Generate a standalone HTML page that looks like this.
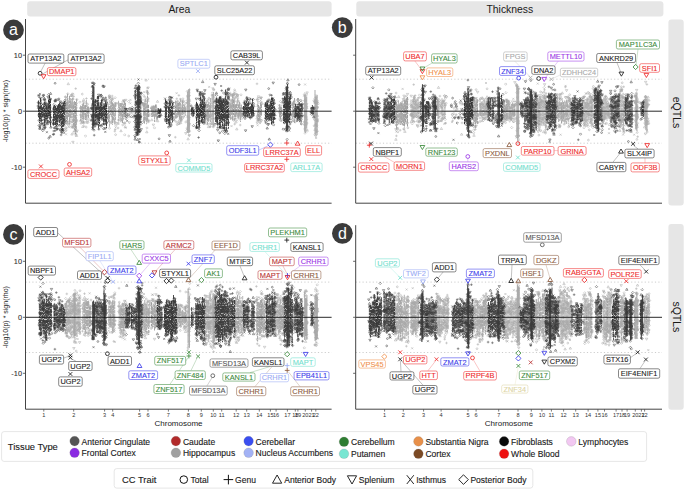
<!DOCTYPE html>
<html><head><meta charset="utf-8"><style>html,body{margin:0;padding:0;background:#fff;width:685px;height:490px;overflow:hidden}svg{display:block}</style></head>
<body><svg width="685" height="490" viewBox="0 0 685 490" font-family='"Liberation Sans", sans-serif'><defs><marker id="Dc" markerWidth="4" markerHeight="4" refX="2" refY="2" markerUnits="userSpaceOnUse" overflow="visible"><circle cx="2" cy="2" r="0.9" fill="none" stroke="#3c3c3c" stroke-width="0.5"/></marker><marker id="Dt" markerWidth="4" markerHeight="4" refX="2" refY="2" markerUnits="userSpaceOnUse" overflow="visible"><path d="M2 0.8L3.2 2.9H0.8z" fill="none" stroke="#3c3c3c" stroke-width="0.5"/></marker><marker id="Dv" markerWidth="4" markerHeight="4" refX="2" refY="2" markerUnits="userSpaceOnUse" overflow="visible"><path d="M2 3.2L3.2 1.1H0.8z" fill="none" stroke="#3c3c3c" stroke-width="0.5"/></marker><marker id="Dd" markerWidth="4" markerHeight="4" refX="2" refY="2" markerUnits="userSpaceOnUse" overflow="visible"><path d="M2 0.8L3.2 2L2 3.2L0.8 2z" fill="none" stroke="#3c3c3c" stroke-width="0.5"/></marker><marker id="Dp" markerWidth="4" markerHeight="4" refX="2" refY="2" markerUnits="userSpaceOnUse" overflow="visible"><path d="M0.7 2H3.3M2 0.7V3.3" fill="none" stroke="#3c3c3c" stroke-width="0.5"/></marker><marker id="Dx" markerWidth="4" markerHeight="4" refX="2" refY="2" markerUnits="userSpaceOnUse" overflow="visible"><path d="M1 1L3 3M3 1L1 3" fill="none" stroke="#3c3c3c" stroke-width="0.5"/></marker><marker id="Lc" markerWidth="4" markerHeight="4" refX="2" refY="2" markerUnits="userSpaceOnUse" overflow="visible"><circle cx="2" cy="2" r="0.9" fill="none" stroke="#a8a8a8" stroke-width="0.5"/></marker><marker id="Lt" markerWidth="4" markerHeight="4" refX="2" refY="2" markerUnits="userSpaceOnUse" overflow="visible"><path d="M2 0.8L3.2 2.9H0.8z" fill="none" stroke="#a8a8a8" stroke-width="0.5"/></marker><marker id="Lv" markerWidth="4" markerHeight="4" refX="2" refY="2" markerUnits="userSpaceOnUse" overflow="visible"><path d="M2 3.2L3.2 1.1H0.8z" fill="none" stroke="#a8a8a8" stroke-width="0.5"/></marker><marker id="Ld" markerWidth="4" markerHeight="4" refX="2" refY="2" markerUnits="userSpaceOnUse" overflow="visible"><path d="M2 0.8L3.2 2L2 3.2L0.8 2z" fill="none" stroke="#a8a8a8" stroke-width="0.5"/></marker><marker id="Lp" markerWidth="4" markerHeight="4" refX="2" refY="2" markerUnits="userSpaceOnUse" overflow="visible"><path d="M0.7 2H3.3M2 0.7V3.3" fill="none" stroke="#a8a8a8" stroke-width="0.5"/></marker><marker id="Lx" markerWidth="4" markerHeight="4" refX="2" refY="2" markerUnits="userSpaceOnUse" overflow="visible"><path d="M1 1L3 3M3 1L1 3" fill="none" stroke="#a8a8a8" stroke-width="0.5"/></marker></defs><rect width="685" height="490" fill="#fff"/><rect x="27.2" y="1.2" width="304.40000000000003" height="15.3" rx="3" fill="#e6e6e6"/><text x="179.4" y="13.45" font-size="10.4" text-anchor="middle" fill="#1a1a1a">Area</text><rect x="356.3" y="1.2" width="307.09999999999997" height="15.3" rx="3" fill="#e6e6e6"/><text x="509.85" y="13.45" font-size="10.4" text-anchor="middle" fill="#1a1a1a">Thickness</text><rect x="668.4" y="19.6" width="15.300000000000068" height="185.8" rx="3" fill="#e6e6e6"/><text transform="translate(672.8499999999999,112.5) rotate(90)" font-size="10.5" text-anchor="middle" fill="#1a1a1a">eQTLs</text><rect x="668.4" y="224.0" width="15.300000000000068" height="185.8" rx="3" fill="#e6e6e6"/><text transform="translate(672.8499999999999,316.9) rotate(90)" font-size="10.5" text-anchor="middle" fill="#1a1a1a">sQTLs</text><line x1="25.5" y1="79.2" x2="331.6" y2="79.2" stroke="#b8b8b8" stroke-width="0.7" stroke-dasharray="1.2,2.2"/><line x1="25.5" y1="143.2" x2="331.6" y2="143.2" stroke="#b8b8b8" stroke-width="0.7" stroke-dasharray="1.2,2.2"/><line x1="22.9" y1="55.2" x2="25.5" y2="55.2" stroke="#444444" stroke-width="0.8"/><text x="22.0" y="57.800000000000004" font-size="7.4" text-anchor="end" fill="#333" stroke="#333" stroke-width="0.1">10</text><line x1="22.9" y1="111.2" x2="25.5" y2="111.2" stroke="#444444" stroke-width="0.8"/><text x="22.0" y="113.8" font-size="7.4" text-anchor="end" fill="#333" stroke="#333" stroke-width="0.1">0</text><line x1="22.9" y1="167.2" x2="25.5" y2="167.2" stroke="#444444" stroke-width="0.8"/><text x="22.0" y="169.79999999999998" font-size="7.4" text-anchor="end" fill="#333" stroke="#333" stroke-width="0.1">-10</text><text transform="translate(7.899999999999999,111.1) rotate(-90)" font-size="7" text-anchor="middle" fill="#1a1a1a">-log10(p) * sign(rho)</text><line x1="355.7" y1="79.2" x2="662.0" y2="79.2" stroke="#b8b8b8" stroke-width="0.7" stroke-dasharray="1.2,2.2"/><line x1="355.7" y1="143.2" x2="662.0" y2="143.2" stroke="#b8b8b8" stroke-width="0.7" stroke-dasharray="1.2,2.2"/><line x1="353.09999999999997" y1="55.2" x2="355.7" y2="55.2" stroke="#444444" stroke-width="0.8"/><line x1="353.09999999999997" y1="111.2" x2="355.7" y2="111.2" stroke="#444444" stroke-width="0.8"/><line x1="353.09999999999997" y1="167.2" x2="355.7" y2="167.2" stroke="#444444" stroke-width="0.8"/><line x1="25.5" y1="282.1" x2="331.6" y2="282.1" stroke="#b8b8b8" stroke-width="0.7" stroke-dasharray="1.2,2.2"/><line x1="25.5" y1="352.5" x2="331.6" y2="352.5" stroke="#b8b8b8" stroke-width="0.7" stroke-dasharray="1.2,2.2"/><line x1="22.9" y1="261.3" x2="25.5" y2="261.3" stroke="#444444" stroke-width="0.8"/><text x="22.0" y="263.90000000000003" font-size="7.4" text-anchor="end" fill="#333" stroke="#333" stroke-width="0.1">10</text><line x1="22.9" y1="317.3" x2="25.5" y2="317.3" stroke="#444444" stroke-width="0.8"/><text x="22.0" y="319.90000000000003" font-size="7.4" text-anchor="end" fill="#333" stroke="#333" stroke-width="0.1">0</text><line x1="22.9" y1="373.3" x2="25.5" y2="373.3" stroke="#444444" stroke-width="0.8"/><text x="22.0" y="375.90000000000003" font-size="7.4" text-anchor="end" fill="#333" stroke="#333" stroke-width="0.1">-10</text><text transform="translate(7.899999999999999,317.2) rotate(-90)" font-size="7" text-anchor="middle" fill="#1a1a1a">-log10(p) * sign(rho)</text><line x1="43.8" y1="409.2" x2="43.8" y2="411.59999999999997" stroke="#444444" stroke-width="0.7"/><text x="43.8" y="416.9" font-size="5.6" text-anchor="middle" fill="#333">1</text><line x1="73.7" y1="409.2" x2="73.7" y2="411.59999999999997" stroke="#444444" stroke-width="0.7"/><text x="73.7" y="416.9" font-size="5.6" text-anchor="middle" fill="#333">2</text><line x1="104.6" y1="409.2" x2="104.6" y2="411.59999999999997" stroke="#444444" stroke-width="0.7"/><text x="104.6" y="416.9" font-size="5.6" text-anchor="middle" fill="#333">3</text><line x1="112.7" y1="409.2" x2="112.7" y2="411.59999999999997" stroke="#444444" stroke-width="0.7"/><text x="112.7" y="416.9" font-size="5.6" text-anchor="middle" fill="#333">4</text><line x1="139.6" y1="409.2" x2="139.6" y2="411.59999999999997" stroke="#444444" stroke-width="0.7"/><text x="139.6" y="416.9" font-size="5.6" text-anchor="middle" fill="#333">5</text><line x1="148.0" y1="409.2" x2="148.0" y2="411.59999999999997" stroke="#444444" stroke-width="0.7"/><text x="148.0" y="416.9" font-size="5.6" text-anchor="middle" fill="#333">6</text><line x1="168.4" y1="409.2" x2="168.4" y2="411.59999999999997" stroke="#444444" stroke-width="0.7"/><text x="168.4" y="416.9" font-size="5.6" text-anchor="middle" fill="#333">7</text><line x1="188.4" y1="409.2" x2="188.4" y2="411.59999999999997" stroke="#444444" stroke-width="0.7"/><text x="188.4" y="416.9" font-size="5.6" text-anchor="middle" fill="#333">8</text><line x1="201.3" y1="409.2" x2="201.3" y2="411.59999999999997" stroke="#444444" stroke-width="0.7"/><text x="201.3" y="416.9" font-size="5.6" text-anchor="middle" fill="#333">9</text><line x1="213.3" y1="409.2" x2="213.3" y2="411.59999999999997" stroke="#444444" stroke-width="0.7"/><text x="213.3" y="416.9" font-size="5.6" text-anchor="middle" fill="#333">10</text><line x1="221.7" y1="409.2" x2="221.7" y2="411.59999999999997" stroke="#444444" stroke-width="0.7"/><text x="221.7" y="416.9" font-size="5.6" text-anchor="middle" fill="#333">11</text><line x1="236.2" y1="409.2" x2="236.2" y2="411.59999999999997" stroke="#444444" stroke-width="0.7"/><text x="236.2" y="416.9" font-size="5.6" text-anchor="middle" fill="#333">12</text><line x1="246.7" y1="409.2" x2="246.7" y2="411.59999999999997" stroke="#444444" stroke-width="0.7"/><text x="246.7" y="416.9" font-size="5.6" text-anchor="middle" fill="#333">13</text><line x1="259.3" y1="409.2" x2="259.3" y2="411.59999999999997" stroke="#444444" stroke-width="0.7"/><text x="259.3" y="416.9" font-size="5.6" text-anchor="middle" fill="#333">14</text><line x1="270.4" y1="409.2" x2="270.4" y2="411.59999999999997" stroke="#444444" stroke-width="0.7"/><text x="270.4" y="416.9" font-size="5.6" text-anchor="middle" fill="#333">15</text><line x1="276.1" y1="409.2" x2="276.1" y2="411.59999999999997" stroke="#444444" stroke-width="0.7"/><text x="276.1" y="416.9" font-size="5.6" text-anchor="middle" fill="#333">16</text><line x1="287.4" y1="409.2" x2="287.4" y2="411.59999999999997" stroke="#444444" stroke-width="0.7"/><text x="287.4" y="416.9" font-size="5.6" text-anchor="middle" fill="#333">17</text><line x1="295.3" y1="409.2" x2="295.3" y2="411.59999999999997" stroke="#444444" stroke-width="0.7"/><text x="295.3" y="416.9" font-size="5.6" text-anchor="middle" fill="#333">18</text><line x1="297.9" y1="409.2" x2="297.9" y2="411.59999999999997" stroke="#444444" stroke-width="0.7"/><text x="297.9" y="416.9" font-size="5.6" text-anchor="middle" fill="#333">19</text><line x1="305.3" y1="409.2" x2="305.3" y2="411.59999999999997" stroke="#444444" stroke-width="0.7"/><text x="305.3" y="416.9" font-size="5.6" text-anchor="middle" fill="#333">20</text><line x1="311.6" y1="409.2" x2="311.6" y2="411.59999999999997" stroke="#444444" stroke-width="0.7"/><text x="311.6" y="416.9" font-size="5.6" text-anchor="middle" fill="#333">21</text><line x1="315.8" y1="409.2" x2="315.8" y2="411.59999999999997" stroke="#444444" stroke-width="0.7"/><text x="315.8" y="416.9" font-size="5.6" text-anchor="middle" fill="#333">22</text><text x="178.55" y="425.8" font-size="8" text-anchor="middle" fill="#1a1a1a">Chromosome</text><line x1="355.7" y1="282.1" x2="662.0" y2="282.1" stroke="#b8b8b8" stroke-width="0.7" stroke-dasharray="1.2,2.2"/><line x1="355.7" y1="352.5" x2="662.0" y2="352.5" stroke="#b8b8b8" stroke-width="0.7" stroke-dasharray="1.2,2.2"/><line x1="353.09999999999997" y1="261.3" x2="355.7" y2="261.3" stroke="#444444" stroke-width="0.8"/><line x1="353.09999999999997" y1="317.3" x2="355.7" y2="317.3" stroke="#444444" stroke-width="0.8"/><line x1="353.09999999999997" y1="373.3" x2="355.7" y2="373.3" stroke="#444444" stroke-width="0.8"/><line x1="384.6" y1="409.2" x2="384.6" y2="411.59999999999997" stroke="#444444" stroke-width="0.7"/><text x="384.6" y="416.9" font-size="5.6" text-anchor="middle" fill="#333">1</text><line x1="403.3" y1="409.2" x2="403.3" y2="411.59999999999997" stroke="#444444" stroke-width="0.7"/><text x="403.3" y="416.9" font-size="5.6" text-anchor="middle" fill="#333">2</text><line x1="423.6" y1="409.2" x2="423.6" y2="411.59999999999997" stroke="#444444" stroke-width="0.7"/><text x="423.6" y="416.9" font-size="5.6" text-anchor="middle" fill="#333">3</text><line x1="441.1" y1="409.2" x2="441.1" y2="411.59999999999997" stroke="#444444" stroke-width="0.7"/><text x="441.1" y="416.9" font-size="5.6" text-anchor="middle" fill="#333">4</text><line x1="468.0" y1="409.2" x2="468.0" y2="411.59999999999997" stroke="#444444" stroke-width="0.7"/><text x="468.0" y="416.9" font-size="5.6" text-anchor="middle" fill="#333">5</text><line x1="476.1" y1="409.2" x2="476.1" y2="411.59999999999997" stroke="#444444" stroke-width="0.7"/><text x="476.1" y="416.9" font-size="5.6" text-anchor="middle" fill="#333">6</text><line x1="498.7" y1="409.2" x2="498.7" y2="411.59999999999997" stroke="#444444" stroke-width="0.7"/><text x="498.7" y="416.9" font-size="5.6" text-anchor="middle" fill="#333">7</text><line x1="518.0" y1="409.2" x2="518.0" y2="411.59999999999997" stroke="#444444" stroke-width="0.7"/><text x="518.0" y="416.9" font-size="5.6" text-anchor="middle" fill="#333">8</text><line x1="531.3" y1="409.2" x2="531.3" y2="411.59999999999997" stroke="#444444" stroke-width="0.7"/><text x="531.3" y="416.9" font-size="5.6" text-anchor="middle" fill="#333">9</text><line x1="541.9" y1="409.2" x2="541.9" y2="411.59999999999997" stroke="#444444" stroke-width="0.7"/><text x="541.9" y="416.9" font-size="5.6" text-anchor="middle" fill="#333">10</text><line x1="551.4" y1="409.2" x2="551.4" y2="411.59999999999997" stroke="#444444" stroke-width="0.7"/><text x="551.4" y="416.9" font-size="5.6" text-anchor="middle" fill="#333">11</text><line x1="563.6" y1="409.2" x2="563.6" y2="411.59999999999997" stroke="#444444" stroke-width="0.7"/><text x="563.6" y="416.9" font-size="5.6" text-anchor="middle" fill="#333">12</text><line x1="575.7" y1="409.2" x2="575.7" y2="411.59999999999997" stroke="#444444" stroke-width="0.7"/><text x="575.7" y="416.9" font-size="5.6" text-anchor="middle" fill="#333">13</text><line x1="588.1" y1="409.2" x2="588.1" y2="411.59999999999997" stroke="#444444" stroke-width="0.7"/><text x="588.1" y="416.9" font-size="5.6" text-anchor="middle" fill="#333">14</text><line x1="597.9" y1="409.2" x2="597.9" y2="411.59999999999997" stroke="#444444" stroke-width="0.7"/><text x="597.9" y="416.9" font-size="5.6" text-anchor="middle" fill="#333">15</text><line x1="604.5" y1="409.2" x2="604.5" y2="411.59999999999997" stroke="#444444" stroke-width="0.7"/><text x="604.5" y="416.9" font-size="5.6" text-anchor="middle" fill="#333">16</text><line x1="616.1" y1="409.2" x2="616.1" y2="411.59999999999997" stroke="#444444" stroke-width="0.7"/><text x="616.1" y="416.9" font-size="5.6" text-anchor="middle" fill="#333">17</text><line x1="622.0" y1="409.2" x2="622.0" y2="411.59999999999997" stroke="#444444" stroke-width="0.7"/><text x="622.0" y="416.9" font-size="5.6" text-anchor="middle" fill="#333">18</text><line x1="627.1" y1="409.2" x2="627.1" y2="411.59999999999997" stroke="#444444" stroke-width="0.7"/><text x="627.1" y="416.9" font-size="5.6" text-anchor="middle" fill="#333">19</text><line x1="635.3" y1="409.2" x2="635.3" y2="411.59999999999997" stroke="#444444" stroke-width="0.7"/><text x="635.3" y="416.9" font-size="5.6" text-anchor="middle" fill="#333">20</text><line x1="641.4" y1="409.2" x2="641.4" y2="411.59999999999997" stroke="#444444" stroke-width="0.7"/><text x="641.4" y="416.9" font-size="5.6" text-anchor="middle" fill="#333">21</text><line x1="644.6" y1="409.2" x2="644.6" y2="411.59999999999997" stroke="#444444" stroke-width="0.7"/><text x="644.6" y="416.9" font-size="5.6" text-anchor="middle" fill="#333">22</text><text x="508.85" y="425.8" font-size="8" text-anchor="middle" fill="#1a1a1a">Chromosome</text><path d="M187.5 91.3V133.1M188.5 89.2V133.5M189.5 88.6V132.4M212.1 94.3V125.3M213.4 92.1V126.8M304.5 94.4V131.7M305.6 95.1V132.9M306.7 96.6V128.5M315 90.1V134M316.1 96.2V133.2M317.2 95.1V133" stroke="#b3b3b3" stroke-width="1.1"/><path d="M75.5 101.9V134.3M108.5 106.2V122M148.5 104.8V117.1M155.5 104.5V116.4M178.5 102.9V115.4M233.5 100V114.9M258.5 105.1V121.3M280.5 106.9V119.8" stroke="#9c9c9c" stroke-width="1.05" stroke-dasharray="3.2 0.7 4.4 0.6"/><path d="M65.5 100.2V123.1M66.5 101.7V123.8M67.5 93.6V122.5M69.5 95.9V124.2M73.5 104.9V125.8M85.5 105.1V120.1M87.5 106.5V115.8M88.5 106.4V117.7M112.5 102.5V124.8M122.5 105.8V122.9M124.5 101.4V116.8M125.5 102.7V116.4M144.5 102.8V123.4M147.5 90.8V120M179.5 101.8V118.7M182.5 100.7V114.7M205.5 103.4V122.2M207.5 104.1V124.5M235.5 104.4V118.7M236.5 104.1V114.5M238.5 104.3V118.5M260.5 102.5V116.2M261.5 104.1V115.6M293.5 101V117.2M294.5 97.9V123.1" stroke="#a4a4a4" stroke-width="1.05" stroke-dasharray="4 0.6 2.6 0.7 5 0.5"/><path d="M68.5 105.2V117.1M70.5 100.7V118.9M74.5 101V130.5M82.5 104.2V119.1M83.5 102.4V124.3M110.5 105.3V115M113.5 103.4V120M119.5 106.6V116.2M152.5 106.7V117M153.5 105.8V116.2M154.5 106.2V121.9M175.5 100.8V118.3M208.5 103.6V122.1M231.5 104.6V115.1M232.5 94.2V120.5M239.5 101.9V114.8M240.5 107.4V122.1M259.5 107.2V120.9M279.5 104.2V118M281.5 107V116.4" stroke="#acacac" stroke-width="1.05" stroke-dasharray="4 0.6 2.6 0.7 5 0.5"/><path d="M76.5 98.8V131.4M80.5 105.6V120.9M84.5 105.3V114.6M109.5 106.1V127.4M111.5 100.1V118.2M115.5 103.2V120.1M120.5 103.1V115.8M121.5 103.7V116.9M123.5 104V119.5M143.5 103.5V121.9M151.5 108V117.1M157.5 107.9V119.5M176.5 105.1V118.7M177.5 102.7V117.5M180.5 98.5V120.5M184.5 105.5V114.2M210.5 97.9V122M230.5 103.7V119.7M234.5 99.8V120.8M292.5 102.5V119.5M316.5 106.5V121.4" stroke="#b4b4b4" stroke-width="1.05" stroke-dasharray="4 0.6 2.6 0.7 5 0.5"/><path d="M71.5 102.2V118.2M72.5 97.7V120.7M81.5 106.3V118M86.5 100V122.3M114.5 104.6V124.4M118.5 100.7V120M145.5 98.6V118.2M146.5 104.6V124.3M156.5 104.5V119.6M181.5 107.5V120.3M183.5 107V114.1M185.5 106.4V115.8M206.5 104.2V119.6M209.5 105.4V117.9M229.5 102V115.4M237.5 98.8V117.2M241.5 104.8V117.1M257.5 103.4V121.4" stroke="#bcbcbc" stroke-width="1.05" stroke-dasharray="4 0.6 2.6 0.7 5 0.5"/><path d="M65.9 130.5 65.2 96.9 66.5 98.4 67.7 102.3 68 123.2 68.5 125.4 68.3 106.1 68.8 102.4 70.2 114.1 69.9 116 70.9 95.7 72.1 107 72.6 121.2 73.7 105.3 73.9 119.1 75.1 129.2 75.7 119.5 76.4 103.3 76.3 107.3 76.4 120 80.6 114.9 80.4 121 81.9 119.7 81.6 117.8 82.2 122 82.9 104.4 83.9 123.1 84.7 114.2 85.8 114.7 85.9 116.1 86.2 127.1 86.1 114.9 87.1 122.8 87.8 120.8 88 122.4 88.9 108.5 88.5 109.4 82.3 94.1 108.4 118.1 108.1 116.6 109.5 128.3 109.4 97.4 110.3 102.4 110.3 107.4 110.1 101.4 112 120.9 111.7 113.4 112.4 101.4 115.1 109.3 114.7 106.2 116 125.3 115.7 105.7 115.6 134.7 118.3 123 118 128 119.8 113.1 121 120 121.1 113.7 121.5 109.4 122.7 124.9 121.9 104.2 124.8 123.4 125.6 115.9 128.7 136 143.7 95.5 144.9 97.2 145 107.5 145.3 117.9 147.3 118.2 148.3 98.8 149 121.3 148.2 93.7 151.5 108.6 154.4 107.4 156.9 116.6 156.9 117 157.2 114 177.2 124.7 178 116 177.5 102.3 178.1 106.8 178.8 109 182.9 98.8 185.8 122 185.5 109.6 185.3 108.7 185.8 103.2 187.1 107 188.9 119.6 188.4 122.9 189.2 99.6 205.4 116.6 207.7 124 208.9 117 208.9 115.6 210 105.6 213.3 113.8 213.9 114.1 213.2 126.9 230.1 93 230 94.7 230.5 106.6 231 113.3 231.7 112.5 234.6 89.9 236.2 105.2 236.7 94.6 238.9 102.3 238.8 115.1 239.7 119.1 239.1 106.8 239.9 113.6 241.8 113.9 257.6 99.8 257.9 115.2 257.9 120.7 259.9 119 260.1 122.3 260 117.3 279.3 112.5 280.6 120.5 281.9 109.6 292 102.7 292.1 116.3 294.1 113.4 295.1 122.1 304.2 124.5 305.1 114.9 306.5 94.8 314.1 125.8 313.9 100.6 315.6 106.2 316.8 108 317.5 100.9 314.9 134.6 315.5 99.8 316.2 97.6 317.4 107.4 317.6 120.7 317.5 121.6" fill="none" stroke="none" marker-start="url(#Lc)" marker-mid="url(#Lc)" marker-end="url(#Lc)"/><path d="M65.4 118.8 65.6 103.4 65.7 130.5 66.9 98.3 67.8 93.8 67.8 103.2 68.2 115 68.6 122.7 69.8 120.9 70 106 69.4 115.9 71 105 71.9 127 71 118.8 72.2 94 73 94.1 74.3 121.3 74 120.7 74 132.6 76 115.4 80.8 107.7 79.9 102.1 81.2 120.1 81.9 109.1 84 106.1 84.8 108.9 85 122.1 87.1 103.9 87.2 104.6 89 109.3 88.7 112.8 85.5 136 109.3 99.3 110.7 98.7 110.6 107.9 112.1 119.7 114 120.6 113.3 107.5 113.9 121.5 114.2 105.3 115.7 122.8 115.1 97.8 118.9 108.4 120 106.1 120.7 113.9 121.2 106.1 121 117.7 122.3 119.9 122.9 101.2 124.6 122.9 124.7 134.9 126 118.8 128.6 101.5 144.1 107.8 144.2 104.4 145 113.3 145.9 119.3 146.6 105.5 147 128 147.5 93 152.4 110.1 153.1 108.1 155.5 114.5 156.9 113.4 156.8 108.8 157.7 115.3 157.7 116.9 154.5 127.9 175.1 115.8 175.9 102.8 178.1 113.7 178.9 123.7 180.4 99.1 182.3 118.2 184.5 114.1 184.2 105 187.3 100.4 187 130.6 187.8 95.5 187.3 91.3 188.3 126.8 188.1 103.1 188.3 128.2 189.8 104.4 206.6 123.9 207.2 114.9 207.5 121.4 209.2 104.5 208.9 120 211.1 106.8 211 115.4 212.2 102.8 212.3 115.7 212.6 93 213.9 126.1 230 108.1 230.2 100 231.2 105.9 232.7 96.3 232.9 117 232 100.2 233.1 115.2 234.9 91.5 234.1 93.8 237.6 95.2 238.9 116.6 239.5 107.7 241 109.5 241.5 108.5 241 94.9 258.4 114.2 260 115.7 259.9 122.9 262 103.6 261.4 120.6 261.2 103.6 279.9 108.1 280.5 101.5 280 108.2 281.9 119.2 294 120.6 294.3 119 294.1 103.1 304.6 121.8 304.6 100.7 305.1 103.7 305.7 100.9 305 133.1 305.2 106.3 307.3 131 316 102.9 316.8 120.9 318.1 103.7 314.8 101.8 315.1 103.2 315.1 98.4 315.7 103" fill="none" stroke="none" marker-start="url(#Ld)" marker-mid="url(#Ld)" marker-end="url(#Ld)"/><path d="M65.7 96.8 65.1 103.3 66.5 116.9 66.6 122.9 69.8 121.7 70 99.3 73 127.7 74 131.4 73 102.4 73.1 98.8 73.7 96.4 75 125 74.4 116.8 74.5 123.7 75.8 117.9 76.3 105.2 77 121 75.7 88.6 81 123.4 83 101.6 82.3 107.7 83.9 116.7 84.9 118.6 86.4 98.5 109.6 97.3 111.6 103.2 112.1 105.6 112.2 98.1 112 99.6 112.2 96 113.6 107.7 115 103.2 115.2 129.5 115.6 122.5 115.7 103.7 114.8 131.2 118.7 120.6 118.6 119.7 122 103.5 123.6 101.4 124.2 108.9 125.3 116.7 127.2 113.8 129.9 116.8 133.8 117.7 143.3 103.3 146.1 103.3 147 90.8 146.2 120.1 148 122.1 152 106.6 152.4 107 152.9 108.2 153.6 109.8 154.9 115 175.2 121 176.8 98.8 176.5 105.8 177.9 114.1 178.9 95.4 179 104.3 179.3 114.8 180.6 119.7 180.9 116.8 175.3 137.2 181.9 108.6 181.3 121 181 105 182.8 101.3 182.7 102.7 182 113.7 183 105.7 184.1 105.3 187 102.8 187.5 96.8 188.1 96.3 189.6 117.6 189 135.3 189.6 95.6 189.3 123.8 189.8 131.1 205.7 102.7 206 104.1 205.4 108.3 206 117.4 207.2 114.6 207.9 117 208.8 102.5 209.5 109.4 210.1 106.4 209.9 126.8 210.4 126.7 210.3 124.2 211.9 95.1 211.7 118.7 213.5 94.6 213.9 89.9 231 118.4 231.8 117.8 231.3 106.4 231.2 94.6 232.9 118.9 234.3 104.5 234.7 124.1 235.3 114.7 235.9 113.5 235.3 97.9 236 101.3 236.1 94 237.9 98.2 238.5 100.8 239.1 116.2 240.2 125 256.9 99.5 258.8 108.2 261.4 104.1 257 83.8 279.2 108.3 281.5 120.8 281.5 113.3 281.7 102.4 293.6 104.9 294.4 116.5 305.3 116.4 307 129.9 306.9 122.4 314.6 109.1 315.7 114.4 315.9 103.5 314.7 102.6 315.1 107.1 315 101.4 314.9 101.1 314.8 107.5 315.9 124.3 315.9 116.5 317.5 107.7 316.8 124.1" fill="none" stroke="none" marker-start="url(#Lp)" marker-mid="url(#Lp)" marker-end="url(#Lp)"/><path d="M66.2 103.7 67.3 102.7 68.7 115 69 101.8 70 115.9 71.1 100.7 70.5 99.2 71.8 95.6 72 134.1 72.8 98.9 72 121.8 72.7 106.9 74 103.2 74.9 120.3 75.8 120 76.6 135.5 68.3 83.8 80.8 107.4 81.8 107.7 82.8 126.6 83.7 99.6 84.2 107.3 85.1 102.4 88.4 118.4 108.3 115 109.5 108.7 109.4 95.9 110.6 103.6 111 122.8 114 107.8 113.7 107.7 118.4 103.2 118 123.5 119.7 104.5 120.2 117.9 121.4 120.9 121.1 114 123.6 106.4 124.3 113.9 125.2 126.6 121 130.8 127.1 116.7 143.7 120.7 143.3 104.6 144 105.9 144.4 113.7 144.2 103.6 145.7 100.6 146.7 117 146.8 106.7 147.3 91.6 147.9 100.5 147.2 119.5 148.8 115.4 146.8 131.9 146.1 80.1 151.8 119.8 152.7 113.5 152.8 109.7 155.2 115 157.5 101.4 157.8 120.9 175.7 117 176.9 103.4 177 122.1 176.9 105.3 178.9 123.5 178.6 107.6 179.6 113.8 179.5 120.1 180.7 122.7 188.3 95.6 189 92.2 189.4 100.5 188.1 138.9 205.6 115.9 206.9 115.9 208.1 115.5 209 98.1 209 108.5 208.5 126.7 209.1 118 210.8 122.5 213.6 89 213.9 97.2 229.8 113.7 229.1 99.1 231.1 101.2 230.3 106.9 230.9 94.9 232.2 102.6 233.3 94.7 233.6 98.6 234.1 93.4 234.1 107.4 234.1 106.6 233.9 98.5 235.2 115.4 236 122 237.9 116.2 237.3 95.8 240.3 104.7 241.2 115.2 241.4 118.2 236.8 129 257.4 115.7 257 118 258 119.4 259.5 119.4 292.2 105 293.1 103.8 293.2 113.1 293 114.5 304.4 115.3 304.6 104.3 304.7 93.7 305.4 99.7 305 128.3 306.8 107.7 314.9 114.1 314.3 116.1 315.2 109.1 317 115 317 102.2 317.2 115.8 315 129.5 314.7 115.3 315.7 124.6 316.3 133.6 317.2 130.6" fill="none" stroke="none" marker-start="url(#Lt)" marker-mid="url(#Lt)" marker-end="url(#Lt)"/><path d="M65.9 127.8 66.8 106.3 70.5 115 71.1 102.6 71.8 106.1 71.5 95.5 72.8 125.6 73 127.2 73.6 115.5 74.4 127.4 75.9 109 75.9 104.2 75.9 135.4 75.7 120.2 75.1 123.8 76.3 132.5 76.9 99.9 77.1 130.9 72.9 142.2 80.9 109.2 82.3 122 83.6 114.9 82.9 122.7 84.7 109.3 107.9 105.4 108.9 117.3 109.5 96.1 111.4 122.3 116 103.5 121 115 121.4 119.8 121.8 117.5 123.8 100.7 123.7 107.6 123.3 108 124.6 114.2 124.3 101 125.2 115.6 126 118.7 125.8 100.2 129.3 122.7 130.2 113.3 132.3 113.3 133.5 109.2 143.3 105 143 103.8 144.8 100.6 145.2 104.4 146 107.6 148.1 87.9 147.6 99 149 114 148.2 120.8 151.7 108.6 153.4 125 176.1 109.3 179.7 114.9 179.8 122.3 181.1 107.2 180.2 119.3 181.8 119.7 182.1 101.3 183.7 101.8 183.9 108.9 183.5 117 185.8 133.4 188 121.1 187.1 128.8 188.1 106 188 116.4 188.4 117.2 188.6 125.7 189.4 135.5 205.2 108.3 206.1 119.2 206.3 115.9 209.3 116.2 210.1 106.4 213.4 95.9 213.8 106.3 229.6 116.9 231 104.4 230 103.6 231.8 107.6 233.1 96.1 233.7 94.5 233.9 120.4 234.9 107.7 235.5 107.5 235.2 119.3 236 114.8 236.2 97 237.7 95.3 238.8 114.3 240 114.9 240.1 114.8 257.2 122.8 258.2 102.4 258.3 98.5 258.5 96.7 261 98 260.4 107.3 261 120.5 261.2 97.9 280 119.7 280.9 106 305 125.2 306.2 117.7 307.1 92.8 306.8 124.3 306.8 119.8 306.7 107 306.7 104.5 314.4 119.7 316.2 115.1 316.2 114 317.5 119.7 315.8 136.1 316.5 134.4 317.1 103.2 316.7 120.1" fill="none" stroke="none" marker-start="url(#Lv)" marker-mid="url(#Lv)" marker-end="url(#Lv)"/><path d="M65.8 117.6 66.7 128.4 66 117.5 66.1 121.3 66 134.3 67.1 115.2 67.1 124 67.2 105.2 69 104.9 68.2 100.6 69.5 116 69.7 124.3 69.2 127.1 71.6 107 71.6 127.2 72 122.4 73.2 125.6 74 104.1 82.9 115.9 84.1 126.2 86 117 85.8 117.1 86.2 116.6 86.8 106.7 87.2 113.3 87.9 116.7 108.6 120.6 110 97.8 109 107.6 111.2 109.2 113 118.2 111.9 114.6 113 99.1 114.2 115.3 115.6 127.4 119 105 120.7 103.9 122.9 108.1 122.4 104.6 124.1 123.1 125.7 127.8 128.5 115 129.6 108 130.3 103.3 130.4 99.9 143.6 122.6 144.3 92.1 145.6 119.1 145.2 114.5 145.2 119.1 146.7 114.6 147.5 87.9 148.1 120.2 151.4 115 151 108.1 153.5 113.3 154.4 107.7 154 116 154.1 106.1 155.4 112.6 155.6 107.7 156.9 119 156.4 120.8 175.2 118 177.1 107.2 177 109.1 176.6 101.3 178 101.2 176.6 93.2 181.4 117.1 183.4 108.3 184 116.4 185.6 109.2 187.6 116.9 187.6 101.5 187.8 98 188 130.3 189.4 90.1 189.7 124.3 206.1 115 206.1 102.7 207.1 101.6 207 100.5 208.4 99.8 210.9 115.9 209.2 86.9 212.4 99.1 212.3 114.8 212 113.8 212.6 88.1 211.8 124.3 228.9 113 232.6 99.5 233 102.1 232.1 101 233.6 95.3 237 120.4 236.3 106.8 238.1 117.8 237.2 103 239.6 105.9 240.5 108.1 241.2 108.4 241.6 113.7 229.5 88.2 231.5 126.1 257.4 105.6 257.6 125.3 259.9 116.4 260.7 98.2 260.6 100.4 260 113.9 261.4 102 279 105.4 280 108.7 280.9 115.9 292.8 121 291.9 104.5 293.5 121.1 294.1 103.1 294.2 100.8 294.5 101.1 304.3 121.8 304 95.8 305.4 116.9 305.2 116.5 305.1 84.5 316.6 126.1 317.1 126.2 316 95.3 316.5 132 316.9 121 317.4 107 317.3 107.3 316.1 138" fill="none" stroke="none" marker-start="url(#Lx)" marker-mid="url(#Lx)" marker-end="url(#Lx)"/><path d="M92.8 84.9V129.1M93.9 86.8V126.3M137.5 86.7V135.2M138.5 86.6V132.5M286.5 87.3V130.9M287.5 84.1V130.6" stroke="#494949" stroke-width="1.1"/><path d="M39.5 106.8V123.3M48.5 100V115.9M49.5 95.3V115.9M99.5 106.6V124.2M106.5 104.2V129.1M193.5 109.7V116M197.5 103.4V117.4M201.5 104.2V122.8M219.5 96.9V128.4M252.5 99V114M253.5 106.6V114.3M267.5 103.1V119.3M271.5 97.4V124.4" stroke="#343434" stroke-width="1.05" stroke-dasharray="2.8 0.5 1.5 0.7 3.3 0.8"/><path d="M40.5 97.9V118.9M46.5 105.6V119M50.5 99.1V127M53.5 106.3V125.7M93.5 103.7V124.2M96.5 106.2V117.6M104.5 105.8V116.5M159.5 109.8V114.6M160.5 108.7V114.3M168.5 106.6V122.6M196.5 101.7V129M199.5 107.5V127M200.5 96.5V116.6M217.5 104.3V125.6M218.5 99.6V116.5M221.5 100.6V122.5M222.5 101.6V125.9M243.5 105.9V114.4M251.5 103.8V115.3M272.5 97.6V115.7M284.5 96.3V121.8M300.2 108.4V117M302 104.9V114.5" stroke="#3c3c3c" stroke-width="1.05" stroke-dasharray="4.2 0.7 2 0.6"/><path d="M38.5 100.6V117.2M55.5 105.8V125.3M61.5 106.2V129.9M62.5 105.2V131.1M63.5 102.6V126.8M95.5 99.3V121.5M101.5 99.6V118M138.6 88.2V132M139.7 86.3V133.3M165.5 99.3V119.6M191.5 107.9V113.8M203.5 103.9V117.9M223.5 99.1V120.5M227.5 101.2V120.9M248.5 102.2V113.7M265.5 102.6V118.9M273.5 101.5V122.9M285.5 98V121.9M286.5 100.6V119.7M287.5 101.5V116.9M289.5 98.2V122.9M298.3 106.2V117.9M311.2 107.3V113.2" stroke="#444444" stroke-width="1.05" stroke-dasharray="4.2 0.7 2 0.6"/><path d="M42.5 107.6V117.6M44.5 101.9V126.1M54.5 104.9V118.3M56.5 107.9V126.6M58.5 103.9V116.9M60.5 104.4V121.3M102.5 107V117.2M105.5 101.5V121.7M135.3 89.8V125.3M140.8 95.5V123.1M158.5 108.2V114.3M166.5 100.8V123.9M169.5 100.7V125.9M171.5 105.9V117.3M202.5 99.7V123.6M216.5 97.5V122.8M220.5 96.4V128.8M246.5 100.4V115M266.5 104.6V120.5M270.5 101.5V118.6M274.5 106.3V119.6M283.5 104.9V123.3M295.5 103.8V118M296.4 108.5V116.3M297.3 106.6V120.9M299.2 102V120.8M301.1 103.9V115.8" stroke="#4c4c4c" stroke-width="1.05" stroke-dasharray="3.2 0.6 1.8 0.7 4 0.5"/><path d="M41.5 104.8V122.1M43.5 105.9V116.4M57.5 105.7V125.1M59.5 102.7V122.9M64.5 101.1V121.1M97.5 96.1V118.7M98.5 96V129.4M100.5 102.3V118.1M103.5 105.9V124.8M170.5 102.6V118.3M172.5 103.1V122.4M192.5 107.5V113.5M204.5 98.2V119.9M215.5 105.5V122.1M224.5 101.6V130.6M225.5 89.6V118.8M226.5 99.2V129.9M228.5 101.5V129.4M247.5 102.7V117.3M249.5 106.7V115.8M250.5 106.3V113.8M268.5 107.5V118.7M269.5 106.4V120.9M288.5 101.7V121.9M290.5 94.2V116M313.4 106.4V113.8" stroke="#545454" stroke-width="1.05" stroke-dasharray="3.2 0.6 1.8 0.7 4 0.5"/><path d="M45.5 102.4V119M47.5 107.3V123.3M136.4 101.4V133M137.5 102.8V126.9M198.5 106V125.3M244.5 101.5V113.9M245.5 103V116.5M312.4 105V113.6" stroke="#5c5c5c" stroke-width="1.05" stroke-dasharray="4.2 0.7 2 0.6"/><path d="M38.9 120.4 40 116.2 39.7 128.3 41.1 120.3 42.1 109 42.7 125.2 43.2 108.5 44.1 116.9 45.1 102 46.6 115.4 45.9 109.1 48 115.7 47.6 120.8 49.1 107.1 50 117.8 50.7 99 50.7 117.2 51 121.9 48.7 138.2 53.1 124.1 53.8 134.1 54 117.5 54.2 127.9 55 100.7 55.1 108.5 56.3 118.2 58 108.7 57 122.2 58.9 98.9 58.4 118.1 60 120.3 60.4 124.7 61.9 102.9 61.6 117 62 109.3 62.7 104 62.3 129.3 63.2 122.4 64 125.2 55.1 83.3 91.5 108 91.6 108.7 91.6 107.8 93.6 101.5 93.5 101.9 94.1 122.2 92.2 82.9 93.4 83 93.9 114.4 93.9 120.4 95.2 113.9 95.8 107.8 96.4 101 98.6 119 98.9 129.2 99.1 118.6 99.3 121.7 100.3 107.6 100.8 117.9 101.4 106.1 104.1 120 103.6 106.1 106.9 118.2 106.5 102.2 107 103.3 129.6 108.8 131.8 109.4 135 129.8 135.6 98 135.2 137 135.4 91.6 135.4 93.9 136.4 119.5 136.2 126.3 136.2 102.1 137.2 101.5 137.7 121 138.3 123.3 138.7 100.4 138.2 103 139.7 99.7 140.1 116.8 140.6 102.2 141.1 93.1 141.3 93.2 140.5 117.2 139.6 142.2 137.8 117.4 137 132.8 138.7 115.7 138.7 88.9 160 116.2 159.6 116.6 159.1 138.8 166.7 107.1 167.1 117.5 168.5 127.1 168.8 123.8 168.4 106.2 170.6 100.1 172.2 108.4 173.5 119.7 191.2 106 192.4 108.3 196.4 116.9 196.6 104.4 197.8 115.8 198.4 127.2 199.2 121.5 198.9 125.6 202.2 92.6 203 107.2 203.6 96.9 204.1 121.9 203.9 123.5 205 115.5 215.8 113.5 216.4 104 217.1 101.5 218.1 101.8 219.7 132.8 220.9 107.1 220.6 104.8 220.2 104.9 221.7 106.3 221.5 104.8 223.7 115 225.1 117.7 225.5 124.5 225.4 119.8 226.2 104.5 226.4 116.6 228.6 89.3 228.8 96.7 245 118.5 244.8 101 245.5 113.3 246.8 98.6 246.7 109 247.6 114.6 249 108.7 250.3 108.4 251 107.4 251.5 112.4 253.9 106.3 265.5 118.1 265.4 120.9 266 103.3 267.2 105.5 267.6 120.5 268.2 115.4 269.5 108.4 270.6 102.6 271.1 101.1 272.4 120.5 273.1 122.4 268.7 88.6 284 114.6 284.5 122.8 284.3 100.5 284.3 104.5 284.1 119.4 285.4 129.5 286.4 121.1 286 99.3 287.6 106.7 288.1 119.9 288.1 104.8 288.5 93 289.1 102.4 289.4 98.2 290.1 115.3 290.9 122.1 289.9 124.1 287.9 117.4 287.3 130.3 287.7 104.1 295.3 116.3 295.5 116.8 296.9 107.4 297 114.2 298.8 113.3 299 108.6 299 117.8 299.8 104.6 301.3 123.9 301.3 119.2 302.1 107.3 299.1 84.6 313.1 112.7" fill="none" stroke="none" marker-start="url(#Dc)" marker-mid="url(#Dc)" marker-end="url(#Dc)"/><path d="M38.5 108.3 39.1 125.4 41 114.4 42.8 130.6 43.7 95.1 43.2 115.1 43.8 115.3 44.4 119.5 45.7 123.2 45.5 122.1 45.7 119.1 46.2 106.6 47.2 109.6 47.1 117.2 48.7 94.6 49.1 116.3 49.7 105.1 50 117.8 54 120 53.3 108.8 54.8 109.8 54 104.7 55.4 100.7 57.9 99.8 59.6 105.9 59.2 108.7 59 106.3 62.2 114.9 64.8 108.4 65 100.3 65 120.8 92.3 116.1 93.9 122.1 93.9 100.6 94 130.1 94.1 119.8 93.6 115.6 95 124.1 96.1 124.3 95 103.4 97.5 119.8 97.9 98.1 98.4 103.1 100.4 96.2 101.1 95.2 100.9 108.5 101.9 101 101 126.2 102.1 114.9 103.9 100.2 103.8 108 103.6 128.7 103.6 123.6 104.8 120.4 103.1 86.5 126 113.4 126.5 116.3 128.5 114.9 131.6 116.8 132.2 107.6 134.8 127.1 135 135.6 134.8 121.6 136.9 87.8 136.1 125.7 138 91.7 137.1 88.1 138.4 93.6 138.1 116.5 139.8 130.4 140.1 121.4 141.1 123.4 137.5 100.6 137.6 122.4 137.9 125.4 138.3 120.7 138.3 83.3 165.4 106.6 165.5 118.8 165.9 121.1 169 107.6 169.7 97.1 171.1 101 172.3 102.6 172.6 106.7 172.9 105.4 174 107.4 192.5 114.9 193.6 125.7 196.5 127 197.1 118.5 197.5 105.9 197.5 114.7 197.2 123.4 198.8 114.6 199 118.3 199.1 121 199.1 130.6 201.5 102.8 201.8 120.6 201.9 99.8 204 114.6 203.4 97.4 203.5 118.4 203.3 107.9 204.5 104.6 215.1 102.3 215.1 124.1 215.3 118.6 216.1 100 216.6 102.3 216.4 95.2 217.1 118.1 218.8 124.1 218.3 108.3 218.9 107.7 222 106.7 222.5 131.2 222.6 106.5 222 127.2 222.2 116.1 223.7 93 224.8 133.4 224.3 117.7 224.2 127.3 224.8 131 224.3 104.4 225.1 115.3 226.6 90.9 226.8 93.4 226.2 121.7 227.7 96.2 228.4 93.6 228.2 97.2 228.9 115.2 228.2 89 243 112.7 247.9 107.7 247.4 105.3 248.3 100.5 249 98.6 250 116.8 251.4 109.8 252.4 108.3 253.1 99.3 265.5 104.5 266 118.6 267.5 101.1 267.8 124.2 268.6 119.1 269.3 114.4 270 95 270.5 116.8 270 108.2 270.4 114.7 271.9 116.5 272.6 106.7 272.7 113.3 272.5 113.5 271.9 106.1 273.6 124.9 274.2 118.5 274.2 112.7 283.3 101 283.2 129.1 283.6 93.4 284.4 117.4 285.9 119.5 287 116.8 287.9 103.8 288.8 116 289.3 128.6 291.1 97.8 290.8 96.4 289.9 107.6 287.1 139.5 286.1 128.3 286.7 88.1 286.2 93.9 287.1 126.5 287.1 114.5 288 115.9 295.7 108.3 296.9 105.2 295.9 115.3 296.1 110 297.9 113.6 299.7 120.6 299.3 108.3 300.9 116.6 300.9 100.7 302.3 103.9 311.9 114.4 312.2 108.5" fill="none" stroke="none" marker-start="url(#Dd)" marker-mid="url(#Dd)" marker-end="url(#Dd)"/><path d="M37.9 106 40.1 126.9 40.9 100.2 39.9 103.1 40.4 116.4 40.9 124 42.1 113.2 41.8 108.9 41.9 123.4 40.9 121.3 43.2 95.3 44.9 116.9 45.1 120.8 44.9 100.1 46.7 103.4 46.3 116.5 47.8 104.8 48.9 121.8 50.1 114.5 50.2 107.1 53.2 134.5 53.4 120.5 55.1 130.7 56.3 108.7 57.3 115.4 57.3 121.1 59.1 106.9 61.6 132.6 63.1 108.1 63.3 130.2 64.6 103.5 61.1 134.9 91.5 98.6 92.3 117.7 93.2 120.9 95.1 124.4 95 105.4 95 126.4 94.2 135.2 93.1 104 93 86.4 92.7 95.8 92.7 124.4 95.6 115.3 96.9 101.4 97.1 101.1 97.7 116.7 97.4 124.3 97.1 121.3 98.6 117.5 98.6 115.7 100 115.8 100 113.7 102.4 99.9 104.8 106 104.6 124.2 104.8 106.4 106 116.5 105.7 97.8 106.9 122.7 106.2 108.4 106.1 123.7 106.2 99.9 103 85.8 135.9 132.4 135.9 85.5 136.1 127.6 136.1 95.2 139.1 96.2 138.1 129.5 138.6 86.2 140.1 131.5 139.1 106.1 141 116.4 138.7 131.4 138.5 102.4 138.5 123.3 159.6 115.4 164.9 107.2 167 102.3 167.4 103.8 167.6 120.6 167.5 119.5 170.1 104.4 169.5 120.2 170.4 115.6 171.5 113.6 171.6 97.6 172.3 117.1 171.9 119.3 191.2 110 196.2 127.9 197.1 127.4 197.5 91 198.4 121.7 198.2 108.8 199.6 108.7 201.9 100.1 203 94 202.5 95.8 202.5 114.1 203.1 102.4 203.6 96.8 204.7 93.8 204.2 120 198.6 137.5 217.8 127.4 218.1 123.6 218.7 100.3 219 114.8 219.7 124.5 219.5 102.7 219.9 98.4 220.4 107.6 222 101.6 221.7 90.6 222.9 108.1 223.9 128.4 224.4 99 224.9 117.1 224.3 128.2 225 114.7 225.9 93.1 225.7 94.7 225.3 130.3 227.3 123 227.7 116.1 227.1 117.3 227 101.9 227.4 92.8 228.2 122.7 243.6 114.2 244 102.7 245 115.5 245.6 107.7 246.1 104.8 246.8 97.3 247.5 99.9 247.2 98.9 249 115 249.9 117.5 250.5 99.1 253 113.2 265.8 122.8 265.7 106 267.7 101.5 269.1 105.8 269 107.2 270 105.1 271.9 118.2 271.6 119.4 271.1 115.3 271.6 95.3 272.3 113.8 274.9 118.7 283.3 102.8 282.9 98.7 285.9 97.5 285.2 117.5 286.9 106.5 286.4 92.6 288.1 107.2 288 126.3 288.1 108.6 289 104.9 286.8 94.5 286.3 114.6 286.1 103.8 287.8 103.2 298.3 104.4 300.4 105.7 299.6 109.9 301.8 115.8" fill="none" stroke="none" marker-start="url(#Dp)" marker-mid="url(#Dp)" marker-end="url(#Dp)"/><path d="M39 114.4 40 128.4 40.9 102.5 40.1 107.9 43.1 128.7 43.8 103.9 44.5 98.6 45.8 119.2 46 115.4 46.8 105 46.9 113.8 46.9 123.8 49 106.3 49.3 114.7 50.6 93.5 50.9 127.1 50.1 136.3 53.4 122.9 55.3 127.5 55.2 101 56.9 123.9 56 117.5 57 119.4 56.4 125.9 58.5 108.7 58.6 106.9 58.9 107.1 59 116.9 59.4 125.1 58.9 120.4 60.2 129.1 60.4 103 61.5 116.3 62 109 62 116.6 62 118.2 63.6 132.3 64.2 123 64.6 104.7 91.2 120 92.2 108.2 93 128.8 93.6 108.7 92.9 126.7 92.2 86.3 92.3 116.1 92.3 119.9 92.6 104.7 93.7 102.6 95.9 122.5 97.9 119 97.6 104.9 98.1 107.8 98.3 115 97.9 107.1 99.1 108.6 98.9 105.3 101.2 95.3 102.3 119.3 102.6 103.5 103.5 98.3 103.4 108 104.9 128.2 105.4 120 131.9 109.3 134 115.8 135.2 87.6 135.1 139.1 135.9 103.8 137.6 122.7 138.7 130.7 139.1 86.7 139.5 100.6 139.7 121.7 139.3 93.3 141.3 102.2 140.5 97.8 137.1 134.4 137.2 116.4 137.6 139.6 138.1 134 138.3 118.3 138.9 118.5 138.5 115.9 158.7 116.4 160.5 109.5 160.9 114.7 165.9 115.7 167.6 107.4 168.8 122.5 170 118.9 169.8 125.8 169.8 121.7 169.9 97.3 170.9 123.5 171.8 113.4 170 141.2 192 113.3 193.6 113.2 193.9 112.4 197.1 108.4 198.4 109 200.1 122.2 200 95.1 200 93.1 200.5 93.3 201.2 115.5 202.8 100.2 203.9 104.1 204 121.8 202.7 81.7 215.9 107.7 215 100.8 216.4 93 216.6 105.4 216.9 123 221 105.8 220.6 101.2 221.5 127.7 223 124.4 223.6 100.4 223.7 126.7 224.1 106.8 226.1 103.6 225 124.7 225.3 101 227.1 124.3 226.6 102.5 226.7 131.1 228.1 97.6 228.2 98.9 243.6 107.5 244.1 114 244.9 103.4 246.9 108.4 248.1 116.3 251.9 108.5 252.8 115.1 253.1 115 253.4 103.3 266.1 105.3 267.6 107 267.3 102 267.2 128.1 269 108.9 269.4 118.8 271.6 115.4 273.9 102.4 273.5 99.6 273.9 114.3 274.9 114.8 275 109.1 269.3 139.1 283.4 94.3 284.7 105.3 285.9 101.6 285.6 96.5 287.6 121.5 288.7 97.2 289.2 127.3 289.8 98.1 290.2 118.6 290.2 92.2 290.7 113.9 286.8 130.8 286.2 106.4 287.3 125.9 287.7 104.2 287.4 83.1 287 93.4 287.4 100.1 287.9 79.9 295 109.6 295.3 113.8 297.7 118.3 297.5 107 298 99.2 298.7 113.1 299.9 118.2 300.7 121.1 301.6 109.2 313.8 116.8" fill="none" stroke="none" marker-start="url(#Dt)" marker-mid="url(#Dt)" marker-end="url(#Dt)"/><path d="M39 107.9 38.2 103 38.9 96.5 39.3 105.9 40 115.9 40.4 98.3 39.9 117.5 41 119.9 42.5 108.3 44.1 99.7 44.6 126.3 44.9 128.2 45.6 114.5 44.9 127.7 48.5 123.2 48 97.2 48.4 107.7 49.4 99.8 48.9 113.1 50.1 113.1 54 120 54.2 123.7 54.6 123.7 55 118.9 56 100 56.9 129.5 57 128.9 57.3 109.2 57.6 106.3 60.3 101.8 60 116.3 60.4 108.2 60.5 118.3 61 122.6 60.8 131.1 61.4 114.9 60.9 106.2 62 131 62.9 108.4 63.1 129.4 63.9 122.1 63 119.7 91.7 115.2 94.5 105.7 93.2 124 94 83.9 93.8 115.5 94.1 117.1 96.2 117.4 96.6 123.3 96.5 109.1 97.2 118.6 97.8 103.7 98.7 95.1 98.3 115.1 101.3 108 102.1 117.9 102.3 125.2 102.3 113.5 103.9 120.2 105 104.9 105.5 104.6 106 123 106.5 114.7 106.2 114.5 104.1 86.8 125.6 109.1 125.9 109.4 127.3 109.6 134.8 96.2 135.5 116.4 135.9 117.4 137.6 127.2 137.2 119.1 137.3 103.6 138.7 107 140.1 102.8 139.3 117.1 140.9 100.7 141.2 129.5 137.8 123.6 137.5 96.5 137.2 123.1 136.9 134.6 137.7 133.1 138.6 116.9 138.2 123.5 165.1 104 165.5 120.6 169.3 100.3 169.8 104 170.9 126 170.7 117.7 173 103.3 169.4 135.6 193 115.9 192.6 108.2 193.5 110.4 196.4 99 196.1 106.3 197.2 90.1 197.8 107 199 128.3 199.5 99.4 200.3 106 200.5 115.1 200.4 104.9 200.2 95 199.9 92.4 202.1 103.9 202.8 94.8 202.4 102.6 203.9 107.1 204.1 117 204.2 99 204.1 107.7 204.9 105.9 204.9 90.6 215.7 108.7 217.1 99.2 217.1 116.9 217.7 118.8 217.7 101.5 217.7 130.1 218.5 118.1 218.3 106.7 219 100.3 219.8 102.1 220.6 100.7 221.3 117.1 221.1 100.5 222.2 99.4 223.7 100.9 223.8 117 224.3 121.3 227 94.6 226.3 131.5 225.9 116.7 227.3 116.3 227.4 116.3 228.4 123 215.1 84.3 218.3 140.8 243.6 116.6 244 109 245.5 107.2 245.6 116.5 249.2 102.7 250.4 118.1 251.8 109.8 251.9 117 253.5 114.5 245.8 90 245.6 130.7 252.2 126.6 266.6 115.6 269 100.1 268.4 124.4 269.3 118 269.5 105.9 272 116.5 272.7 122.1 274.2 103.9 273.2 83 283.8 99.5 284.1 114.8 284.5 119.8 284 93.7 285 106.7 285.6 108.2 285.9 102.9 286.6 119.7 286.9 92.9 288.1 107 288.6 95.2 288.5 102.9 289.5 106.2 290.7 95 287.1 121.2 286 102.2 287.4 88 287.2 91 297.6 116.1 297.7 107.4 296.9 114.3 298 116.1 299.5 116.3 300 109.9 301.6 105.3 302.4 108.9 302 116.3 301.5 104.6 312.8 113.6 313 108.6 314 108.7" fill="none" stroke="none" marker-start="url(#Dv)" marker-mid="url(#Dv)" marker-end="url(#Dv)"/><path d="M38.7 95.1 39.7 108.3 39.6 126 39.9 93.9 42.5 104.5 42.6 123.3 42.7 120.3 43.3 96.8 44 123.4 44 105.1 49 104.7 49.7 121.4 49.5 107.7 50 119.4 50 99.3 46.9 132.2 53.5 120.2 53.7 131 56 119.5 57.6 129.1 57.4 116.3 58.5 109.2 58.2 117.8 61.5 106.5 62 123.5 64.1 124.1 64.1 102.3 64.4 106.8 64.2 117.8 92.6 104.1 92.9 117.8 94.1 107.9 94.4 105.1 92.4 115.4 92.7 92.6 94 84.7 93.3 116.3 93.4 123.7 95.3 123.8 98.1 97 97.5 107.7 99.7 118.5 99.9 125.4 99.9 125.5 100.1 108.6 101.9 113.7 102.1 97.6 101.2 114.7 101.4 104.6 104.9 117.1 104.7 106.7 104 108.9 105.3 131.9 105.6 120.9 105.2 101 105.1 118.6 127.1 120.8 135.8 115.9 135.2 129.2 136.6 127.3 135.8 116.3 136.3 89.5 137.3 116.8 137.5 90.1 137.7 114.7 139.2 104 138.3 105 139.7 139 139.6 99.3 140.2 93.2 140 124.5 139 142 137.5 123.7 138 116.6 137.7 102.8 138.9 86.1 138.5 79.5 158.2 110.6 158.1 113 160.3 109.8 165.1 98.6 165.6 114 166.3 101.5 166.4 114.3 168.8 122.8 168.1 103.3 170.8 102 171.4 107.1 172 97.6 172.9 117.3 173.6 113.2 173.9 114 196 108.6 196.1 107.7 197.2 128.1 197.3 107.7 198.9 114.4 198.7 116.8 199.5 118.3 199.9 98.5 202.1 108.4 202.1 109.3 202.8 107 216.8 102 216.5 118.8 217.3 118 220 115.1 219.7 120.8 219 116.6 219.9 96.8 219.7 117 219.8 102.2 219.9 123 221 97.3 220.7 106.8 221.2 117.7 221.2 117.9 222.5 119.2 222.7 114.5 222.3 114.7 224 128 223.3 107.8 225.9 122.8 225 105.8 226.5 129.3 227.3 115.1 227 100.9 228 117 228.2 133.9 228.6 89.9 228.5 117 221.1 86 245.6 108.8 246.3 116 246.4 102.6 247.3 112.3 248.4 108.5 249.4 104.1 250.8 103.5 251.4 115.8 252.3 105.1 253 109 265.3 105.8 265.7 113.2 265.7 115.1 266 103.7 266.4 109.3 268.1 118.2 269.8 107.5 270.9 118.3 270.9 120.2 273.3 102.3 272.9 98.4 273.8 100.2 283.5 114.8 286 121.8 285.4 122.6 286.4 86.8 287 95.9 286.7 102.8 286.2 99.1 287.4 101.2 288.8 118.3 288.5 98.9 288.9 102 289.2 130.6 286 89.4 286.5 116.8 297 121.1 298 101.5 299.6 116.4 311.6 107.9 311.4 113.2 310.7 112" fill="none" stroke="none" marker-start="url(#Dx)" marker-mid="url(#Dx)" marker-end="url(#Dx)"/><path d="M516.8 84.9V136.2M517.7 86.2V141.6M518.6 87.9V136.1M635.8 94.9V129.1M636.9 92.5V131.1M645.8 95.6V129.8M647 99.1V131.6" stroke="#b0b0b0" stroke-width="1.1"/><path d="M405.5 100.9V122.2M407.5 96.9V126.4M510.8 106.4V119.8M512.8 103.1V116.5M561.6 102.4V123.6M591 96.3V123.4" stroke="#9c9c9c" stroke-width="1.05" stroke-dasharray="3.2 0.7 4.4 0.6"/><path d="M396.5 102.6V129.8M401.5 102.7V123.7M403.5 105.9V125.8M404.5 100.1V127.6M406.5 98.2V118.9M412 104.1V120.7M414 97.8V119M419 101.6V120.5M437.1 98.9V115.8M438.1 98.5V122.3M444.9 102.5V118.8M475.5 103.6V128.2M477.5 99.4V124M482 101.6V117.7M503.5 101.7V116.9M504.6 99.8V119.7M506.6 99V119.6M509.7 105.5V118.9M513.9 104.2V119.8M514.9 103.6V116.3M538.1 100.6V126.9M539 102V125.3M540 96V128.2M543 103.4V123.3M563.6 102.1V119.1M589 102.9V118.8M591.9 96.3V120.7M603.9 97.8V120.6M606 98.2V116.5M608.1 103.1V116M621.8 94.6V122.6M624.5 96.4V120.9M636.7 103.9V121.7" stroke="#a4a4a4" stroke-width="1.05" stroke-dasharray="4 0.6 2.6 0.7 5 0.5"/><path d="M397.5 105.5V124.9M402.5 104.5V125M413 98.9V122.4M416 98.4V117.6M474.5 98V121.9M476.5 102V121M483 104.1V117.4M484.1 99.8V116.5M486.1 101.2V115.2M487.1 100.4V117.8M505.6 105.6V120M507.6 100V117.4M511.8 104V120.8M537.1 98.2V124.1M544.9 94.5V119.6M545.9 98V128.4M566.7 99.4V123.9M567.7 103.6V117.4M570.8 98.7V117.2M586.1 101.5V119.6M588 102.5V121.6M609.2 103.5V119.2M620 91.1V128.2M623.6 100.6V130.8M644.5 98.8V121.6M645.4 98.8V119.8" stroke="#acacac" stroke-width="1.05" stroke-dasharray="5 0.6 2.2 0.8 3.6 0.6"/><path d="M395.5 101V122.8M399.5 104.5V122.5M400.5 102.2V125.1M415 101.2V117.6M418 96.9V119.2M442 98.2V121.3M473.5 100.3V125.3M480 98.5V120.3M481 104.1V116.1M485.1 103.5V119.8M508.7 99.7V116.7M541 99.1V125.1M557.5 95.7V118.3M558.5 104.9V122.1M560.6 102.3V119.4M562.6 100.3V121.2M569.8 98.3V119.2M585.1 103.2V122.4M587.1 97.6V117.3M602.8 99.4V123.8M604.9 96.4V119.3M607.1 106V120.8M637.7 104.3V119.6" stroke="#b4b4b4" stroke-width="1.05" stroke-dasharray="4 0.6 2.6 0.7 5 0.5"/><path d="M398.5 100.6V124.2M411 99.6V116.5M417 103.3V117.2M443 104.6V120M542 99.2V121.3M544 100.3V121.3M556.7 102.3V118.3M559.5 97.4V121.2M564.6 100.5V118.4M565.7 102.7V121.5M568.7 105.2V123.9M583.2 96.1V120.9M584.2 100.1V125.1M590 94.6V117.9M592.9 95V125.4M620.9 94.4V123.6M622.7 95.3V120.2" stroke="#bcbcbc" stroke-width="1.05" stroke-dasharray="3.2 0.7 4.4 0.6"/><path d="M395.2 103.6 396.1 93 396.5 125.3 396 106.6 397.7 100.8 398.5 108.4 400.1 105.3 399.4 122.2 400.6 114.8 401.5 103.1 402.1 104.4 403.6 120.9 403.6 108.3 403.5 105.1 404.3 100.2 403.9 128.7 404.9 104.4 405 105.5 406 117.5 405.3 108.4 406.7 102.2 407.9 127.8 407.4 123.2 407.2 122.6 411.4 105.4 411.7 114.4 411.7 115.1 413.7 116.1 415.5 104.7 414.5 102.4 415.5 115.3 416.6 108.6 417.3 106.1 437.2 103.6 438.5 106.4 437.6 120.8 439.3 102.4 439.3 121 440.2 104.5 442.5 103 442.9 118.4 444.2 100.7 443.5 115.2 443.6 100.8 445.4 98.4 446.2 103.3 445.4 105.1 454.2 118.1 454.5 103.4 473.9 104.1 474.5 122.8 474.2 108.6 475 114.2 474.2 118.3 475.6 125.7 476 118.9 477.8 115.4 477.5 122.8 476.1 89.6 480.1 121.5 481.6 107.8 483.6 99.6 483 104 483.9 106 484.8 114.2 485.5 107.2 486.1 106 487.1 88.8 503.5 108.4 504.6 119.3 506.2 115.8 505.5 122.7 505.1 109.1 507.1 105.9 507.1 106.9 508.1 117.9 511.7 114.7 512.4 106.7 512.4 114.1 516.9 130.7 516.6 121 516.6 86.3 517.5 89.2 517.5 123.5 517.7 104.5 518.1 138.3 518.1 92.9 537.3 115.3 536.9 95.7 536.7 99.2 538.5 100.9 538.3 116.1 539.2 127.9 538.9 135.1 539.6 103.8 540.5 97.9 540.5 91.9 540.4 99.3 539.7 114.2 541.1 102.1 542.4 114.7 543.6 101.4 545 113.8 545.5 132 546.4 119 545.5 133.1 556.3 105.8 557.8 97.7 558.4 108.7 558 108.2 559.7 126.5 560.2 125.9 561.3 98.7 562.7 118.4 563.4 116.5 565.2 123 564.2 107 567 119.3 568.2 119.2 568.6 126.8 569.9 106.5 569.6 98.7 569.7 94.7 571.2 105.2 570.5 106.7 585.6 116.9 584.9 103.1 585.7 113.4 586.9 120.4 587.3 108 588.5 101.7 588 104.3 589.2 99.3 589.4 107.8 592 108.3 593.4 86.5 593 88.6 588.4 140.1 589.3 129.8 602.9 121.8 603.4 117.5 605.2 113.9 605.9 117 606.8 105.5 606.5 123.2 608.4 115.5 608.5 106.4 609 116.4 620.1 119.8 620.3 89.7 619.5 98.3 621.2 90.9 620.5 105.5 620.9 117.5 621.3 86.8 622.3 113.9 623.4 97.4 622.2 82.8 635.1 103.1 636 94.5 637.3 108.5 635.2 115.6 636.1 93.3 637.4 114.8 637.2 132.5 636.9 139.4 644.9 103.4 644.2 108.1 646 105.9 646.7 98.1 647.4 102.1 645.8 124.4 645.4 114.4 646.9 117.6 647.1 105.6 646.7 129.8 647.2 132 646.5 108" fill="none" stroke="none" marker-start="url(#Lc)" marker-mid="url(#Lc)" marker-end="url(#Lc)"/><path d="M395.3 113.5 396.4 122.3 396.8 122.8 397.8 131.9 399.4 117.1 399.1 105.4 399.2 104.5 400.4 108.4 400.7 116.8 401.3 108.9 401.6 114.3 401.2 114.5 401.7 117.6 402.6 116.1 402.4 124 404.8 106.2 405.4 101 406.9 113.4 410.7 104.2 410.8 115 411.1 106.5 412.2 123.7 413 100.8 412.9 102.2 413.8 113.6 414.6 100.3 416.6 116.6 415.5 101.4 416.8 116.5 417.1 103.7 419.5 95.1 437.2 98.3 440.5 101.9 440 115.8 441.4 120.9 441.9 108.1 444.5 114.3 444.6 95.5 445.1 119.4 446.2 96.4 452.4 114.8 452.5 114.1 452.5 117.5 453.9 113.7 461 102.3 473.7 130.2 473.6 132.8 473.2 117.6 473.7 126.5 473.1 97.1 474.3 114.9 475.6 101.1 475.6 121.1 475.6 99.5 476.6 107.1 475.9 120.8 476.9 118.8 478 114.9 480.1 104.9 482.1 97.9 483.6 102 483.5 120.3 483.6 118 485.1 99.4 486.3 112.9 503 108.4 503.7 117.8 504.9 121.1 506.9 119.7 506.8 119.7 507.4 107.4 509.1 105.2 510.8 109.3 511.1 119 510.5 108.1 512.1 105 514.4 114.2 514 121.6 514.9 118.9 505.7 84.1 511.7 127.6 506 92.7 517.1 117.7 516.4 84.7 516.6 103.7 516.9 92.8 517.8 91.2 517.8 136.7 519 116.7 536.8 97.7 537.3 127.4 537.9 117.5 540.2 119.3 540.6 120.8 540.9 104.2 541 117.1 542.1 124.9 542.4 94.7 544.2 124.1 544.2 87.6 543.9 103.7 546.2 115.8 557.1 94.4 557 102.7 558.2 115.6 559.2 125.8 560.8 105.8 560.6 99.6 561.5 99 561.6 120.3 561.4 119.1 563.1 114.4 563.8 114.8 563.2 108.2 566 97.3 565.7 115.2 566.5 114.3 566.1 114.8 567.9 105.9 570.4 104 570.1 102.2 569.9 102.8 571.3 124.2 583.7 107.6 583.7 124.4 584 127.7 584.5 119.6 585.5 125.4 586.5 105.1 586.9 121.6 588.1 92.4 588.1 126.3 588.3 114.8 588.6 102.6 589.3 106.3 588.8 93.1 589.9 114.7 589.6 93.9 591.5 100.2 591.4 125.6 591.6 99.2 592.5 107.2 592.6 93.8 592.9 97.6 592.9 127.4 602.8 123.3 602.5 123.1 603.3 96.2 604.9 99.9 604.7 118.5 607.5 102.5 609.8 108.9 609.7 117.9 609.3 115.3 609.2 124.8 620.1 116 619.6 95.1 621.3 125.7 622.4 123.7 621.8 89.9 623.3 102.2 623.4 128.8 624 104.3 636.3 124.8 636.3 102.4 635.3 97 636.9 117.1 646 106.7 646.8 106.2 645.4 96.5 647.1 100.2" fill="none" stroke="none" marker-start="url(#Ld)" marker-mid="url(#Ld)" marker-end="url(#Ld)"/><path d="M396.1 124.7 396.7 115.5 397.8 128.1 398.6 105.8 400.2 130.2 401 119.2 402.6 101.6 403.7 118.8 403.9 129.4 404.2 117.7 405.3 101.1 406 96.3 406.3 117.7 407.4 99.1 407.1 103.7 396.4 135.9 412.9 107.1 413.3 117.1 414.2 97.3 414.2 98.7 414.4 121.7 415.3 108.3 415.1 95.5 415.7 103.9 415.8 101.7 417.5 100.1 418.3 107.3 419.4 118.1 419.1 97.7 413.7 84.6 437 113.9 437.5 107.6 438.4 114.1 438.9 117.7 439.2 108.9 438.8 116.7 439.9 96.1 441.1 106.9 441.1 119 441.4 113.2 442.6 114.7 442.1 103.3 443.9 103.3 445.6 123.2 437.6 128.6 452.7 120.8 455.8 110.1 456.3 114.6 457.3 109 462 122.9 462.5 103.6 475.3 129.5 477.6 100.5 480.2 106.5 485.3 106.6 487.5 108.4 503.7 121.5 504.6 108.8 507.4 107.9 507.7 116.6 508.8 103.5 508.8 101.3 510.9 115.8 513.2 113.1 514.3 105.9 515 101.5 516.7 85 516.4 117.9 517.8 128.8 517.9 104.8 518.2 136.4 518 86.7 518.6 123.5 519.1 88.7 537.3 100.4 538.7 106.3 538.9 118.1 539.2 129.7 538.9 107.1 540.6 107.7 542.5 119.5 541.5 122.2 543.3 123.2 544.5 89.8 544.2 92.2 544.5 97.9 545.7 116.4 545.4 129.9 546.1 93.4 557.2 106.2 556.1 107.1 557.5 117.3 558.5 115 559.8 95.1 559.6 98.8 561.1 94.1 562 117.2 563.1 120.8 564 114.1 564.1 124.2 564.6 121.2 565.9 102.4 567.2 113.6 567.6 119.4 568 97.1 568.3 118.5 569 107.2 568.7 100.9 570.9 113.6 570.7 114.9 565.4 87 583.2 114.4 583.6 97.8 584.7 96.6 585.5 107.1 584.6 125.3 586.3 120.1 589.1 97 589.2 114.9 589.8 122.2 590.5 119.4 593.5 114 603.3 106.7 602.3 113.5 604 119.6 603.8 121.1 605.4 123.8 605.9 113.7 605.7 96.1 605.6 96.7 607.4 106.6 609.2 117 620.2 124.9 620.8 115.6 622.3 120.3 621.8 90 622.9 98.1 622.5 128.4 623.2 94 623.2 98 622.8 119.4 624.1 114.2 623.7 86.8 634.2 101.3 637.1 114.7 637.7 136.7 635.6 121.8 635.9 108 635.3 100.9 636.4 127.7 644.9 114.5 644.6 123.1 645.8 119.9 648.5 104.4 646.9 84.4 646.3 117.6 645.4 114.3" fill="none" stroke="none" marker-start="url(#Lp)" marker-mid="url(#Lp)" marker-end="url(#Lp)"/><path d="M395.3 107.9 397.8 105.3 397.7 108.9 397.4 128.6 397.2 107.5 398.7 96.7 398.1 116.1 399.2 120.6 401.1 119.6 399.9 123.2 402 116.7 403.8 108.2 403.4 105.6 404.9 131.5 404.2 106.3 404.9 121.4 405.3 104.4 406.1 103.4 406.1 99.9 395.9 139.4 411 114.5 411.2 121.6 411.7 113.9 413 108.1 414.3 96.9 415 107.6 417.3 120.8 417.6 113.3 419.1 121.2 419.6 121 419 122 439.6 99.9 440.7 106.3 442.9 118.1 444.1 113.6 446.4 96.3 441.4 128.6 438.5 87.5 455.5 116.5 456.4 105.4 459.1 118 460.1 115.8 461.6 134.3 473.3 104.3 473.6 117.9 473.4 100.6 476 121.2 475 126.9 476.9 100.8 476.3 102.1 477 113.8 477.7 116 474 135.4 480.3 98.5 479.8 114 479.5 113.3 481.3 103.1 482.2 98.1 482 120.7 484.5 113.3 484.5 107.7 485.6 118.5 484.8 113.6 486.1 108.5 487.2 112.7 487 96.9 503.4 117.7 504.1 104.6 505.7 114.8 506.1 108.2 506.7 118.4 507.1 100.8 509.6 118 511.1 117.2 515.3 104.1 516.8 84.9 518.2 120.3 517.7 122.7 518.2 127.6 518.8 101.9 518.7 143.1 538.6 103.2 538.5 122.5 538 99 539.2 116.6 540.2 103.1 541.4 101.7 540.7 99.7 542.6 101.8 542.4 100.6 542.7 107.1 542.7 120.4 543.6 102.6 543.7 131.8 544.9 124.8 545 121.9 546.3 127.1 556.8 102.4 557.2 102.6 557.4 100.3 558.9 113.7 559.3 126.8 561 106 562.3 93 563.1 107.7 562.9 116.3 562.2 106.7 563.3 104.2 564.6 119.1 564.4 106.5 564.4 114 566 113.6 566.1 113.6 566.2 105.8 568.2 96.9 582.8 116.9 583.3 97 583.3 116.4 582.7 121 584.6 123.2 586.4 122.4 586.7 125.2 588 99.1 589.2 114.6 590.5 102.5 590.4 96.1 590.8 118.5 591.4 102.4 590.7 122.4 590.7 96.5 592.5 99.6 605.2 114.5 606.1 102.8 605.5 118.2 606.5 97.1 607.1 105.2 607.9 102.4 609.2 106.4 619.8 126.6 620.2 101.1 619.8 130.5 620.4 121.7 621.4 90.7 621.7 88.7 623.2 118.2 623.1 120.6 622.7 114.7 622.4 125.1 623 96.8 623.2 105 624.9 108.2 635 95.6 636.8 124.9 637 97.7 637.3 101.5 637.2 107.4 637.2 115.6 637.2 126.5 644.6 127 645.4 96.7 646.5 121.5 646.7 123.9 646 115.7 646.4 105.2 647 121.1 647 114 647.9 123.6 648.1 97.1 648.9 100.1 648.6 122.8 646.2 115.9 646.6 121.3" fill="none" stroke="none" marker-start="url(#Lt)" marker-mid="url(#Lt)" marker-end="url(#Lt)"/><path d="M395.6 105.5 395.9 129.5 398.3 107.9 399.9 107.4 402.7 104.5 402.1 107.1 403.3 99.5 404 96 406.7 120.9 407.5 94.3 411.2 96.1 417.4 106.9 418.1 104.9 417.8 126.5 417.2 125.5 437.7 107.1 437.4 102.7 437.9 105.6 438.1 102.5 438.1 121.9 440.1 113.2 440.5 105.4 444.7 96.5 444.9 106.5 453.7 108.2 459.6 117.3 460.1 103.2 461.4 109.3 474.1 102.5 475.7 106 476.2 126.1 476 98.6 477.8 122.7 477.6 92.2 481.5 114.7 480.6 104.4 481.6 115.2 482.8 118.9 486.5 104.6 486.8 99.5 486.8 117.1 487.4 102.4 503.6 118.4 504.8 101.2 505.3 117.4 505.5 108.2 506.5 99.9 506.6 109 508.6 105.2 510.2 113.2 509.5 103.5 509.7 121.1 509.2 118.4 510.5 118.9 512.3 105.2 511.3 118.9 511.3 119.2 512.6 101.8 513.3 121.8 513.5 113.5 513.6 114.7 513.9 106.3 514.9 82.5 516.3 136.6 517.1 104.8 517.3 119.3 517.6 97.8 518.4 136.3 518.5 136.1 537.2 105.1 537 96.2 538 122.6 538.2 131.6 539 114.8 539.5 95.5 539.8 114.9 540.7 130.9 540.7 105.8 541.9 118.6 542.5 97.1 543.5 96.2 544 98 544 99.2 543.9 118.3 544.1 117.2 545.3 96.1 544.8 106.5 545.5 121.9 545.8 104.8 544.6 84.6 556.1 126.2 556.1 103.6 557.6 104.8 559.1 104.7 560.2 97.1 561.5 115.2 561.2 114.1 565.7 97.4 566.6 90.5 566.5 105.6 567.4 101.5 567.3 116.6 569.3 125.7 568.9 99 584.1 97.1 584.1 108.2 585 103.1 586.4 103.7 585.8 106 587 100.6 587.2 106.8 588.3 104.2 590.4 108.1 591.3 121.7 591.9 124.6 592.5 116.3 593 105.2 603.3 108.4 604.5 118.7 603.9 117.1 604.8 108.4 607.6 114 607.3 107.4 608.2 113.8 607.8 99.6 608.6 114.5 619.5 103.3 620 96.8 620.8 121.6 620.8 123.8 620.8 120.8 621.6 120.2 622.1 121.6 624 106.6 623.7 130.4 623.9 132.5 624.9 104.9 634.9 108.7 634.4 101.5 634.6 119.9 635.4 96.4 636 117 635.9 115.8 635.7 103.5 637.3 100.5 637 107.5 638.3 102.2 637.3 123.8 637.3 118.4 635.7 115.6 635.7 102.9 637.3 117.6 636.7 90.3 636.5 126.1 644.2 100.7 644.9 114.1 645.8 97.2 646.9 103.8 647.8 119.4 648.6 105.2 645.4 133.9 646.1 104.7 645.7 106 646.5 108 645.7 82.2" fill="none" stroke="none" marker-start="url(#Lv)" marker-mid="url(#Lv)" marker-end="url(#Lv)"/><path d="M394.9 101.2 395.8 101.2 396.4 131.5 396.1 102.8 397.8 108.3 398.2 116.1 399.1 117.4 399.2 114.3 399 108.1 400 116 400.5 107 401 113.7 404.2 97.9 406 123.6 407.5 100.3 407.5 108.4 407.6 105.1 402.6 88.9 412.4 117 412.3 115.8 413.3 120.8 414.1 96.4 415.1 105.5 417.6 116.8 418.3 107.5 418.5 113.4 419.2 121.9 441 121 442.3 105.4 442 107.9 443.5 101.3 443.3 101 443.2 102.2 444.3 123.9 444.5 117.5 445.4 123 452 122.1 458.9 117.9 462 104.6 473.5 118.9 475.1 117 474.6 107.5 476 103.9 476 98.4 477 119 481.6 113.2 480.9 108.8 482.4 105.3 483.5 118 484.5 118.7 486.6 102 486 83 504.6 105.3 507.4 117.9 508.4 103.6 509 101.5 510.1 114 511.6 107.3 513.4 113.8 512.8 115.9 513.3 98.8 515.1 105.1 516.8 137.4 516.8 102.6 518 120.1 517.5 87.3 518 102.7 518.5 121.9 518.7 140.2 537.4 105.3 536.6 122.8 538.1 108.2 539.6 97.6 539.1 103.2 540 115.2 540.5 102.1 542.4 92.3 542.3 100.9 542.7 106.8 544.4 114.6 544.9 107.2 546.3 125.9 537.7 83.6 556.2 118.1 557.1 118.3 557.7 94.5 558.8 102.4 559.2 124.5 559.5 125.4 560.1 94.1 560 105 561 115.7 561.2 102.5 562.5 106.3 563 116.4 564.8 120.9 564.7 119.5 565.2 114.2 566.6 101.9 567.3 103.7 568.7 100.4 569.1 100.7 570.2 117.8 569.4 97.8 571 113.7 570.3 106.2 560.6 134.7 565.6 85.9 584.1 115.1 584.4 119.6 585.2 99.8 585.2 121.1 586.2 93.6 586 93.6 587.3 114.5 587.5 113.8 587.8 123.9 588.6 119.9 590.5 101.9 590 114.7 590.5 100.8 592.2 102.4 591.8 99.3 591.5 108.3 592.5 124.8 593.4 114.9 603.8 113.1 603.4 103 604.5 115.3 605 116.7 609 133.2 609 129 621.3 120.9 623.8 131.5 623.1 134.6 624.6 105.7 624.7 125.5 624.8 98.6 624.6 119.2 635.3 96.1 636.7 114.4 634.2 134.7 636.1 129.3 644.6 117.3 648.5 121.1 645.5 125.2 647.4 106.9" fill="none" stroke="none" marker-start="url(#Lx)" marker-mid="url(#Lx)" marker-end="url(#Lx)"/><path d="M422.5 84.3V132.3M423.5 87.7V127.3M434.1 96.9V129.8M435.4 97.3V128.6M467.9 88.6V132.1M468.6 91.6V135.5M498.1 88.1V127.9M499.4 92.3V126.7M530.5 90.9V133.8M531.5 90.6V132.4M597.5 91.8V129.1M598.5 92.5V130.8" stroke="#484848" stroke-width="1.1"/><path d="M394.5 98.6V120.4M464.5 99.5V124.3M471.5 99V117.9M501.5 95.1V121.4M531 99.9V130.2M532 94.2V127.5M546.9 101.8V120.7M553.8 94.4V123.1M579.1 101.3V120.2M596.7 94.7V127.4M597.7 96.6V123.5M615 97.3V125.8M642.4 105.6V116.1" stroke="#343434" stroke-width="1.05" stroke-dasharray="2.4 0.7 3.6 0.5 1.6 0.8"/><path d="M371.3 100.5V121.5M372.3 102.2V119M386.2 105.1V117.5M391.4 98V123M427.8 101.3V116.7M428.8 101.7V118.6M433 100.3V122.1M469.5 103.1V125.4M470.5 97.7V124.1M472.5 96.8V118.5M488.2 98.5V120.1M520.8 106.3V113.6M524.9 100.1V124.6M526.9 100.1V118.9M528 96.5V127.7M536.1 101.5V130.6M548.9 92.7V119.8M551.8 96.2V124.8M552.8 102.1V120.7M571.8 101.9V121.6M572.9 104.2V121M573.9 102.4V122.9M574.9 96.5V116.5M582.2 102.2V121M600.8 96.3V120.1M612 104.2V120.5M619 95.4V118.5M625.7 96.7V124M629.9 100.8V125.8" stroke="#3c3c3c" stroke-width="1.05" stroke-dasharray="4.2 0.7 2 0.6"/><path d="M369.4 101.4V119M370.3 100.6V122.1M376.1 101.2V117.8M384.1 101.8V122.8M387.2 97.6V119.8M390.3 101.8V119.2M425.7 104.1V123.9M426.8 100.9V123.9M492.2 98.6V120.5M523 104.3V117.1M529 100V128.2M530 94.8V123.5M547.9 104.3V119.5M554.7 93.5V127.9M577 101.9V122.9M578 103.9V120.6M599.8 90.4V120.3M616 100.5V124.5M632 100.5V128.1" stroke="#444444" stroke-width="1.05" stroke-dasharray="3.2 0.6 1.8 0.7 4 0.5"/><path d="M373.2 105.9V122.1M375.2 102.7V120M389.3 103.8V124M465.5 100.6V121M467.5 100.9V125.9M489.3 104.6V121.1M498.4 102.7V117M521.9 104.8V115.5M535.1 93.5V126.6M549.8 99.8V129.1M550.8 93.4V126.9M555.7 96.7V125.8M576 106.1V123.3M580.1 103.4V123.2M581.1 103.1V122.3M594.7 89.9V124.7M618 95.8V118.4M627.8 94.8V121M630.9 103.5V127.2" stroke="#4c4c4c" stroke-width="1.05" stroke-dasharray="4.2 0.7 2 0.6"/><path d="M377.1 105.1V117.6M378.1 105.5V116.7M379 106.1V122.1M385.2 99.2V118.1M392.4 104.9V118.7M393.4 99V122.2M466.5 95.4V121.3M468.5 97.1V118.2M490.4 98.8V117.1M493.3 102.1V119.6M502.6 101.4V121M525.9 97.4V118.3M533 101.4V130.6M534.1 99.6V130.1M595.7 89.2V126.5M598.8 95.7V120.6M611 100.7V120.7M614 98.1V122M617 100.3V120.7M626.8 97.9V125.5M628.9 101.8V120M643.5 101.3V117" stroke="#545454" stroke-width="1.05" stroke-dasharray="4.2 0.7 2 0.6"/><path d="M374.2 106.6V116.6M388.3 103.1V116.8M420.8 100.9V121.6M601.8 99.7V121.6M613 100.3V120.6M641.2 106.3V116.1" stroke="#5c5c5c" stroke-width="1.05" stroke-dasharray="4.2 0.7 2 0.6"/><path d="M369.3 108.6 372.1 121.3 374.8 109.2 374.7 101.7 374.9 120.6 376.5 118.7 375.9 121.7 377.1 115.1 378.1 119.6 383.6 116.8 384.8 116.8 386.6 118.1 386 118.3 385.9 117.9 386.6 108.5 387.8 114.2 390.5 116.2 390.7 97.9 391.4 115.3 391.6 97.3 392.4 100 393.7 99.6 394.5 118.8 420.5 106.2 420.3 117.8 422.3 120.3 422 118.8 423.7 105.5 423.2 101.1 424.5 107.4 424.1 106.5 424.8 113.8 422.2 103.2 422.9 123.7 423.1 90.4 423.5 129.7 423 120.3 424.1 120.4 425.7 109.1 425.8 106.7 427.8 118.3 429.9 104.9 430.8 123.5 434.8 101.4 435.6 115.1 434.3 124.1 433.8 106.7 433.5 123.1 435.4 108.5 435.8 136.5 451.4 104.9 455.3 101.6 458.3 118.1 463 113.8 452.6 98.1 464.7 104.5 466.3 114.3 467.1 99.2 467.8 98.2 468.1 94.7 471.9 118.9 471.1 94.2 471.1 89.9 468.1 117.1 488.7 106.8 493 114.7 495.8 115.4 498.7 100 498.3 97.9 499.3 117 501.2 118.5 501.6 106.7 502 115.7 500 88.7 497.7 118.8 499.4 116.7 499.9 115.7 499.8 105.9 523.4 106.6 524.4 104.1 526.2 103.2 525.4 119.4 527.3 116.7 527 123.9 526.5 116.6 526.8 119.5 526.4 100.2 527.5 106 530.4 92 530.3 120.4 531.3 128.5 532.6 114.5 531.6 104 531.8 125.1 533.5 92.2 533 119.5 534.5 104.6 535.3 116.9 535.7 96.3 536.5 104 535.8 93 536.3 96.5 530.8 80.5 530.5 136.6 530.2 133.3 530.6 133.7 530.8 121.2 531.4 100.4 531.5 126.8 546.5 107.1 546.3 101.7 547.1 96.9 547.3 107.7 548.8 115.6 548.5 118.3 550 97.4 549.5 123.3 550.3 96.3 551.1 97.3 550.9 116.6 551.4 125.3 551.7 122.1 552.3 131 555.4 117.1 553.6 84.3 573.5 119.3 573.9 100.9 575.2 119.3 577.9 101.3 578.9 114.3 579.6 106.4 579 107.7 580.3 99.2 579.8 114.9 580.1 103.7 580.6 125.9 594.5 126.5 594.9 117.7 595.5 121.2 597.3 96.2 596.6 127.9 598.2 120.3 597.3 105.8 597.3 117.3 599.3 119.7 600 119.5 600.3 95.7 600.6 116.3 602.1 119.9 601.6 120.1 601.6 132.6 598.8 128.5 598 97.7 598.3 91.4 598.5 95.7 612.6 124.9 612.5 100.3 612.3 100.2 612.6 106.6 614.6 95.8 616.1 123 615.5 122.2 617.6 106.5 617.4 107.3 617.4 100.1 618.1 104.3 618.4 106.1 618.5 95.5 618.9 101 619 100.1 626.3 102.2 628.4 125.9 628.9 130.5 629.3 95.2 629.8 106.5 631 130.1 631.8 114.2 628.4 141.5 640.9 119.4 640.7 103.1 642.2 105.8 642.3 104.4" fill="none" stroke="none" marker-start="url(#Dc)" marker-mid="url(#Dc)" marker-end="url(#Dc)"/><path d="M370 99.7 370 113.3 371.9 106.4 372.4 121.5 371.8 101.7 373.4 117.5 374.7 108.5 375.3 115.3 375.8 119.6 378.9 123.2 379.6 107.8 372.9 87.8 383.7 115.8 385.3 108 385.3 125.6 385.4 100.9 385.7 115.5 391.3 102.6 391.2 107.7 392.4 119.9 393.1 100.2 388.8 89.9 422.1 116.9 423.3 115.9 423.3 116.5 425 109.5 421.2 132 422 89.8 422.3 130.7 423.2 115.6 423.1 120.1 425.7 130.7 427 122.8 428.3 113.4 429.4 107.1 429.2 119.3 428.5 115.6 431.2 107.1 432.3 124.1 432.1 115.5 433.3 103.6 433.5 115 433.5 117.6 433.6 113.4 434.6 113.4 433.4 115.8 433.6 102.1 436.2 98.1 434.7 101.6 434.9 106.3 457.2 123 460.2 113.6 464.6 114.1 464.9 95.5 464.3 98.6 464.6 99.4 465.7 103.3 468 107.9 469.6 124.8 469.6 120.4 470.1 123.2 471.4 98.3 471.9 116.5 472.8 100.1 472.1 98.9 467.6 135.1 467.5 129.1 468.5 130.9 488.6 107 488.5 106.1 487.6 104.9 488.6 103.4 489.2 104 489.3 98.2 489.3 101.1 490.4 120.8 492.5 108 492.7 115.1 492.9 105 495.3 121.8 494.8 100 496.5 105.6 497.4 100.9 497.8 113.8 497.7 94 497.4 121.5 498.2 114.3 500.2 120 500.3 106.8 500.8 97.7 501.9 122.4 502.8 94.3 502.7 100.3 498 123.3 498.1 113.9 521.4 113.9 520.9 104.3 520.5 103.6 521.4 114.6 525.5 125.5 526.3 128.5 527 125 527.8 128.4 528 99.9 527.9 115.2 528.8 89.5 528.6 88.8 530.9 108.1 530.8 126.8 531.6 98.7 533.2 130.1 533.5 103.2 535.5 100.2 530.4 90.8 531.1 117.2 530 103.1 530.4 117.8 530.8 118.2 530.9 132.2 531.2 115.3 532 94.7 531 116.8 531.7 129.4 546.7 118.9 548.4 96.2 548.5 96.8 548.9 97.3 548.7 105.2 549 104.4 549.1 123.3 549.6 102 551 125 550.6 105.3 550.5 118.7 552.3 104.8 552.7 129.3 552.2 94.4 552.3 105 554 102.3 554.8 106.4 554.6 119.5 554.7 121.1 555.5 128.2 555.6 108.1 555.2 102 571.9 104.1 571.9 108.9 572.2 102.5 573.2 99.9 573.1 123.2 573.4 117.1 573.9 115.8 576.4 114.5 576.9 101.7 577.5 108.2 576.8 99 576.9 108 578.3 118.5 579.3 100.6 579.7 98.5 579.6 125.1 580.1 101 580.9 104.7 581.3 98.7 581.5 108.7 582.5 113.4 573 127.6 580.5 134.1 595 101.6 596.2 89.8 596.2 94.3 596.2 114.3 597.3 98.7 597.3 121.9 598.3 94.7 598.2 106.3 598.6 94.4 599.4 89.2 599.4 94.4 602.2 129.7 601.7 115.5 601.6 101.9 596.9 121.9 598 101.7 597 131.6 596.9 121.2 598.8 99.9 611.2 121.9 611.2 123.7 612 117.9 614.5 113.8 613.7 117.6 614.7 115.6 615.3 103.6 615 90.9 614.7 130.9 615.3 102.8 619.4 120.1 626 94.8 626.5 118.5 627.1 98.8 628.1 119.4 629.2 116.6 628.3 114.7 630.3 129.6 629.3 101.9 630.2 125.8 630.4 115.7 630.4 118.9 631.8 122.5 631.8 93.5 632.1 100.9 631.6 105.6 641.6 109.8 642.8 116 642.1 118.3" fill="none" stroke="none" marker-start="url(#Dd)" marker-mid="url(#Dd)" marker-end="url(#Dd)"/><path d="M369.6 108.9 369.4 113.7 369.2 122.2 370.1 105.6 371.5 113.3 370.8 108 371.4 116 372.9 106 373.7 120.7 372.9 120.2 373.3 106.7 374.3 114.9 373.8 114.4 374.6 117.2 375.6 102.8 378.1 98.4 378.4 120 379 103.5 384.2 109.5 384 117.1 386.5 106.6 387.7 103.7 386.7 99.5 388.7 108.3 390.4 117.8 391.3 105.8 392.3 100.4 392.2 121 391.9 115.9 393.5 106.1 393.9 114.1 386.2 93.4 422.3 116.2 422.3 108.1 422.5 113.9 423.9 100.5 424.7 121.7 422 118.3 422.1 100.1 424 106.4 425.7 109.4 426.4 128.6 426.7 102.8 428.3 109.4 429.6 107.3 430.5 108.2 431.7 124.4 433 106.2 436 128.5 430.8 91.6 433.2 94.8 434.7 103 435.7 108.3 435.7 107.4 458.2 117.2 465 114.6 464.1 115.3 466.1 120.2 466.4 119.9 466.3 122.1 467 108 467.7 115.1 466.9 105.2 468.1 98.7 468.7 113.8 469.2 122.1 470.3 99.1 470.1 100.4 470.8 108.7 471.6 94 471.3 98 472.1 105.6 472.5 115.6 473 97.5 472.8 107.6 468.1 89 468.5 117.3 468.1 122.6 469.1 131.3 468.4 127.3 469.1 137.5 467.9 80.1 488.4 103 490 108.3 491 114.6 490.5 98.6 492.4 116.7 492.2 120.9 493.1 101 494.6 106.2 494.7 98.3 495.1 101.9 495.3 105.6 497.5 122.7 497.8 125.8 498.4 105.9 498.9 116.2 499.1 105.8 500.8 121.1 502.1 123.7 492.5 91.7 498.2 87.6 497.7 106.1 499.3 103.9 524.3 123.5 524.7 126.8 525.6 93 527 102.6 529.3 106.7 529 122.7 528.7 115.1 528.6 100.2 530.5 120.5 530.9 129.2 531.4 132.9 531.5 107.4 531.7 100.2 531.9 96.3 532.5 99.8 533.4 116.8 534.3 117.5 534 115.9 534.3 132 535.4 94 535 106.6 535.6 106.5 530.9 121.9 530.4 107.2 531.3 90.1 531.4 107 531 135.7 547.4 102.8 547.6 129.4 547.8 120 548.9 86.8 548.6 100.7 548.3 103.4 549.9 104.6 551.4 93.6 550.8 114.9 551.6 99.3 552.8 129.6 553.3 122.3 552.9 100.5 552.6 129.9 553.9 122.9 554.8 130.1 554.4 99.7 555.1 126.8 555 90 571.3 108.5 572.7 98.3 573.3 124.1 572.6 114.5 572.6 103.8 573.4 100.5 574.5 113 575.3 102.5 575.8 99.1 576 121.7 576.8 122 577.7 116.4 579.1 123.1 579.8 100.8 580.7 100.9 581.1 105.4 581.5 116.1 582.7 100.7 581.8 120.6 581.6 113 578.3 139.8 594.8 114.5 595.7 106.2 596.2 97.9 596.7 117.3 597.1 107.3 597.8 114.2 599 107 598.8 96.9 598.3 98.7 600 123.8 600.6 103.7 600.6 90.6 600.4 114.9 600.6 92.1 601.3 90.7 601.3 99.8 601.9 126 601.4 102.5 597.6 91.5 597.3 107.2 597.9 98.6 598.2 131 599 100.9 612.4 118 612.7 97.3 613 107.4 613.6 118.8 614.1 115.9 613.9 122.2 615.1 102.2 614.7 106.3 615.7 96.6 615.5 106.8 615.4 106.2 617.1 130.7 616.6 115.4 617 101.5 618.7 120.2 615.5 132.2 626.2 100.3 625.5 104.3 625.8 101.7 626.8 130.5 626.3 123.6 627.9 94.3 627.7 106.9 629.1 103.7 629.1 116.7 630 120.9 631.4 98 632.3 119 641.6 113.3 642.4 102.3" fill="none" stroke="none" marker-start="url(#Dp)" marker-mid="url(#Dp)" marker-end="url(#Dp)"/><path d="M369.8 98.4 370.3 113.8 371.4 120.2 370.8 100.2 373.1 114.8 375.4 106.9 375.4 109.5 376.2 103.1 376.8 102.7 377.1 108.5 378.2 98.9 379.4 102.7 384.3 122.6 385 103.9 384.9 107.4 387.1 114.7 387.5 101 387.1 114.7 388.5 108.5 388.8 107.7 389.4 98.1 391.3 101.8 392.2 121.9 392.7 113.5 394.9 101.5 395 96.9 395 117.1 394.6 103.3 422.9 115.5 422.1 94.7 423.1 116.2 423.3 127.5 427.3 107.4 428.1 102.6 428.7 105.4 429.7 114.1 430.4 130.2 433.8 121.9 435.3 105.9 434.7 105.2 435.7 105.7 435.6 98.3 435 95.9 435.7 108.6 435.9 130.8 435.8 130.1 462.5 109.5 465 92.4 465 94.9 465.5 108.4 465.7 120.7 466.6 124.3 467.4 101.4 468.1 114.1 468.3 123.6 469.7 114.6 468.9 118.5 470.3 115.6 472.4 124.8 470.8 131.7 469.9 90.9 467.5 127.2 468.1 125 468.4 106.8 468.8 135.9 488.5 119.5 488.9 98.1 489.9 104.4 490.6 119.9 495.9 116.6 496.7 119.9 495.8 104.4 499.7 106.4 499.2 104.9 500.8 114.7 503.1 100.8 498.1 103.8 498.2 122.4 497.8 122 499.8 120 499.6 114.4 499.7 102.8 499.5 101.4 498.6 136 520.6 104.2 521.8 102.7 521.8 104.9 523.1 114.6 525.2 103.1 524.7 131 527.1 98 526.8 106.2 528.5 120.4 528.7 88.5 529 114.1 529.4 119.8 529.8 102.8 529.7 114.3 531.2 114.8 531.8 116.8 532.6 99.6 533.1 107.3 533.2 129.7 533.7 130.3 535.1 122.2 536.6 95.6 535.9 123.1 535.9 97.9 530.4 126.1 530.2 105.6 531.3 106 547 108.3 547.7 122.2 549.1 100.7 549.8 125.4 550 97.3 551.2 101.2 550.4 100.8 551.3 115.5 553.8 132.9 553.3 105.8 554 134.3 553.6 107.8 554.3 116.4 555 103.9 555.5 94.5 555.6 97.3 555.5 108.4 571.9 123.6 571.8 120.4 571.7 104 572.4 120.8 572.6 124.8 574 118.1 574.8 108.5 575.3 123.2 577.3 118.9 578.5 102.9 577.8 104.3 579.1 103.9 595.2 106.5 594.9 94.7 594.5 89.7 595.2 97.6 595.6 88.8 597.5 107.3 597.8 96.5 599 117.9 601.2 103 601.3 94.3 602.3 125.9 602.3 103 598 117.8 598.1 115 598.7 117.4 597.7 81.3 610.9 97.7 610.7 105.2 612.8 107.4 613.8 116.7 615.1 122.3 614.5 119.9 615.8 125.3 615.6 127.8 616.6 114.3 617 104.7 617.9 114 618.3 125.6 618.2 101 625.5 107.7 625.8 104.7 627.3 99.1 628 106 628.3 118.3 628 120.2 628.4 118 630.4 114.2 631.1 101 631 131.3 632.3 115.2 631.6 97 631.7 104.6 631.2 81.9 643.4 101.5 642.9 112.8 643 103.3" fill="none" stroke="none" marker-start="url(#Dt)" marker-mid="url(#Dt)" marker-end="url(#Dt)"/><path d="M369.8 98 372.1 117.1 372.7 107.6 371.9 116.4 375.4 121.2 376.4 108.6 376.2 108.3 377.6 113.7 378.6 119.4 373.9 128.6 386.6 114.3 385.7 116.7 387.8 113.8 388.1 118.9 389.1 103.3 389.7 106.7 389.1 96 389.9 108.5 390.1 97.1 390.7 116.4 390.8 115.8 393.3 122.4 393.7 113.3 390.9 94.3 422 105.5 423 116.4 422.3 103.3 422.7 103.5 423.7 114.5 424 117.9 425.1 86 422 98.3 424.1 99.8 423.3 121 423.1 95.5 423.4 92.5 425.2 107.8 425.9 107.1 426.3 115 426.2 107.7 426.4 107.6 427.4 102.4 430.4 114.4 429.4 98.8 430.2 124.9 431.7 98.9 432.6 97.4 432.6 117.3 433.1 118.7 432.7 103.1 434.8 108.5 425.3 92.2 434 106.4 433.8 100.8 451.4 106.7 454.8 118 455.9 104.6 456.3 107.1 462.3 118.4 464.4 97.2 464.6 97 465.2 107.9 465.1 115.3 466.1 106.1 467.7 117.7 469.8 125 469.6 99.3 470 115.8 469.6 102.1 470.9 123.2 470.7 105.6 471 113.5 472.5 115.2 473 98.5 468.1 135.8 468.5 117.5 468.6 87.5 468.3 124.2 468.1 106.1 487.7 104.5 490.9 109.1 492.8 106.1 492.7 98.4 493.3 123.8 494.2 102.2 494.8 119.3 497.5 120.1 498.8 108.3 501.1 104.6 501.4 116 502.2 117.9 496.6 126.6 498.5 98 498.5 101.1 499.4 119.6 499.3 106.5 522.5 116.9 522.8 106.7 522.6 107 525.2 115.9 524.4 100.4 525.3 102.8 524.8 131.5 524.4 89 525.7 120.3 525.8 105.5 525.8 127.7 526.5 107.1 528.2 120.8 528 129.1 528.1 93.9 529.3 122 530.2 114.4 530.7 95.5 530.5 114.6 532.3 105.9 532.1 97.9 533.2 131.8 534.6 115 534 118.2 534.4 118.7 534.9 122.6 525.5 81.6 532.5 135.5 531.4 102.3 548.5 103 547.6 117.1 549.2 127.6 551 116.6 550.2 107.1 551.3 116.7 551.4 97.5 551.3 88.1 552.2 114.6 554 107.5 553.4 116.6 554.3 101.8 553.2 101 554.4 126.2 554.4 115.2 556.2 106.9 549.9 139.9 573.9 102 574.8 96.4 576.3 105.9 575.6 122.5 575.5 108 579.4 116.2 580.2 124 581 115 594.5 92.5 594.1 100.4 596.3 127.7 597.3 106.6 596.7 124.7 596.2 114.1 599 108 598.4 117.5 599.2 86.1 599.7 103.1 600.1 101.4 599.6 105.3 602.1 94.8 601.9 82.5 597.3 92.8 597.6 99.9 597.7 102.6 598 129.9 598.1 93.3 610.7 93.8 611.1 105.8 610.7 107.2 611.1 120.9 610.8 100.3 610.7 91.2 611.9 99.6 611.9 126.7 613.4 107.2 613.5 97.3 614.2 126.9 614.6 97.7 615.9 94.8 616 97 616.8 114.4 617.5 113.5 618 117.3 616.6 87.2 617.9 86.6 625.2 120.4 627.3 118.7 628.4 97.2 628.8 115.5 640.7 108.4" fill="none" stroke="none" marker-start="url(#Dv)" marker-mid="url(#Dv)" marker-end="url(#Dv)"/><path d="M368.9 119.1 369.2 98.8 370.5 124 370.2 101.2 371 115 372.6 114.7 373.7 114.8 377.1 105.4 377.6 118.3 377.5 117.5 378.4 115.1 378.5 120 379.3 106.7 378.4 133.1 384 113.7 384 100.4 384.7 99 385 121.1 387.6 125 388.1 103.2 388.5 116.8 388.8 102.2 389.8 117 388.9 96 389.6 124.2 390.7 108.2 389.8 108.9 391.2 108.1 393.1 107.6 393.3 122.7 393.7 96.7 393.9 113.9 421 117.1 421.1 125.5 421.3 108.6 420.9 103.5 423 89.5 422.3 90.8 422.5 87.9 422.8 118.2 422.3 117 423.5 88.2 423.9 85.9 426.3 126 428.8 113.4 429 116 429.6 108.9 431.2 123.8 430.8 123.1 431.1 130.3 432.5 104.6 431.8 121.3 434.7 120.8 434.9 128.7 436.5 129.1 436.5 123.5 434.7 118.1 433.5 123.1 434.9 96.9 434.9 122.6 460.7 100.6 453.5 139.8 464.9 94.4 465 114.7 466.9 99 466.4 93.9 467.4 117.3 467.5 101.4 468.7 108.7 468.4 124.3 468.1 119.9 468.4 119.3 470 101.6 471.1 125.7 471.9 125.3 467.5 121.2 468.1 107.3 467.7 120.4 467.8 97.5 467.5 124.5 468.6 95.2 468.4 100.8 489.2 101.5 489.1 102.4 489.1 113.3 491.7 97.9 493 113.9 494.3 113.2 493.9 117.4 495.9 97.7 500.6 119.8 500.4 98.8 501.7 125.7 501.7 103.1 497.1 91.4 498.4 97.3 499.1 127.5 521.5 113.1 524.9 104.2 524.9 92.4 526 100.3 526.1 104 526.8 115.8 528 122.2 527.5 126.5 529.1 107.5 530.4 90.1 530.5 106.2 529.5 125 530.4 93.8 531.4 127.3 531.5 97.3 532.2 104 533.3 105.3 532.8 105.1 533.1 117.1 534.3 115 534.5 116 535.2 118.4 535 96.2 535.6 124.5 535.3 114.1 536 104.9 536 128 536.1 117 536.1 118.7 531.4 118 531.8 124.1 547.1 115.5 546.8 120 546.7 103.6 547.7 116.4 547.9 122.5 548.2 115.4 549.4 107.4 549.7 95.4 549.2 108 549.9 95 551.3 96.9 552.1 94.5 551.2 116.6 551.6 126.8 552.8 123 553.2 100.5 553.1 89.7 554.9 105 555 99.3 555.4 118.7 555.7 126 549.6 141.9 572.3 116.9 572.6 117.7 574.5 98 574.1 102.3 574.4 107.1 574.9 107.7 575.6 105.2 576.6 99.9 576.7 123 577.1 106.7 577.5 108.5 577.6 107.6 582.4 108 582.5 113.1 577.6 91.4 594.9 114.6 595.1 96.5 594.2 117 596.1 120.3 596.3 114.8 595.9 88.2 595.8 120.1 595.9 89.9 596.3 104.6 596.5 89.2 600.4 91.4 600 93.2 600 114.5 601.2 104.1 594.2 135 598.3 87 598.6 92.8 611.5 126.2 612.6 102.2 612.5 97.2 614.4 121.1 614.5 127.3 617.2 96.9 617.3 122.9 618.5 114.8 618 96.4 618.5 116.4 619.1 94.1 626.1 106.2 625.7 108.4 626.9 99.2 627 123.1 626.8 97.3 627.9 124.9 627.3 102.3 629.4 126.1 629.4 107 630.3 118.3 630.4 125.3 630.7 102.1 631 104.2 632.1 96 642.9 105.7 643.8 106.8" fill="none" stroke="none" marker-start="url(#Dx)" marker-mid="url(#Dx)" marker-end="url(#Dx)"/><path d="M74 294.6V338.1M75 293.6V336.3M188.1 288.6V343.5M189.4 295.7V347.8M213 295.8V343M213.9 299.2V347.1M214.8 294.2V341.6M304.7 292.1V339.9M305.8 298.2V336.3M306.9 294.9V339.7M315.1 295.8V341.1M316.2 294.2V340.3M317.3 296.8V339" stroke="#ababab" stroke-width="1.1"/><path d="M89.5 306.6V327M90.5 306.5V326.2M120.2 307.7V330.6M151.5 302.2V326.2M261.5 299.7V331.5M283.5 296.5V332.2" stroke="#9c9c9c" stroke-width="1.05" stroke-dasharray="3.2 0.7 4.4 0.6"/><path d="M75.1 302.7V332M78.1 302.5V330M80 299.5V334.7M84.7 305V330M87.6 301.2V327.5M109.8 300.3V326.4M110.8 305.2V327.1M112.7 300.3V332.7M113.7 304.9V327.4M121.2 307.5V332.8M122.2 308.3V327.9M123.1 303.2V337M124.1 307.9V330.9M142.8 307.7V328.3M146.7 305.3V332.8M148.7 308.5V335.1M154.5 305V331.1M179.4 308.1V323.4M182.3 310.1V324.8M185.2 306.2V322.9M186.1 304.6V328M210.2 294V334.6M212.1 300.7V327M235.5 299.7V331.4M237.6 295.1V330.4M238.6 299.3V331.6M257.6 301.7V341.6M259.6 303.2V335.6M260.5 300V333.6M262.5 302.6V329.5M314.7 308.1V333.4" stroke="#a4a4a4" stroke-width="1.05" stroke-dasharray="5 0.6 2.2 0.8 3.6 0.6"/><path d="M65.4 303.1V333.4M72.2 303.1V327.6M74.2 304.8V334.4M83.8 305.3V329.6M85.7 303.3V334.3M86.7 301.3V326.1M88.6 300.8V329.1M108.8 305.4V324.7M114.7 301.2V326.4M125.1 302.8V328.2M144.8 300V328.8M152.5 306.9V327.5M155.5 300.6V328M180.4 308.3V326M184.2 311.9V327.6M206.3 299.7V339.5M241.7 302.5V336.1M258.6 302.1V331.7M264.4 300.3V329.5M275.8 303.4V336.1M277.7 300.4V328.9M279.6 303.5V332.7M280.6 299.6V331.9M281.6 304.9V329.8M282.6 297.1V329.3M293.1 306.4V330.7M316.5 302.6V332.5" stroke="#acacac" stroke-width="1.05" stroke-dasharray="5 0.6 2.2 0.8 3.6 0.6"/><path d="M66.4 300.7V335.9M67.3 305.2V334.1M70.3 306.4V332.6M77.1 303.5V336.9M79 302.9V332.2M145.8 303.9V331.9M156.5 304.9V323M178.4 304.2V323.3M181.3 311.6V325.1M205.3 304.2V342.7M207.2 305.5V329M208.2 299.9V341.5M209.2 296.6V339.2M256.7 298.8V333.2M263.4 304.5V333.2M276.8 300.9V327.5M278.7 304.1V335.4" stroke="#b4b4b4" stroke-width="1.05" stroke-dasharray="5 0.6 2.2 0.8 3.6 0.6"/><path d="M68.3 304.4V330.7M69.3 300.2V332M71.2 299.9V336.6M73.2 298.6V332.7M76.1 304.6V335.7M82.8 306.5V329.6M111.8 301.7V326.5M119.2 302.6V326.5M143.8 302.7V327M147.7 306.5V327.1M149.7 302.5V327.2M153.5 303.9V327.1M177.5 307.7V323.9M183.2 310.9V325.3M211.1 299.2V332.4M236.5 298.8V331.7M239.6 295.8V325.5M240.6 300.6V327.9M242.7 295.9V335.5M294 304.2V325.5M315.6 295.5V328.8" stroke="#bcbcbc" stroke-width="1.05" stroke-dasharray="3.2 0.7 4.4 0.6"/><path d="M65.1 304.4 66.2 333.2 66.9 329.5 67.5 320.7 68.6 301.6 68.3 301.4 68.9 320.1 68.2 312.9 69.8 322.1 68.8 299.6 69.5 303 69.6 337.6 69.9 309.4 70.1 303.9 71 310.8 71.6 306.4 70.7 305.9 71 328.1 71.7 327 72.2 303.1 72 327 73.2 300.9 74.4 310.3 73.6 334.3 76.5 329.7 76.6 322.7 77.1 308.4 77.4 322.4 77.2 310.7 77.5 323.5 77.6 322.7 78.5 303 79.6 312.4 79.5 306.2 79.4 311.7 80.4 324.4 80 311.5 79.7 295.6 76.2 351.1 80 290.7 73.5 309.5 74.3 309.8 74.1 295.1 74.9 290.4 82.3 319.8 83.9 327.1 83.2 299.9 84.2 303.4 85.2 335.5 85.4 302.3 88.2 335.6 87.2 328.2 88.3 312.9 88 304.9 89.1 313.3 90.8 308.6 90.9 312.1 91 300 109 319.8 108.4 301.3 110 306.9 110.1 302.9 109.6 311.6 110.5 310.2 110.9 326.7 111.3 323.4 111.9 307.4 111.2 296.8 112.8 308.7 112.7 324.6 114 302.2 114.3 320.6 113.8 323.9 114.3 325.3 114.3 298.2 118.6 306 119.3 302.2 119.8 313.8 119.9 336.7 121.4 305.6 122.5 320.3 121.7 312 123.6 333.8 122.8 326.8 123.2 323.3 123.9 313.9 125.6 311.7 143.4 311.2 144.4 335.6 144.8 335.4 145.4 312.9 147 334.2 146.3 308.9 146.3 299 149.5 320.9 151.2 328.5 151.9 327.6 151.7 313 153.1 307.4 153.9 320.2 155 324.4 154.3 321.7 155.3 301.5 155.4 325.1 157 302.6 156.5 313.7 177.2 305.7 178.9 305.5 179.2 313.5 179.8 325 180.3 330.4 180.3 313.2 181.3 306 181.9 305.4 183.7 308.9 183.4 315.6 184.3 322.3 185.7 319.5 185.8 292 180.1 291.1 188.6 325.7 187.7 330.9 188.6 312.1 188.1 349 189.9 294.5 189.3 341.4 189.6 309.1 189.6 328.1 205.8 310.1 206.4 300 207.9 304.6 208.3 306.7 208.4 311.6 208.7 325.7 208.6 326.5 209.5 328.4 210.3 344.4 210.2 326.6 209.6 322.5 210.8 313.1 212.8 312.4 214.3 336.7 213.8 344.3 214.7 305.4 214.4 295.2 215.1 313.4 215 312.3 237.1 303.9 236.7 323.1 237.1 327.2 239.1 326.8 239.1 329.8 239.6 313.8 239.7 301.7 241.2 329.8 256.8 297.4 258 329 258.5 314.2 259.1 313.2 259.4 325.1 260 334.4 260.6 304.9 262.1 294.1 261.6 298.4 261.9 335.5 262.5 312.5 262.4 336.3 262.7 307.7 264.8 296.4 276.2 334.2 275.7 314 275.5 325.8 277.9 294.8 278.3 298.2 277.5 311.2 278.8 331 278.8 323.3 278.6 326.3 282.1 326.9 281.5 308.6 281.3 312.5 283 311.1 282.7 306.6 283.6 291.9 282.9 327 293.1 312.8 293.6 307 304.9 292.7 305.3 336.9 304.8 331.4 305.7 322.8 306.3 334.9 306.6 332.2 315 312.1 315.7 307.4 316.2 337.4 316 305.5 316.2 331.4 316.9 312.9 317.7 320.9 314.6 323.1 315.4 306.5 315 332.9 315.7 337.7 316.2 344.6 316.8 335.2 317.3 290.9" fill="none" stroke="none" marker-start="url(#Lc)" marker-mid="url(#Lc)" marker-end="url(#Lc)"/><path d="M66 332 65.7 298.6 65.9 334 66.7 305.7 66.8 314.1 65.9 304.8 68.8 330.9 69.2 300.8 69.4 306.1 70.3 311.6 70 327.1 71 303.7 70.7 297.5 71.5 333.7 70.7 321.2 70.7 312.6 73.4 322.9 73.5 331.3 74.5 332.1 74.7 299.7 75 333.1 75 336.6 75.7 324.2 76.5 329.8 77.6 300.6 78.4 303.1 79 326.1 73.8 308.7 74.9 293.9 74.5 298.5 74.6 304.8 75.1 306.8 82.4 305.8 82.3 319.6 84.2 311.5 86.8 321.9 86.4 323.1 87.7 333 87.3 313.6 87.6 313.5 88.7 329.9 90.1 313.1 90.5 313.2 91 306.2 109 301.7 110.1 325.5 109.5 320.7 111.3 312.3 110.6 322.9 110.9 312.8 111.7 306.5 112.1 297 112.8 331.4 114.1 328.1 115.2 320.9 114.8 292.9 118.8 311.2 120 325.6 121.7 324.3 121.7 332 123 322.4 124.5 336 125.5 302.4 142.6 320.7 144 331.9 144.3 321 143.3 333.6 145.1 320.6 145.8 332.4 147.1 314.2 147.8 313.7 148.7 331.7 148.3 326.2 149.1 322.1 149.9 312.1 152.3 300.7 153.3 312.8 154 300.9 152.9 309.7 155.1 305.5 156.7 302.2 177.7 323.9 178.2 312.2 179 314.5 182.8 314.6 182 318.7 183.3 314.5 184.8 308 185.4 314.7 186.7 321.9 186.1 320.1 185.7 320.3 186.2 314.9 187.7 306.6 188 311 187.8 301.7 188.8 302.6 189.5 322.6 189.4 331.5 189.1 335.3 189.8 283.3 204.8 321.9 206 344.8 207.2 337.4 208.2 336.1 208.1 324.9 208.3 325.7 209.2 309.8 208.7 326.9 209.9 332.3 210.5 327.4 210.6 306.6 210.7 334.8 212 290.9 212.1 332.7 212.6 299.6 212.9 294.1 213.3 329.9 213.6 294.8 214.3 303.2 235.7 338.7 235.2 332 237 322.4 236.6 313.3 237.3 293.8 237.5 308.9 237.4 320.6 238.3 339.7 238.1 303.5 238.4 312.6 240.2 291.6 240.1 322.9 240.9 310.5 240.8 328 241.1 299.6 241.3 312.2 241.8 333.3 241.6 302.9 241.7 321.6 242.3 304.7 243.3 304.4 242.7 320.7 236.1 341.7 256.4 333.3 256.1 300 257.8 331.4 258 313.9 258.5 298.7 259.1 303.3 259.1 306.7 261 303.3 262 335.7 261.3 291.5 261.7 293.4 262.3 308.8 262 309.6 263.8 324.3 262.9 300.7 262.9 305.8 264.2 326 275.4 307 277.4 313.4 278 327.7 279.1 332.2 278.8 311.5 280 320.7 279.2 305.6 279.6 321.7 280.1 310.2 280.7 326.1 280.4 334.6 280.1 307.3 281.6 299.5 281.6 320.1 282 322.3 282.6 323.5 283.6 308.4 294.1 323.6 293.5 301.1 293.6 287.5 305.1 330 305.3 334.6 305.8 291.1 305.2 294.6 305.9 312.1 306.7 304.7 307.1 322.2 304.3 347.9 315.3 324 315.9 328.6 316.2 294.9 316 296.3 317.7 328.9 317.4 320.2 315.2 304.6 314.5 327.7 315.7 291.1 316.8 343.3 316.3 345.6 317.5 299.6 317.5 311.7 317.2 284.9" fill="none" stroke="none" marker-start="url(#Ld)" marker-mid="url(#Ld)" marker-end="url(#Ld)"/><path d="M65.7 311.6 66.6 309.6 66.8 302.9 67 336.5 67.8 323.8 67.9 301.5 67.4 335.6 66.8 293.9 68.8 330.1 70.3 322.8 70.9 313.8 72.4 306.3 74.2 341.1 74.2 294.1 75.7 301.5 75.6 334.6 77.5 305.4 78.6 310.4 79.3 297.7 74.3 324.3 74.3 296.7 74 304.9 73.6 311 74.8 294.3 75.5 308 82.4 308.6 82.4 322.5 82.5 331.2 84.3 325 83.3 328.5 84.8 300.3 84.4 308.9 85.8 322.8 86.4 302.9 86.3 321.2 88.1 303.1 87.9 302.5 89 331.1 88.6 333.9 90 332.8 90.4 333 84.5 293.7 108.7 303.6 110.3 320.1 112.2 312.1 112.1 311.2 113.3 306.3 113.9 297.9 113.4 295.8 114.1 295.1 113.9 330.6 114.9 294.4 113.8 341.3 118.7 306.5 118.8 324.6 120.2 324.8 120.1 326.9 120.4 328.5 122.6 303.8 124.8 320.9 125.6 323.6 119 288.2 142.7 313.8 143.1 312.8 142.7 305.1 145.1 323.9 147.2 309.2 148 301.6 147.9 310.1 147.3 302.4 149.1 312.8 148.9 314.6 149.2 308.5 149.2 321.4 149.4 313 150.1 302.6 151.8 308.7 151.6 320.3 152.4 313.8 152.6 313.1 153 301.1 154.5 310.6 154.5 321 156.9 309.4 156.1 311.7 178 307.9 178.7 320.7 179 306.7 180.9 305.3 182.9 319.2 184.3 320.2 184.6 307 188.4 292.2 188.2 307.1 189.6 329.2 188.8 324.7 204.8 295.4 204.7 301.6 204.8 335 205.5 323.5 206.8 305.7 207.6 301.4 208.6 322.1 209.6 323.3 210.6 308.7 210 323.8 210.3 307.1 209.9 293.9 211.1 322.7 211.4 313.2 211.6 321.4 210.8 346.7 213 313.2 214.3 313.6 213.5 324.3 213.5 296 213.5 327 214.4 330.2 214.3 328 214.9 311.6 213.6 351.7 235.8 332.4 235.8 298.1 237 313.4 237.6 322.8 237.4 302.9 238.4 330.6 239.1 337.8 239.1 313.8 238 337.4 239.3 312.8 239.6 323.7 240.1 310 240.5 324.1 240.1 332.3 241.6 305.8 243.2 325.4 243 313.5 242.5 303.9 242.2 312.4 242.6 306.7 257.2 334.9 257 321 257.1 300 256.5 324.7 257.3 343.8 258.3 329.1 259.2 345.7 259.4 321.7 259.5 330.7 261.5 313.1 262.5 324.5 264 325.1 262.9 330.4 263.2 328.2 264.2 336.5 264.5 328.6 256.4 286.4 277.2 312.1 276.3 294.4 276.3 322.1 277.9 300 277.8 311.8 279.2 323.2 279.1 300 279.6 338.3 279.9 336.8 280.2 312.9 282.4 309.5 282.1 333 283.9 306.9 280.8 344.4 304.8 296 304.9 307.7 305.4 326.9 307.1 334.5 307.1 321.6 307.4 323.2 314.7 314.1 315.2 308.9 314.3 332.2 315.6 302.3 315.6 311 316.9 321.9 314.6 344.9 315.7 304.2 315.2 345.1 314.6 327.6 315.9 337.8 316.3 304.8 316.7 327.3 317.5 309.8 317.7 308.7 316.9 310.8 317.4 324.8" fill="none" stroke="none" marker-start="url(#Lp)" marker-mid="url(#Lp)" marker-end="url(#Lp)"/><path d="M65.1 313.8 65.5 306.7 66.9 321.6 67.1 335.8 69.8 299 70.1 303.3 69.9 312.7 69.7 313.1 71.6 336.9 73.3 331.8 73.1 321.4 73.1 295.3 74.7 342 75.2 299.6 75.7 313.3 76.1 299.3 75.6 326.8 75.9 342.3 76.1 334 76.8 322.7 77.6 294.9 76.6 299.6 77.9 313.7 79.4 324.1 79.8 332.6 79.5 308.9 79.6 328 75.5 307.5 74.9 308.7 74.5 293.9 74.6 310.1 84.2 334.4 83.9 303.2 84.6 297.5 84.5 309.7 85 328 85.2 332.3 88.2 324.3 90.5 314.1 110.2 322.8 109.8 301.8 112 306 112.1 320 113.1 302.6 113.3 304.7 114.4 320.1 114.3 323.5 119.5 311.8 119.7 310.7 120.5 330.2 120.7 324 121.6 322.8 123.4 329.6 123.8 334.3 124 322.1 124.8 324.4 125 331.4 143.3 323.9 143.7 309.9 144.2 329.3 146.1 310.1 146.2 320.1 147 311.9 146.2 320.8 146.7 332.2 147.1 320.2 148.5 311.5 145.5 337.8 152 312 151.9 299.6 153.2 321.2 154.3 323.5 156.1 311.3 177.2 307.9 180.1 320.9 180.4 325.7 179.9 308.4 181.3 320.9 182.2 312 181.8 323.7 182.8 321.3 184.1 327.4 184.8 319.3 186.2 325.7 185.5 331.6 188.6 322.3 188.2 346.7 189.4 324 189.2 288.6 204.8 311.3 205.5 322.7 205.7 343.1 205.8 314.1 205.8 339.2 206.5 301.7 206.7 296.8 207.2 330.3 206.6 309.1 207.1 322.8 209 327.9 210.6 323.8 210.3 307.2 211.2 321.3 211.3 330.6 210.7 328.3 210.9 291.9 213.7 313.2 213.7 330 213.6 307 214.4 326.1 214.7 325.2 215.2 311 235.5 303 235.8 320.9 235.7 313.6 235.1 321.5 235.2 326.2 236 323.3 236.1 331.2 236.8 298.8 237 326.8 237.4 291.8 237.9 322.5 239 305.8 239.4 293.9 240.2 307 236.6 342.5 257 313.2 256.1 320.6 260.1 304 259.6 312.6 260.2 313.1 261 331.6 260.6 321 261.7 313.1 261.8 321 263 323.3 262.9 313 265 298.1 264 335.8 264.3 329.5 263.9 328.2 275.8 305.7 276.2 329.1 276.5 304.3 279 320.8 281 339.7 280.4 301.7 280.7 308.4 282.7 320.7 283.2 293.7 284 334.7 283.3 308.3 283.8 307.9 292.6 309.8 292.8 310.9 293.4 309.3 293.2 320.1 293.5 321.2 293.7 320.7 293.8 321 304.6 329.9 305.3 306.1 304.1 309.1 305.2 290.7 305.6 341.5 305.3 329.7 306.5 290.8 307.2 304.4 306.4 329.4 314.9 325.9 315.1 312.6 315.3 308.3 316.2 334.8 316.5 330.7 316.1 330.3 317.6 310.7 315.7 288.6 315.6 304.7 315.8 298 316.5 309.9 317.5 338.1" fill="none" stroke="none" marker-start="url(#Lt)" marker-mid="url(#Lt)" marker-end="url(#Lt)"/><path d="M65 308.5 66.9 312.7 68.3 331.1 68.5 322.5 68.7 300.9 68.7 320.7 68.8 321.7 68.9 337.9 69 321 70.2 332.8 72 321.1 72.3 312.4 71.8 335.1 72.7 309.4 73.1 311.9 72.9 310.3 73.9 301.3 73.9 306.5 74.7 294.6 73.9 299.4 74.6 320.5 75.5 305.7 75 310.4 76.2 298.2 76.6 292.9 77.3 311.6 78.1 310.8 78.5 323.6 78.6 300 79.5 321.4 78.9 330.7 79.6 342.5 79.3 329.9 80.5 327.9 73.9 348.4 74.1 310.1 74 329.1 73.9 328.1 74.9 303.9 75.2 339.1 83.1 305.4 84.2 303.5 85.4 321.9 86.1 302 85.9 311.6 85.8 312.6 86.2 299.9 88.2 305.7 87.8 333.1 88.1 320.7 89.6 314.1 89.9 329.8 108.7 301.9 109.2 297.8 109.2 310.4 109.3 325.3 110.1 311.1 111 325.9 110.3 319.6 111.5 308 112.2 332.6 112 322.7 112.7 313.5 112.7 328.2 113.1 330.3 114.4 325.3 120.6 333.4 121.4 337 121 306.8 121.5 334 121.1 307.5 122.3 310.3 122.8 312 123.4 305.2 123.5 322 123.7 304.4 123.9 309.7 124.7 324.6 123.8 312.4 124.6 301.4 143 314.6 143.3 313.5 143.3 321.7 143.9 328.2 144.7 325.6 144.9 330.2 144.8 309 145.9 328.8 146.1 304.2 145.3 305.4 148.1 305.2 147.6 326.2 148 323.4 147.5 322.6 149.3 322.5 148.3 301.1 149.3 305.5 151.8 306 153 312.7 153.9 320.7 155 309.8 154.6 312.1 155 303.8 155.6 327.3 155.9 294.6 154.5 339.2 177.2 322.2 177.2 314.7 179 313.7 179 314.9 179.6 305 180.8 326.6 184.7 327.6 185 319.3 186 329.1 187.8 312.6 187.7 306.7 188.6 345.5 189.1 298.9 189.2 325.8 205.8 296.2 205.1 313.3 206.7 307.9 206.4 343.5 205.8 309.3 207.1 335.6 206.7 324.1 207.4 303.5 206.8 303.4 208.2 326.9 207.7 301.5 208.6 310.4 208.8 322.5 209.6 309.3 208.7 296.4 211.6 333.6 211.6 298.9 212.1 308.5 211.6 306.5 212.5 348.3 212.7 337.4 213.4 329 212.6 341.8 214.2 299.8 236.5 334.7 238 306.6 238.6 340.5 238.5 328.2 238.1 326 239.7 332.7 239.4 329.6 240.3 320.9 240.8 311.8 243 328 243.1 302.4 257.2 314.1 257.2 339.7 258.2 322 258 331.3 258.4 325.4 260 312.4 260.1 338.7 260 329.1 260.6 328.3 260 333 260.6 311.4 261.4 324.8 262.8 303.3 262.8 312.2 263.5 323.1 264.9 310.2 264.5 327.9 264.6 347.2 275.7 313.2 277.3 325.8 277.1 320.6 277.1 294.6 276.5 335.5 276.6 301.8 279.1 329.6 279.2 312.6 280.1 298.3 281.4 323.8 282.9 311.2 282.8 334 283.8 310.7 283.6 301.1 282.2 341.3 293.1 327.8 293 322.4 293.6 307.6 294.3 305.1 293.6 325.3 293.8 321.3 304.3 328.2 304.4 312.7 305.7 339 306.5 324.1 315.8 334.7 316.8 321.7 317.1 331.2 317.7 326.2 316.8 308.9 314.7 296.3 316.2 297 317.2 321.6 317.6 294.2" fill="none" stroke="none" marker-start="url(#Lv)" marker-mid="url(#Lv)" marker-end="url(#Lv)"/><path d="M65.8 313.3 65.1 326.2 65.7 305.9 66.5 323.7 66.3 312.7 66.6 313.6 66.8 313.1 67.1 325.5 67.6 300.7 68.8 310.9 68 313.3 70.5 313.1 70.8 329.7 70.1 323.3 72.5 301.2 73.5 332 73.7 305.7 73.4 310.9 74.2 307.4 75.2 310.1 74.6 321.8 75.3 314 76 313.5 77.1 330.6 77.6 339 79.1 297.9 80 327.4 80.1 298.5 79.8 297.4 79.7 324.2 73.7 326.4 74.5 324.7 83.8 326.4 83.9 311 85.1 322.8 85.2 304.3 85.3 307.8 85.3 330.6 87.1 327.7 87.1 313.7 86.4 332.8 87.7 299.3 88 311.9 88.9 311.3 90.1 323.6 90 307.8 89.1 307.1 89.9 320.9 90 305.6 90.6 334.8 89.6 293.3 108.7 328.1 108.8 330.6 109.9 332.5 111.1 308.7 114 300.5 114.3 331.6 114.3 329.2 114.9 341.9 118.8 328 119.4 321.5 120.8 325.3 122.7 326.8 122.2 305.6 123.2 338.3 124.7 325.4 125.2 300.6 124.9 339.4 143.2 308.2 142.6 310.8 143.8 308.6 144.3 297.4 144.4 326.2 144.7 312.1 145.5 326 145.4 314.3 147.2 312.7 146.7 313.6 149.9 310.7 149.4 313 149.6 301 144 294 151.5 302.6 151 305.7 151.9 320.5 151.4 322 152.9 299.6 152.7 294.8 153.1 299.1 152.3 294.6 154.9 302.9 155.3 320.1 155.1 300.4 156 310.5 155.5 311 156.4 319.8 156.2 314.3 156 287.8 178 327.1 178 319.3 179.5 325.5 181.7 306.6 182.3 307.4 182.9 315.2 184.1 329.6 184.8 313.2 185.8 321.2 188.5 324.7 189 344 205.3 332.9 205.4 325.7 204.8 325.5 207.6 307.2 208.8 341.6 208.6 321.9 208.3 309.9 208.7 312.7 211.3 307.7 210.6 338.1 211.4 341.2 210.6 300.1 211.9 312.7 212.7 304.8 211.6 326.1 211.8 306.3 213.2 342.6 213.3 310.3 212.5 345.9 214.1 294.9 213.9 322.8 214 331.3 215.1 302.5 214.9 347.8 234.9 336.9 235.4 310.7 236.5 323.6 237.2 337.3 238.1 332.2 240.2 335.6 241.2 297.7 241.1 307.4 241.6 320.5 241.9 320.8 241.7 321.1 243.2 335.8 257.1 300.1 258.2 330.5 257.7 312.1 257.7 323.4 257.3 325.5 258.4 307 259.1 297.3 258.5 328.5 258.8 323.3 259.7 324.5 259.2 311.3 259.6 324 260.8 300.5 261.3 293.8 262.5 300.2 262.3 299.9 263.1 311.5 264.5 330.5 264.3 309.5 275.4 325.8 275.4 326.8 276.9 297.6 277 295.7 277.3 297.9 277.8 321.5 277.9 312.3 277.7 301.9 278.3 321.1 279.6 314.3 280 324.8 280 324.2 279.4 310.2 280.6 295.9 281.1 299.7 281.5 326.5 281.4 327.7 282.7 303.5 282.9 324.1 284 334.9 292.6 328.5 305.2 323.8 305.3 298.7 306.1 333.4 305.3 305.4 306.9 337.7 306.6 323.1 306.3 301.2 315.1 327.7 316.3 323.6 315.4 311.3 316.1 339.1 315.7 324.5 316.1 342.1 316.5 295.4 317.2 298.3" fill="none" stroke="none" marker-start="url(#Lx)" marker-mid="url(#Lx)" marker-end="url(#Lx)"/><path d="M92.7 301.6V338M93.6 300.4V334.3M94.5 303.9V335M104 290.2V343.1M105 295.1V340.6M138.5 287.5V344.8M139.5 291.7V347.5M287.5 295.5V343.1M288.5 287.5V340.2" stroke="#464646" stroke-width="1.1"/><path d="M43.4 301.6V331.1M63.4 307.2V326.7M105 303.2V331M138.8 303.4V339.6M159.7 302.2V329.4M171.5 300.8V340.5M172.5 306.7V336.7M196.7 304.4V334.8M198.6 304.9V326.6M202.4 296.9V332.6M216.7 305.8V330.5M218.6 299.6V342.1M231.3 304.1V327.5M243.7 303.7V327.5M253 303.9V328.2M271 305.7V325.7M273.9 301.9V325.8M300.7 306.5V329.5M312.2 308.6V324.9" stroke="#343434" stroke-width="1.05" stroke-dasharray="3.2 0.6 1.8 0.7 4 0.5"/><path d="M46.4 295.2V339.9M50.4 303.6V331.7M54.1 307.8V330.9M55.1 307.7V330.3M57.2 306.1V327.7M96.8 305.2V332.9M100.9 305.1V328.5M104 302.2V336.8M128.8 307V323.1M140.8 295.1V332.4M157.5 301.3V323.5M164.5 308.2V328.9M165.5 304.5V334.1M168.5 305.4V335.2M201.5 306.7V329.9M203.4 306.1V332.4M228.4 307.8V331.9M244.7 304V328M254 305.5V330.2M268.2 306.2V333.1M285.4 299.3V332.5M290.3 297.8V329.9M291.2 289.2V330.2M298.8 306V329.6" stroke="#3c3c3c" stroke-width="1.05" stroke-dasharray="2.8 0.5 1.5 0.7 3.3 0.8"/><path d="M40.4 304.2V336M42.4 299.5V327.2M64.4 308.8V326.2M97.8 301.4V333.3M99.9 305V333.4M101.9 303.2V329.6M106 304.5V334M127 306.4V325.4M127.9 311.8V323.4M129.7 303.1V323.4M131.5 306.6V328.3M135.8 308.6V328.7M136.8 298.3V339.9M141.8 303.7V334M197.7 303.1V329.8M215.7 298.7V331M221.5 294.1V335.4M223.5 298.3V326.9M227.4 302.9V333.3M230.3 303.4V333.2M232.4 300.7V328.6M234.5 300.1V332.4M245.8 308.9V325.5M251.9 302.9V328.1M270.1 303.7V332.3M272 296V331.5M272.9 297.9V331.4M292.2 298.9V346.2M294.9 303.8V330.5M296.8 299V333M297.8 304V337.6M301.7 302.9V329.9M313.1 311.5V323.6" stroke="#444444" stroke-width="1.05" stroke-dasharray="4.2 0.7 2 0.6"/><path d="M39.4 303.7V330.1M44.4 299.9V331.9M56.2 304.3V325.9M58.2 310V327M61.3 303.7V323.8M102.9 307.8V329.9M133.7 310.7V323.7M137.8 291.7V340.3M139.8 301V337.3M161.8 306.5V325M166.5 300.3V333.8M167.5 303.4V335.6M169.5 301.7V331.2M173.5 294.9V332.8M175.5 299.2V333.3M176.5 303.9V329.3M191.6 307.2V325.5M192.9 311.4V324.2M195.8 302.9V329.9M200.5 303.6V328.1M204.3 302.4V339.1M217.6 299.4V336.2M219.6 290.7V338.5M220.6 296.4V340.9M222.5 298.6V342.2M225.4 298.4V334.3M246.8 308.6V328.5M247.8 305.7V329.1M266.3 302.7V330.5M267.2 299V335.3M286.4 297.3V334.9M287.4 295.5V344.7M311.3 309.9V325.5" stroke="#4c4c4c" stroke-width="1.05" stroke-dasharray="4.2 0.7 2 0.6"/><path d="M45.4 302.7V338.7M47.4 303.7V330.7M51.4 302.8V330.9M59.2 306.8V327.5M60.3 308.9V326.1M62.3 303.9V326.1M98.9 302.2V327.9M134.7 311.1V324.4M158.6 301.5V328.3M160.7 307.9V325.7M170.5 302.8V334.4M224.5 297.6V335.3M229.3 298V333.6M233.4 306.2V327.9M269.1 300.8V328M274.8 291.8V329.3M288.4 291V341.8M289.3 296.9V346.6M295.8 301.4V326.8M299.7 304.6V334.9M302.6 307.3V330.8" stroke="#545454" stroke-width="1.05" stroke-dasharray="3.2 0.6 1.8 0.7 4 0.5"/><path d="M41.4 302.8V334.7M48.4 298.1V331.5M49.4 301V335.5M95.8 302.6V327.3M126.1 309.4V327.8M132.6 309.3V322.9M174.5 301V332M199.6 300.8V327.5M226.4 300.3V337M248.8 306.6V328.6M284.5 296.6V340.6" stroke="#5c5c5c" stroke-width="1.05" stroke-dasharray="2.8 0.5 1.5 0.7 3.3 0.8"/><path d="M39.9 303.6 38.8 297.9 39 324.9 40.2 325.9 41 334.3 42.1 302 42.7 308.9 42.9 296.7 43.5 322.2 43.3 327.5 45.8 312.2 45.2 333.4 45.1 313.2 46.9 321.8 47.7 312.3 48 324.1 49.4 328.1 49.1 297.3 49.4 307 50.9 311.4 50.5 304.1 50.2 299 51.3 322.5 51.8 333.5 51.5 295.4 54.3 307.3 55.6 322.2 55.2 324.9 54.7 305.7 54.7 299.7 56.7 327.1 57.5 304.6 57.7 330.1 58.8 302.8 59.1 324.6 60.8 313.8 60.9 310.4 60.8 322.4 61.5 310 61 326.6 62.8 321.5 62.1 314.5 63 306 63.1 329.1 92.6 329.3 93.1 306.4 93.1 330.9 94.1 314.1 94 305.3 97.3 311.1 96.5 321.4 96.7 328.7 96.2 298.1 97.6 327.7 99 327.5 99.1 299.2 99.9 327.3 102.3 310.3 102.7 314.4 102.7 306.8 103 327.9 104.1 331.8 104 323.9 105.5 321.5 105.2 302.7 105.4 314 105.6 331.5 97.9 341.5 104.4 327.8 103.5 309.9 104.2 324.8 104.1 286.8 103.9 322.1 105.5 308.1 105.2 337.7 104.5 289.1 104.4 339.2 129.4 319.8 129.7 313.1 129.3 313.2 132.1 310.5 134.2 311.7 135.7 328.8 137.1 333.4 137.8 330.8 137.9 322.7 138.2 304.6 139 342.9 138.9 303 138.6 331 140.1 306 140.2 343.7 139.5 304.9 140.8 329.1 141.6 334.5 141.2 300.6 138.5 307.1 138.3 302.1 138.1 286.5 138 305.8 139.9 326 140 325.4 139 292.8 139.3 288 157.1 319.8 158.3 326.8 158.5 301 159.1 322.3 159.3 296.3 161 327.6 161.1 319.3 162 321.6 165.5 307.9 165.5 325.2 165.6 309.3 165.8 335 165.9 313.4 167.2 300.2 168 324.2 168 323.8 168.6 301.6 168.6 313.2 169.7 311 169.2 313.1 171.7 313.1 171.4 334.8 171.9 314.7 172.6 312 173 312.9 173.6 328.5 173.1 337.5 173.4 322.7 174.1 333.5 174 307.4 174.9 319.9 174.1 301.7 176.5 332.3 176.5 331.4 176.7 309.8 191.6 321.9 192.7 324.8 193.4 308.8 195.8 334.2 196.1 310.5 195.3 321.3 196.4 300.5 196.6 324.8 198.2 308.1 199 313.6 199.4 307.8 199.3 326.4 201 324.8 200.8 325.2 200.8 323 200.2 328.8 200.9 329.1 201.6 337.2 201.5 338.8 201.1 339 201.1 337 202.1 331.1 202.4 302.7 202.9 337.7 203.5 301.1 204.2 300.4 204.5 324.2 204.2 333.3 215.1 312.9 215.4 343.7 216.3 332.8 217.1 308 217.1 325.6 218.4 332.1 218.8 328.9 218.3 325.1 219 322.2 220.1 339.9 219.7 300.6 219.8 323.5 220.7 298.7 220.6 346.5 220.1 313.1 221.1 298 222 321.4 221 300.3 222 309 221.2 322.5 223.6 334.9 223 331.9 223.6 311.2 223.1 295.3 223.3 295 224.8 296.3 224 328.6 224.7 308.2 224.5 328.3 225.1 291.4 226.1 335.5 225.9 294.9 226.7 329 225.9 310.3 226.1 300 228.7 323.9 228.9 332.2 228.9 326.4 228.8 306 228.9 343.7 230.6 325.9 230.8 323.1 230.1 288.8 230.8 301.8 217.1 285.8 220.3 285.2 216 287.1 231 310.8 232.3 311 233.9 321.3 232.8 325.1 232.9 314.2 234 301.3 234.5 331.6 244.3 323.5 243.2 305.5 244.6 330.5 245.6 322.1 245.3 320.5 245.9 305.7 245.9 314.8 246.2 327.4 246.2 308.7 246.8 310.5 247.6 320.4 249.9 320.2 250.2 300.9 251 314.9 251.1 322.2 252.5 311.8 252.6 325.7 265.8 304.9 266.8 321.5 267.8 295.8 267.6 308.5 267.3 337 269.6 299.7 269.7 311.5 270.8 321.7 271.6 333.8 271.4 320 272.5 293.4 272.9 330.7 272.8 309.4 273 325.6 273.4 320.6 274.3 333 275.4 304.1 274.5 312.9 272.3 287.2 284.4 341 284.9 326.1 285 322.2 285.1 297.1 286.5 296.7 286.2 342.2 286.5 303.2 287.2 298.4 288.5 302.5 288.9 311.9 288 325.2 288.6 345 288.3 323.2 289.6 311.3 289 289.8 289.8 294.4 290.8 292.4 290.6 294.1 290.5 326.2 290.8 331.2 291.1 311.1 291.7 322.2 291.6 307.4 287.7 284.6 287.1 328.3 286.9 288.3 288.8 293 288.9 305.9 288.6 336.5 288.5 332.8 288.2 326.4 294.6 292.8 295.4 324.5 296.4 311 295.8 308.8 295.7 309.6 295.7 309.9 297.6 323.8 297.5 331 297.6 298 298.5 297.4 299 324.3 299.3 331 298.4 294.7 299.4 321.5 299.4 303.6 301.1 334.2 301.1 312.6 301.1 330.7 302.2 334.5 302.2 323.4 301.3 314 302.1 311.8 302.7 324.8 302.3 335.8 302.9 333.1 302.9 308.3 302.2 336.2 310.7 309.3 311.9 323.3 311.3 304.9 311 302.4" fill="none" stroke="none" marker-start="url(#Dc)" marker-mid="url(#Dc)" marker-end="url(#Dc)"/><path d="M39.5 323.2 39.8 312.6 39.7 325.9 39.8 320.4 40 313.2 39.9 335 41.1 325.4 41.8 321.3 41.4 302.9 42.8 307.5 43 304.8 42.7 325 43.8 294.2 44.9 326.9 46.7 304.9 46.7 311.5 46.2 305.4 47.2 321.3 47.9 328.4 49.5 338.1 49 313.6 50.3 297 50.5 298.8 52 298.5 51.1 293.7 43 283.4 43.2 343.2 54.3 306.3 55.2 332.9 55.7 319.6 56.7 319.4 58.3 322.8 59.6 330.3 59.6 319.9 62.1 328.7 62.8 307.9 62.9 319.7 64.3 325.6 63.9 314 92.4 321.1 92.6 338.9 93.1 339.1 93.1 338.7 93.8 310.6 96.2 320.4 97.1 321.1 98.4 323.9 97.4 312.4 99.2 300.7 98.4 305.7 98.6 298.1 99.4 321.6 101.5 332.5 101.4 303.6 100.5 322.7 100.5 327.5 101.2 326.8 101.2 306.7 102.5 321 102.1 322.1 103.1 329.3 103.6 304.7 104.5 314.7 103.5 309.2 104.6 328.9 105.1 309.6 106 337.2 106.1 335.4 106.1 310 104.6 286.4 104 312.1 105.3 344.1 104.5 325.4 104.6 300.7 126.8 310.9 128.2 320.6 128.4 327 128.9 314.4 129.2 314 126.3 334.5 132.4 322.9 133 323.8 135.2 321.3 137.1 287.4 137.3 302 138.1 294.2 137.7 324.8 138.1 292 137.8 348.5 138.5 304.9 138.8 299.2 138.4 333.6 139 344 139.6 311.1 139.8 301.2 139.6 294.8 140.2 348.3 140.8 343.3 140.5 288.7 140.5 332.6 140.6 323.6 138.4 301.5 140.1 336.2 139.1 310.6 139.5 352.2 157.2 325.8 157.2 323.2 158.9 322.4 159.9 302 160.7 310 161.3 302.3 161.5 326.2 161.3 308.3 162 326.3 164.4 327 165.8 325.1 165 327.5 167 335.1 167.2 321.8 169 339.9 168.2 325.9 168.5 304.5 169.1 321.6 169.5 322.4 169.6 330.1 169.6 311.6 171 312.8 170.1 330.5 170.9 312.1 170.6 327.9 172 322.3 172 305.7 171.9 336.2 172.5 323.8 174 326.2 174.1 303.2 175.9 330.4 175.5 325.4 176.1 323.8 168.8 342.8 192 315.5 193.2 323.8 192.8 315.8 195.5 298.9 198 300.7 197.8 299.8 198.3 305.3 199.3 305.4 199.8 309.8 199.1 334.3 200 331.9 201.9 305.5 202.2 311.6 204.7 338.8 204.3 344.3 215.5 332.3 216.2 289.8 216.4 292.7 216.4 336.8 216.1 321.6 218 292.3 218 293.3 217.7 343.7 217 305.6 218.1 336.3 218.6 327.2 219 326.5 220 309.7 219.1 331 219.8 331 219.3 342.4 219.1 301.8 220 340.3 220.5 336 222.1 299 224.4 334.9 224.9 310.8 225.6 295.8 225.1 293 224.9 293.5 225.9 337.1 227.3 299.4 227.5 310.4 226.9 329.9 227.9 297.6 229.1 334.1 228.8 321.6 230.5 334.8 231.3 330.3 231 307.4 231.7 307.4 231.2 320.5 231.8 328.2 232.8 320.4 232.5 298.8 233.5 324.8 232.9 305.3 234.3 336 243.7 314.3 245.2 310.2 248.2 322 248.8 301.7 248.4 307.1 250.3 321.5 250.6 321.1 250.9 325.5 253.5 311.7 254.5 320.1 266 332.2 266.8 304.4 267.2 325.6 267.8 301.4 267.6 326 269.1 306.6 269.6 298.9 269.5 298.7 270.5 323.8 270 331.1 270.3 326.4 271 326.4 272.5 327.2 272.4 324.2 272.7 303.5 274.5 306.4 274.7 311.6 284.2 333.3 284.4 330.7 284.8 345.2 284.9 307.4 284.9 292.1 284.5 298.6 286 323 286.1 325.6 286.6 324.9 286.9 334.6 286.2 299.2 288 298.2 287.1 300.2 287 322.8 288.3 346.1 288.9 335.1 289.7 295.3 290.4 312.2 291.5 311.6 291.7 342.1 292.7 345.5 291.9 292.7 292.4 303.6 291.8 303.7 287.5 322.8 287.5 312.7 287.8 300.4 288.3 334.3 288.3 285.1 288.2 342.2 288.1 335.8 288.1 296.3 295.5 298.8 295.5 298.1 295.6 300.3 297.1 295.6 296.3 329.5 297.1 307.5 297.3 307.4 297.2 311.1 297.5 330.8 299.3 323.2 299.5 312.8 299.4 329 300.2 303.7 302.8 312.8 310.8 308 311.8 315" fill="none" stroke="none" marker-start="url(#Dd)" marker-mid="url(#Dd)" marker-end="url(#Dd)"/><path d="M38.8 300.6 41 335.1 41 313.4 41.8 298.1 41.1 332 41.4 333.2 41.5 297.4 43 308.5 43.9 321 42.9 340.5 43 330.9 42.9 303.3 44 332.1 44.2 322.1 43.9 299.4 45.1 322.2 45.2 294.8 45.9 328 45.9 337.7 47.3 300.2 47.1 332.4 47.1 304.6 46.9 306.1 48.6 304.9 47.9 320.7 47.9 321.1 49.3 323.2 50 294.1 51.9 306 51 311.9 54.3 312.7 54.5 304.2 53.5 326 54.2 308.2 54.8 328.8 55.5 309.6 56.2 313.7 56.6 314.8 59.5 304 59.8 303.2 58.9 320.3 61.9 311 62.1 301.3 56.3 292.6 54.9 349.2 58.9 297.3 94 334.4 93.9 309 95 334.2 94.1 313 95.9 311.2 96.1 306.2 96.8 321.1 98.5 314.1 100.4 302.7 101.1 313.1 101.7 306.9 102.3 328.1 102.8 307.5 104.5 313.7 103.8 300.1 103.6 343 103.8 303.1 104.9 312.6 105.2 302.2 126.8 310.3 126.7 308.5 131 306.1 132.8 307.5 133.8 319.8 133.3 320.3 133.7 327.3 134.9 308.7 134.1 320.3 136.8 326.4 136.2 306.2 136.5 343.6 137.2 332.8 138.3 343.5 138.4 335.7 140.3 288.7 141 310.7 142 337.4 142 309.9 141.5 321.5 141.9 296 142.1 285.3 138.4 303.8 138.5 327.4 138.6 307.9 139.5 308.4 139.2 304.5 158 326.2 158.2 295.9 158.1 323.5 158.5 322.5 160.2 328.9 162 314.1 164.4 325.1 164.9 310 165 311.1 166.3 302.7 166.3 329 166.2 306.4 166.6 321.7 170 340.9 170.6 325.5 170 321.9 171.1 337 171.8 303.1 171 329.1 172 339.4 172.9 340.1 173.4 300.7 175 298.6 174.2 300.7 176 304.1 176.7 327.6 176 333.3 191.9 319.8 195.7 313.1 195.8 323.7 195.2 312.5 196.9 335.3 197.3 331.5 197.9 327.3 198.8 305.6 198.1 305.3 198.6 309.6 199.7 311.5 199.2 329.8 200.5 322 201.3 308.8 202 302 202.1 332.3 202.6 312.8 203.7 326.5 203.8 339.6 204.4 313.6 204 327.8 203.4 343.8 215.3 299 216.3 343.4 215.9 296.2 216.2 335.5 216.3 336.7 217 329.7 216.3 297.4 217.5 309.8 217.2 331.6 218.3 305.6 218.2 327.6 219.8 295.4 219.5 304.1 220.5 330.3 221.9 333.4 221.3 306.5 221.9 290.8 222.6 325.4 222.9 339.1 222.5 334.4 222.9 337.1 222.5 287 222.7 307.2 223.4 331.6 223.8 329.1 224.9 312.6 225.1 291.5 224.5 338.3 224.6 330.2 225.2 321.9 225.4 300 224.9 340.1 226.2 301.4 226.9 312.4 227.6 295.6 227 296 227.5 322.9 228.1 321.8 228 308.9 228.9 329.7 230.8 337.7 230.3 339.1 230.6 334.1 229.9 339.9 232.5 312.7 232.5 293.4 233.5 307.4 243.4 306 246.2 307.5 247.2 308.7 247.4 300.1 248.4 298.7 249.8 302.2 252 328 252.4 323.3 254.2 329.3 253.5 314.7 251.3 289.9 250.2 289.1 267.5 296.1 266.8 306.9 267.8 310 269.6 306.2 268.6 312.9 269.6 294.7 270.6 321.8 270.6 321.4 270.2 311.7 270.7 335.7 272.6 333.3 272.8 308.8 273.4 329.5 275 312.4 274.9 297.5 283.9 299 284.9 298.5 285.7 340.2 287 313.2 287 304 286.8 347.1 287.2 291.4 287.1 288.9 287.1 345.7 287.2 335.1 287.6 340.7 288.3 289.8 288.1 327.6 287.8 297.4 288.5 307.1 288.2 310.1 289.6 336.1 288.8 322.6 290.8 311.9 290.2 309.8 290.8 332.2 291.8 287.9 291 291.6 290.9 327 291 303.2 292.7 309.4 292.1 330.5 292.3 309.7 287.9 302.5 288.8 344.9 288.9 308.4 287 283.8 296.9 303 296.8 328.6 296.5 313.5 298.9 312.3 298.6 329.1 298.3 338.7 299.6 322 299.8 310 301.5 320.9 301.8 333.7 302.2 322.8 302.6 341.2" fill="none" stroke="none" marker-start="url(#Dp)" marker-mid="url(#Dp)" marker-end="url(#Dp)"/><path d="M39.7 333.2 40.7 308.1 39.9 321.9 41.2 313 42.8 292.1 42.8 308.3 42.5 327.8 43 293.8 43.9 336.9 43.7 304.5 44.6 332.7 44 308.9 45.3 324.9 45.7 326.4 46.4 295.8 45.9 334.7 46.5 313.7 46.1 339.7 47.2 304.6 47.5 313.3 48 308.5 49.9 303.1 49.4 334.2 50.9 323.3 54.1 305.5 54.9 326.8 56.3 306.8 56.3 331.1 55.7 308.9 58.3 321.2 58.8 324.3 60.8 308.6 60.6 314.5 60.3 308.9 59.9 322 63.7 325 63.3 325 64.6 321.8 64 329.3 64.1 319.8 92.9 324.2 93.1 321.2 93.6 338.5 93.3 337.1 94 329.2 94.3 326.8 95.8 304.1 96.6 301.7 97 308.1 98.2 306.2 97.4 322 99 331.3 99.3 324.1 99.4 320.8 100.8 326.5 101.9 320.6 101.5 331.2 103.7 335.1 104.2 310.4 103.8 332.3 103.8 339.9 105 337.3 104.5 310.3 106.6 300.3 106.4 312.4 106 323 104 305.5 103.8 335.3 105.3 295.4 105 309.5 126.5 327.3 126.4 304.9 125.9 323.1 126.7 326.3 126.4 319.5 128.5 322.8 128.3 326.4 129 319.9 130 306.4 126.8 285.4 132.1 328.1 131.8 312.8 130.9 319.3 132.3 307.7 133.5 328.2 135.5 319.4 135.7 329.2 137 310.8 137.1 322.3 137.7 346.8 137.8 304.2 139.1 324.5 138.7 306.9 138.5 306.8 138.7 334.4 139.8 298.7 140.3 290.1 139.9 297.4 139.7 330.9 139.9 304.7 139.4 322.3 141.2 346.3 140.3 323 140.4 302 141.2 346.8 141.3 292.2 141.2 323.6 142.3 305.3 141.9 313.4 138.1 288 138.3 329 138.1 310.9 138.7 327.4 138.9 307.8 140 351.9 138.9 305.5 140 305.1 157.3 300.8 158 310.4 158 323.2 158.7 328.4 158.8 298.6 160.5 301.8 160.6 326.1 161.2 302.1 157.4 333.9 164.7 320.6 164.2 306.8 164 307.3 166 328 167 320.9 169.8 332.7 169.2 341.2 169.2 306.5 170.9 311.5 170.6 338.5 170.1 340 170.9 340.7 171 308.5 170.9 339.1 172.8 304.8 174 298.2 173.3 302.1 174.7 311.3 176.8 325 176.7 337.5 175.8 286.5 192 324.3 195.4 313.8 196.3 321.1 197.2 307 196.7 307.9 197.3 340.4 197.5 325.5 198.8 322.5 198.3 320.1 199.9 308.1 200.2 298.3 201.2 337.6 201.3 306.2 202.5 307 203.9 323 203.6 311.5 204.3 305.9 216 304.4 215.5 326.4 215.3 290.8 217.4 302.2 218.2 312.3 218.9 293.4 218.2 327.8 219.3 328.9 219 307.2 219.6 288.8 221.1 310.6 220.2 345.1 220.3 296.3 221.8 310.1 221 311.6 222.8 336.2 222.8 329.8 223.3 310.4 223.1 310.6 224.7 333.9 225 306.9 225.2 295.7 225.3 332.5 225.7 307.6 225.8 325.7 225.8 341 226.4 310.4 227.1 329.6 229.9 330 229.3 331.2 229 344.8 230.1 330.7 230.5 299.6 230.3 351.6 230.9 300.6 231.4 308 231.3 329.5 232 310.3 231.9 328.2 232.1 300 234.9 329.8 243.4 319.7 244.3 301.4 244.9 314.4 246.8 302.8 246.3 302 247.2 306.8 248.2 329.1 248.5 310.8 249.4 309.9 251 325.8 251.2 320.5 251.6 325.3 252.5 314.5 251.4 330.5 253.5 333.8 254 312 253.9 302.3 253.2 297.5 266.3 308 266.3 311.7 266.6 334.3 266.7 327.1 267.3 335.3 267.8 321 268.3 335.3 268.3 322.6 269.7 295.8 269.2 312.4 270.8 323.8 270.5 299.1 270.7 309.9 272 304.4 272.1 296.8 272.9 304 272.6 304 274.3 320.4 274.4 325.6 273.4 333.9 273.9 304.1 274.9 335.5 275.2 302.6 275.2 297.4 285.1 326.7 285.8 306.4 285.9 311.1 287.6 289.3 288.8 339.3 289 343.7 289.1 336.3 289.3 330.9 289.8 293.4 289 323.4 290.4 331 289.7 331.2 290.3 325.4 290 322.8 292 332.6 291.9 288.4 287 345.3 286.9 295.6 288.6 310.1 288.3 328.4 294.8 306.2 295.8 298.7 295.6 307.9 297.2 323.2 297.6 305.1 297.9 305.5 298.2 339.2 297.5 302.4 298.4 325.5 298.3 321.2 300.1 313.8 299.6 329.9 300 333.4 301.1 300.1 301.8 324.7 303 314.6 302.4 311.7 311.3 324.4 311 305.1 312.7 307.4 312.5 303.8 311.7 320.1 312.8 307.8" fill="none" stroke="none" marker-start="url(#Dt)" marker-mid="url(#Dt)" marker-end="url(#Dt)"/><path d="M39.8 321 40.4 294.8 40 300.8 40.3 334.1 40 295.8 41.1 298.3 42.6 307.1 43.8 308.2 44.1 333.8 44.2 305.7 45.6 294.6 45.2 328.9 46.7 311.7 46.4 339.3 47.9 326.5 47 321.7 48 300.9 47.9 311.7 49 329 50.5 320.7 49.9 304.5 50.2 306.2 51.5 300.6 51.5 289.3 51.3 306.5 51.4 324.5 57.3 320.8 58.8 311 58.7 320.7 59.8 300.6 60.7 306 61.1 328 61.5 329.2 61.8 320.4 63.3 326.8 64.2 320.3 64.5 313.6 64.7 320.9 92.3 331.1 93.2 323.7 92.6 324.2 92.9 338.4 92.5 336.3 93.4 337.3 94.5 327.6 95.1 335.1 94.7 308.9 95.5 310.4 96.1 335.7 97.7 323.3 99.3 304.3 99.2 326.3 100.5 321.2 100.3 329.3 101.1 323.9 101.4 300.4 102.2 327.6 102.6 309.9 103.4 312.2 102.6 336.7 104 309.8 103.4 321.5 105.4 306.6 104.4 308.6 105.5 334.4 106.4 344.9 104.6 294.4 103.6 343.9 104.6 323.6 105.3 282.9 126.3 319.5 125.5 322 126.2 314.1 126.8 320.2 127.5 325 127.9 323.8 129.2 307.8 132.1 321.5 131.2 326.5 132.2 326.3 132.6 321.8 133.8 309.7 134.5 308.8 135.9 322.3 135.5 311.7 133.4 339.7 136.3 342.9 136.8 298.9 136.7 335.7 136.4 326.1 138.1 348.1 139.2 301.9 139.2 309.9 138.9 342.9 141.4 289.2 140.4 341.4 141.2 334.8 141.5 336.4 142 308 140.1 310.9 139.9 289.4 139.9 311.3 159.5 300.6 159.8 308.1 161.1 320.3 161 313.1 160.9 325.1 161.7 318.9 158.6 337.5 164.2 324.9 163.9 325.5 165.7 335.9 167.2 324.2 168 306.1 167.1 327.9 167.2 312.5 167.9 328.8 168.2 321.8 168.1 301.7 167.9 305.5 169.7 302 170 328.6 171.9 307.2 171.2 334.6 171.5 321.5 173 330.4 173.4 301.5 173 325.3 173.7 327.1 174.7 310.3 174.5 324.2 175.4 341.4 175.1 302.4 175.3 328.4 175.6 309 175.1 333.5 175.6 340.7 176.3 329.1 192.8 319 196.9 335.2 196.8 308.2 197.3 314.4 198.1 314.1 199.1 333.1 201.8 312.4 203.9 311.2 203.7 321.2 203.4 341.4 203.5 300.5 203.9 299.2 204.7 307.5 204 332.3 203.8 321.8 215.2 298.1 215.4 308.4 216.6 326.3 217.4 295.6 218.7 333.9 218.8 289.8 218.8 294.6 218.5 336.9 220.8 310.6 220.5 322.8 220.7 346.5 221.6 301.9 221 323.1 222.2 306.9 222.6 325.8 222.5 310.6 222.9 301.3 224.1 294.6 224.2 312.1 225.7 344.1 224.8 305.2 226.8 311.9 226.8 293.2 227.7 303.8 228 307.3 227.6 337.6 227.5 320.9 227.9 310.6 227.9 311.6 228 327 229.2 341.8 230.8 332.3 233.3 303.6 234 311.7 244.2 309.5 244.3 321.8 244.6 301.9 245.1 311.9 244.4 329.6 248.1 311.6 248 322.1 249 331 249.9 331.3 251.4 324.5 251.6 301.9 252.6 309.3 253 330.6 253.4 307.9 253.7 323.9 254.3 302 265.8 298.8 266.4 296.3 266.8 298.7 267.7 329 267.2 312.5 268.6 333.6 269.5 307.3 269.9 331.6 271.3 331 271.4 326.2 272.4 320.9 272.4 299.3 273.7 330.9 274.1 312.6 273.6 309.5 284.9 322.9 284.4 301.1 285 340.4 284.2 341.5 285.7 291.4 285 330.8 285.1 305.1 284.9 345.9 285.6 335.6 284.9 331.3 286.4 332.1 286.5 331.4 287.1 335.6 286.9 341.3 287.9 328.3 287 344.3 288.2 326.9 288.9 297.2 289.8 301.4 290 307.4 291.5 294.4 291.8 286 290.8 337.5 291.2 302.9 291.6 340.6 292.1 329.1 292.4 326.3 291.9 327.4 289.1 283 287.4 337.9 287.8 309 288 289.4 287.9 306.9 295.4 328.4 294.4 324.3 294.9 311.7 294.4 310.7 295.8 301.3 296.1 320.9 296.4 304.2 297.4 312.7 297.3 305.9 297.4 332.4 297.9 340.7 298.2 335.7 299 324.3 299.1 313.9 300 311.1 301.1 299.6 301 321.2 301.4 302.5 300.3 290.5 312.3 304.3" fill="none" stroke="none" marker-start="url(#Dv)" marker-mid="url(#Dv)" marker-end="url(#Dv)"/><path d="M39.5 333.3 40.9 295.3 39.8 299.7 40.4 329 41.1 338.6 41.8 292.6 42.7 321 43 301.6 44.4 321 44.3 299.6 45 341.9 45.2 323.2 46 312.1 45.8 312.1 46.7 336.8 47.8 313 47.7 303.4 48.2 312.2 48.4 294.1 48.5 310.9 48.8 309 49.6 321.1 48.8 333.1 49.3 313.5 49.9 312.2 51 330.4 40.4 286.7 54.2 325.9 53.7 321.1 55.3 310.6 56 319.7 56.6 308.2 57.1 320.8 57.3 314.6 58.6 320.6 58.8 328.5 57.9 327.3 58.7 327.6 60.4 321.5 60.5 329.7 61.5 313.6 61.4 308 62.2 320.6 62.8 324.1 63 331.2 92.9 312.3 93.9 312.9 94 321.3 94.5 321.6 93.5 347.2 96.1 306.7 95.5 320.8 95.7 306 96.2 296.7 95.4 303 97.2 324.8 96.4 325.8 96.5 307.7 97.7 332.2 97.4 313.7 97.4 321.2 98.1 332 99.1 323.4 99.9 333.1 100.3 304.5 100.4 303.3 101.3 326.7 100.8 329.7 102.2 308 103.4 304.4 102.9 311 105 324.6 106.5 333.3 104.3 345.1 103.5 304 104.8 325.3 104.5 323.9 105.4 306.3 125.9 307.7 127.5 313.5 127.5 308.8 128.1 325.3 129.7 308.2 129.2 304.5 129.7 321.8 129.4 312.9 133.1 305.1 134.8 310.6 135.2 312.3 135.7 328.6 132 304.2 136.4 302.9 136.7 293.9 136.4 298.5 136.6 322.4 137.6 296.3 137.8 325.6 137.4 300.9 139.4 312.2 140 326.7 139.9 297.1 140.7 298 141 330.1 140.6 331.5 142.2 321.8 142.3 297.6 142.3 283 138.1 339.3 137.9 323.3 138.3 288.9 139.6 348.5 138.9 343.1 139.9 289.1 157.6 309.3 157.4 326 157 311 159.8 328 160.2 300.3 159.8 307.7 159.7 319.9 164.2 338.9 164.8 322.8 165.7 334.3 165.6 305.3 165.2 323.5 165.7 312.8 166.7 330.2 167 312.7 166.8 328.1 167.4 305.2 166.9 322.9 167.6 322.6 166.9 309.3 168.8 325 169.5 310.6 170.9 310.9 171.6 322.4 172.9 301.3 172.9 313.7 173.9 330.9 173.8 338.7 175.3 310 175.3 321.1 175.1 313.2 175.6 311.1 175.9 340.6 191.9 315.3 191.6 326.6 195.2 298.1 195.7 329.3 196.1 332.9 196.3 338.4 197.1 323.5 197.9 302.4 198.1 299.1 197.9 324.1 197.6 327.8 199 313.8 199.2 327.7 199.1 332.8 200.5 334.6 200.7 326.9 200.6 336.3 201.2 322.1 201.9 312.6 201.9 337.5 202.2 311.7 202 335 201.8 308.9 203.7 340.4 203.4 333.3 203.8 301.6 197.9 285.4 216.3 297.6 217.2 339.7 216.3 311.7 216.5 337 216.9 313.2 216.4 332.6 217.4 326.1 217.2 334.4 217.4 313 218.2 305.4 218.3 297.6 219.2 327 220.6 322.1 220.7 322.3 221.5 296.3 221.2 304.1 222.6 300.8 223 302.9 223 297.7 223.9 302.5 224.5 321.8 224.8 298.9 225.5 307.9 226.9 327.3 226.9 334.3 227.2 304.5 227.7 307.4 228.4 322.8 228.4 302.3 228.7 334.6 229 341.5 228.8 312.1 229.3 307.2 229.7 303 230.6 337.6 230.8 332.2 230.6 294 232.2 332 232.8 298 232.2 332.7 233.8 301.6 232.9 322.8 233.9 325.5 234.1 323.4 234.7 303.7 233.9 336.9 234.6 311.1 234.7 297.6 234.5 334.1 233.8 288.4 244.3 332.4 246.6 302.7 247 321.6 247.6 307.1 248.1 304.8 248.7 311.2 249 331.8 248.7 326.2 249.7 333.7 249.5 300.6 251.6 312.1 252.9 314.1 252.8 311.5 266.1 329.1 266.5 302.2 265.7 322.3 268.2 330.1 268.3 331.3 268.3 323.3 269.6 312.3 269.6 299.1 270.5 298.2 270.9 314.2 272.4 296.1 273.3 328.8 273.4 290 273.5 322 272.4 292.2 272.4 306.8 274.7 324.4 275.3 305.7 274.6 329.3 274.6 302.4 267.4 288.9 284.7 301.7 284 293.9 285.6 326.2 285 297.2 286.1 299.3 286.3 297.6 287.7 302.7 288.4 342.3 288.4 299.6 288.2 298.6 288.8 329.4 289.7 330.9 289.1 322.5 289.8 308.3 290 336.6 289.7 331.2 291.6 306.6 290.9 321.4 292.8 306.8 291.9 290.5 288 311.5 287.4 338.2 287.4 324.5 287.2 311.6 287.7 307.3 288.1 307.9 294.8 294.6 295.2 332.4 294.3 295.8 296.3 309.7 296.5 292.9 298.6 309.2 299.2 313 301 334.4 300.8 329.2 300.1 314.4 301.4 306.3 301.6 329.9 302.9 328.1 312.3 318.8 313.5 309.6 312.8 325.6 312.5 323.3 313.5 323.1 311.4 295.1" fill="none" stroke="none" marker-start="url(#Dx)" marker-mid="url(#Dx)" marker-end="url(#Dx)"/><path d="M517.4 284.3V342.7M518.3 286.4V342M519.2 287.9V345.2M635.6 297.6V338.6M636.8 291.8V338.8" stroke="#acacac" stroke-width="1.1"/><path d="M415.8 301.9V336.2M477.8 301.6V335.4M505.9 303.6V334.6M516.1 301.2V338M539.5 303.8V338.8M562 301.2V343.7M565 298V337.4M567 292.1V334M606.1 297.6V340.6M637.8 300V331M644.3 304.9V328.7" stroke="#9c9c9c" stroke-width="1.05" stroke-dasharray="5 0.6 2.2 0.8 3.6 0.6"/><path d="M400.4 299.9V337.2M405.3 308.6V328.2M438 296.8V335.3M473.7 308.8V326.1M481.7 305.9V328.4M482.7 306.2V338.7M485.6 298.4V334.4M510 308.6V335.8M535.3 304.3V329.6M542.6 293.4V329.9M571 299.5V330.7M586 299.4V338.3M587 307.1V338.7M607 299.1V337.3M608 296.1V332.4M610 295.4V341.1M634.5 300.4V334.5M646.2 307.1V328.3M647.2 305V334.4" stroke="#a4a4a4" stroke-width="1.05" stroke-dasharray="4 0.6 2.6 0.7 5 0.5"/><path d="M395.4 302.5V329.3M396.4 307.5V333.4M397.4 302.9V331.7M399.4 297.9V332.9M401.4 297.5V329.6M402.3 305.8V339.4M411 302.2V328.7M411.9 300.4V327.2M412.9 301.7V334.5M413.9 300.9V332.2M414.9 301.5V330.9M417.8 298.3V331.2M418.7 304.9V327.2M437 303.9V327.5M439 306.8V335.9M440.1 297V336.3M447.2 298.1V332.4M476.8 309.1V332.5M479.8 304.7V337.3M480.8 306.2V328.9M483.6 299.9V330.6M484.6 299.7V326.2M487.5 305V330M504.9 302.9V334.5M508 301.5V339M512 305.9V327.3M536.4 299.3V337.4M537.4 302.4V326.4M540.5 298.5V330.4M559 297.1V327.9M569 303.2V335M584.1 305V333.7M589.9 302.8V327.6M590.8 299.2V334.1M591.8 307.7V335.2M603.2 303.1V336.7M621.6 296.8V340.8M622.8 296.5V332.9M649.1 295.1V325.2" stroke="#acacac" stroke-width="1.05" stroke-dasharray="4 0.6 2.6 0.7 5 0.5"/><path d="M398.4 295.8V339.9M404.3 294.7V329.7M406.3 301.8V333.3M407.3 303.9V328.6M443.1 300.5V330.4M444.1 306V327.8M445.1 298.5V333.2M448.2 298.7V329.9M474.7 308.8V332.5M475.7 308.1V328.9M478.8 309.6V332.6M506.9 307.8V328M511 299.9V331.2M515.1 301.9V329.4M543.6 293.5V334.9M544.7 291.6V329.5M561 291.5V334.4M563 294.4V338.7M564 301.8V333.5M566 301.9V339.8M568 302V330.2M585 300.1V332.8M588 299.8V337.5M588.9 303.5V339.3M609 297.8V331.4M610.9 294.6V341.2M620.5 299.1V328.3M623.9 299V341.1M635.6 304.3V333.7M645.2 300.9V333.3M648.1 297.2V328.2" stroke="#b4b4b4" stroke-width="1.05" stroke-dasharray="5 0.6 2.2 0.8 3.6 0.6"/><path d="M403.3 307.4V328.7M408.3 299.9V341M416.8 301.4V333.1M441.1 306.4V333M442.1 305.6V330.5M446.2 303.1V330.1M486.6 300.3V327.6M509 306.7V331.7M513 299.8V335.6M514.1 307.2V326M538.4 293.5V338.4M541.6 298.8V327.6M560 292.7V330.1M570 300.3V332.5M604.2 300.4V337.8M605.1 300.8V338.7M636.7 298V338.2" stroke="#bcbcbc" stroke-width="1.05" stroke-dasharray="3.2 0.7 4.4 0.6"/><path d="M397 300.1 396.1 331.8 397.5 324.4 398.2 337.6 398.8 300.9 398.3 310.7 399.8 328.9 399.8 339.6 400.8 295.5 400.9 307.9 401.1 321.4 402.3 310.6 402.4 297.6 402.6 337 404.2 323.9 404.1 313.2 405.3 323.6 405.4 321.6 405.3 308.6 406.1 297.8 406.4 325.5 407.3 322.4 407.8 326.4 406.9 301.6 407.9 340.6 408.7 301.4 397.3 286.8 410.8 323.1 411.6 308.7 413 308.6 413.7 299.5 414.2 322 414.3 313.4 415.6 328.1 416.4 320.5 417.9 313.5 419.1 300.8 438.5 309.3 439 298.6 439.1 321.5 440.2 329.9 441.5 330.8 441.6 333.1 443.3 300.5 443.4 308.1 444.2 328.1 445.7 298.4 444.7 337 445.9 322.8 446.4 330.5 446.7 324 447.2 327.1 448.1 320.1 447.9 312 473.8 310 474.1 324 474.5 327.9 476.2 300.8 477.2 325.6 476.4 306 477.4 302.7 477 348.7 479.7 302 479.8 341.7 479.6 321 481.3 325.1 482.1 324.9 482.9 321.6 483.7 306.1 486.2 306.2 486.9 322.5 488 304.2 505.2 299.9 505.1 326.6 505.8 331.7 506.5 340.9 506.2 299.6 506.4 301.9 507.1 326.1 507.7 298.8 509.5 313.2 509.5 311.1 510 333.3 509.9 308 510.7 312.4 512.5 332.3 512.6 330.2 512.5 327.2 514.5 313.5 514.1 328.3 514.6 322.4 516.7 314 516.4 304.9 517.5 304.6 517.6 308.2 518.6 295 518.7 285.7 518.3 327.9 518.8 288.2 519.3 343.4 519.2 304.6 535.4 308.3 536 330.9 535.8 321.3 537.5 326.7 538.3 305.6 539 292.8 541 302 541.5 326.1 541.9 325.6 542.5 312.9 558.6 322.8 559.7 323.6 561.5 321.7 561.2 312.5 560.6 334.9 562.3 292.4 562.6 307.7 562.7 308.6 562.5 323.8 562.7 342.4 563.7 324.4 563.8 334.3 563.8 304.2 565.2 301.4 565.8 321.5 566.5 338.6 566.5 308.3 567.1 295.5 567.8 343.1 567.6 336.8 567.9 311 568.8 303.5 568.6 296.5 569 325.8 568.9 313.2 570 313.5 571.4 320.8 585.2 328.2 584.5 302.6 586.4 324.1 588.1 308.7 588.1 306.8 587.9 299.1 588.5 342.3 588.6 337.3 589.4 294.1 589.4 295.1 591 336.6 590.6 334.6 591.3 299.6 590.3 288.5 603.4 329.4 602.6 343.2 603.2 302.1 603.6 304.4 604.5 292.5 604.4 303.3 604.7 331.2 605.2 304.6 606.2 339.4 606.4 330 606.9 341.4 606.6 323.7 608.4 323.8 607.5 295 608.9 293.1 608.7 304.2 609.3 341.9 608.6 300.7 609.6 327.7 620.7 323.1 621.8 324.5 622.1 342.2 623 302.5 634.4 325 635.1 337.9 636.2 321.7 636.2 309.1 635.6 313.2 644.6 306.9 644.7 301.4 647.7 295.4 647.9 305.2 648 310.6 649.1 293.7 649.3 325.5" fill="none" stroke="none" marker-start="url(#Lc)" marker-mid="url(#Lc)" marker-end="url(#Lc)"/><path d="M395.1 335.3 395.3 309.8 395.5 322 395.5 312.9 395 293 395.7 307.4 395.9 331.1 397.4 323 397.8 297.3 397.9 294.2 399.5 326.2 399.8 321 400 335.6 401.5 332.5 400.9 331.1 402.8 326 403.3 322.3 403.9 300 403.9 329.3 404.5 302.5 403.8 312.2 405.1 330.7 405.8 327 407.9 306.7 408.3 300.6 408.5 306.9 408 300 408.1 321.3 411.1 307.1 410.6 313.8 411 303.6 411.8 332.2 412.5 307.8 413 327.5 413.9 309.9 414.2 324.7 415 329.8 414.3 302.4 415.5 326.8 415.7 303.9 417 301.2 416.9 336.2 418 321.3 417.5 323.6 418.9 313.4 436.4 329.1 438 324.6 437.7 296.4 438.8 313 438.6 309.1 439.2 302.1 439.5 311.3 439.5 328.4 439.8 313.2 441 329.9 441.4 332.5 442.2 327.4 442.1 312.2 442.4 299.5 442.5 313.6 443.8 309.6 444.2 322.6 445.4 334.7 444.9 321.9 445.6 328.2 448 301.7 447.8 302.7 448.7 309.3 474.1 327.8 473.6 312.7 474.3 323.1 475.7 311.7 475.6 312.1 475.4 301.9 476.6 313.7 476.8 321.1 477.5 308.7 477.8 323.4 478.4 305.4 479 320.9 480.4 334.1 481.7 338.8 481.7 298.7 482.4 334.9 482.7 332 483 326.9 483.8 302.5 484.1 328.8 484.8 302.6 484.5 331.4 485.6 308.7 487.1 311.8 486.4 312.2 486.4 309.5 504.7 330.4 505.1 311.7 505.5 305.2 505.8 334.8 508 322.6 508 322.5 509.5 321.5 510 329.7 509.4 306.8 511 332.1 512.2 305.7 511.4 311.5 513.2 332.2 513.9 324.5 515.5 306.8 515.6 303.3 515.1 332.1 517.2 331.4 517.7 300.2 518.4 337.2 517.9 309 518.7 293 519.4 337.2 519 311.1 535.4 324.7 535.4 334 536.3 323.4 537.8 306.8 537.4 324.4 538.1 321.7 538 340.3 539.4 323.6 538.9 333.1 539.2 326.2 538.9 312.5 540.1 309 540.2 309.6 541 302.7 541.4 325.8 542.9 301.9 544.1 324.7 543.3 295 544 322.4 544.9 305.9 544.9 327.5 544.7 311.8 544.3 323.8 536.5 349.9 558.5 312.3 559.5 322 559.4 326.3 560 325.7 559.7 289.9 559.5 301.9 561.1 292.9 561.6 321.8 561.7 312.9 561.7 331.8 561.5 334.5 561.4 293.7 562.5 312.9 562 308.9 561.9 298 563.5 300.9 563 311.7 563.1 309.9 563.1 336.1 564.2 324.8 563.8 339.5 564.7 330.1 564.9 307.8 564.7 287.2 564.5 290.5 566.5 321.6 567.6 303.2 566.6 335.5 568 333.5 568.5 309.9 568.6 309.8 570.5 333.8 571.2 302.9 570.7 306.3 570.9 320.9 584.1 329.6 584.7 292.9 584.8 343.5 585.4 298.9 586.9 306.1 587.4 303.6 588.4 311.3 592.4 307.3 602.8 323.8 603.3 328.3 603.6 300.9 605.6 336.7 605.7 329.8 607.6 304 607.4 326 609.4 326.8 609.4 310 620.7 296.9 620.4 313.4 620.2 306.2 620.8 334.1 620.8 323.6 622.2 304.1 621.3 308.5 622.2 306.1 621.2 324 621.4 343.2 623.1 301.8 623.7 339.9 624.2 340.8 624.1 292.9 623.8 326.6 634.2 311.2 635.3 313.7 635.3 300.7 637.8 301.5 635.8 337.1 635.1 333 636.1 293 637.2 329.6 636.9 323.2 636.9 312.8 637.2 300 636.8 294.2 644.6 330.7 644.8 322.2 646 322.7 646.6 313.2 646.1 326.2 647.7 323.8 647.4 313.1 647.9 313.4 649.7 300.5 648.6 310.8" fill="none" stroke="none" marker-start="url(#Ld)" marker-mid="url(#Ld)" marker-end="url(#Ld)"/><path d="M395 329.8 395.8 300.5 396.1 312.7 396.9 329.1 396 333.1 396.9 331.4 398.9 296 398.6 310.6 398.8 321.3 398.6 293.6 399 293.3 399.2 323.4 399.6 332.4 399.8 309.9 400.9 330.2 400.8 339.5 400.9 339.2 401.8 340.6 401 326.2 402.3 321.8 402.3 331.5 403.9 333.7 403.6 329.8 404.2 337.7 403.9 337.1 407.6 321.2 407.8 296.5 408.6 322.9 408 324.6 406.4 346.2 411.5 313.7 410.7 330.9 412.4 325.1 413.4 325.7 412.9 331.7 413.3 312.5 413.8 331 414.4 323.4 414.4 311.6 414.8 310.8 415.2 322.7 416.7 307.8 417.6 297.5 418.4 313 437 297.7 437.6 332.8 437.2 303.5 436.4 293.8 438 322.2 438.2 310.5 437.8 296.5 439 296.1 439.3 324.3 441.7 324.9 443.3 301.5 442.7 313.3 444.5 302.7 444.6 305.5 444.7 339.2 445.6 304.1 446.1 305.5 446.7 313 446.3 300.5 447.3 295.1 447.4 310.9 447 325.2 448.6 298.4 446.5 343 473.4 329.9 474.6 305.2 475.3 335.3 475 302.8 476.2 337.6 476.2 305.1 477.1 302 477.5 321.5 478.3 306.6 478.6 307.3 477.9 344.4 480 314.1 479.6 307.7 479.6 339.8 482.2 333.9 481.2 300.1 482.3 334.6 483.3 295.4 484 308.5 483.2 302.2 485 322.5 484.6 311 486.1 321.5 485.6 331.3 485.9 299 486.9 297.1 486.2 295 486.1 293.4 487.7 322.2 488.1 312 505.2 322.3 505.3 338 505.7 337.2 506.6 330.2 507.1 335.3 506.7 306.1 508 329.1 507.5 324.6 508.6 329.2 508.6 322.2 509.3 310.8 509.6 304.1 510.7 329.7 511.9 326.7 512.1 322.7 512.8 337.3 514 321.5 514.6 331 515.3 305.3 516.6 299.8 511.9 341.5 517.3 309.3 517.6 338.1 516.9 290.9 518.5 334 518 336.6 518 291.2 519.5 324.4 518.9 323.1 518.8 287.7 517.8 282.1 535.3 333.2 536 312.4 536.6 329.4 537.5 310.9 536.9 324.3 537.3 322.3 538.8 292 539 323.4 539.1 338.4 539.3 293.9 540.6 329.9 540.9 309.5 540.5 335.1 542 322.5 542.1 332.1 543.3 297.9 543.2 335 544.6 309 545 341.1 543.5 349.4 558.5 330.5 559.4 297 560 337.1 560.3 301.9 560.9 306.4 561.4 326.2 561.1 339 561 312.5 563.3 321.8 564.2 326.5 564.5 297.4 565.8 308.2 565.8 323 566.3 328.7 567.4 289 567.3 304.4 567.1 321.3 568.2 324.3 570.2 322.5 571.4 287.6 571.2 301.5 570.9 334.6 583.6 321.9 584.6 324.6 584.5 323.3 584.5 329.2 585.3 311.8 586.1 339.8 585.9 333.1 585.6 310.3 586.8 332.8 586.6 340.6 587.6 329.9 588 304.6 588.3 312.3 590 322.7 590.2 320.8 589.6 312.9 590.1 293.9 590.6 295.7 591.8 324.1 592.3 304.8 592 301.2 591.9 332.2 603.1 307.7 603.7 291.8 605.6 298.5 607.1 341.5 608.6 340.4 609.5 339.6 609.6 301.5 608.7 292.7 609.9 337.4 609.4 330.3 610.1 298.7 610.5 298.8 610.8 326 610.7 325.8 611.1 289.4 620.6 326.2 622.2 339 622.5 312.1 622.5 301.4 622.8 323.2 622.9 332.1 623.6 328.1 624 302.6 624.3 295.1 635 303.2 634.4 323.4 636.3 305.1 636.7 335.6 638.1 300.3 637.9 329.3 637.8 300.9 637.2 305.2 635.7 305.7 635.5 332.1 636.6 328.9 637 330.7 637.3 321.1 636.3 288.7 644.8 310 644.7 300.6 644.7 321.8 646.6 312.3 646.3 296.6 645.7 312.8 647.7 301.9 646.9 294.3 646.8 299.6 648.1 321.4 649.2 329.9" fill="none" stroke="none" marker-start="url(#Lp)" marker-mid="url(#Lp)" marker-end="url(#Lp)"/><path d="M395.2 297.9 395.5 340 395.2 328.6 395.9 309.4 396.3 296.2 397.6 332.5 397.4 310.9 397.3 306.2 396.9 306.9 399.8 331.3 400.5 310.3 401.9 329.1 402.7 329 402.2 311.7 403 311.8 403.4 323.8 403.6 322.2 402.8 301.3 403.8 313.3 404.5 325.6 404.1 323.2 405.3 334.7 405.2 337.6 406.4 341.5 406.4 301.5 406.2 312.7 405.9 312.2 407.3 312.6 408 306.1 408 297.1 407.8 333 410.5 321.5 410.8 312.8 412 309.9 411.9 327.2 414.4 321.9 415.3 329.2 414.6 307.6 414.3 326.9 416.3 301.5 415.9 329.5 417.3 320.7 416.7 298.8 416.7 322.6 417.5 323.8 418.1 303.1 418.1 312.7 418.2 322 436.6 299.7 438.1 330.4 437.5 332.2 438.2 306.2 439.2 324.1 438.8 310.3 439.1 328.1 439.5 308.1 440 298.8 440.1 335.8 440.4 330.7 440.1 310.6 441.4 326.1 440.7 300 441.4 300.8 442.1 322.2 441.6 309.2 443.3 311.3 443.7 311.4 442.6 323.6 444.7 309.6 446.8 332.2 447.1 311.8 474.8 307 476.1 310.1 476.7 334.4 477 301.2 477.6 335.5 477.3 304.3 479.1 326.6 479.3 301.2 481 324.8 480.7 322 480.7 310.1 481.8 312.2 483.7 305.8 483.2 303.4 484.2 296.9 483.7 311.6 484.7 312.9 485.3 296 486 312.7 486.8 310.8 487 325.2 487.9 299.1 488 335.2 487.3 310.6 487.3 329.1 505.4 301.7 507.2 321.5 507.5 337.7 508.7 311.7 508.7 321.3 508.5 303.4 511.3 305.6 510.9 313.7 511.9 297.2 513.5 303 513.4 307.7 513.7 334.8 515.2 301.1 516.5 311.1 515.5 340.4 518 309.5 518.2 289.8 518.3 343.8 519.6 297.9 519.4 329.2 518.7 303.8 535.4 310.2 535.3 306.6 536.1 329.5 535.8 312.7 537.8 335.8 538.5 306.5 538.1 293.8 538 334.9 538.8 302.5 538.2 303.8 539.8 326.4 539 324.7 540.4 326.9 540.3 323.5 542 332.4 541.2 307.2 542.6 321.1 542.7 329.3 542.8 335.8 543.1 331.4 542.9 290.5 542.1 330 543.5 336.2 543.7 335.7 544.4 338.8 545.2 324.1 545 294.9 544.7 310.6 558.8 335.7 559.6 321.4 560 321.3 560.1 341.4 560.5 286.5 560.2 290.7 562.5 333.5 563.3 299.5 562.6 331.4 563.4 294.2 564.2 306.4 564 283.7 564.4 290.1 565.2 308.9 565.1 335.2 565 291.7 566.1 302.8 565.8 329.5 566.9 301.2 569.1 307.8 570.6 323.7 570.5 332.7 570.1 297.8 570.4 310.7 570.7 334.2 571.2 335.8 570.9 312.2 570.8 332.6 565.1 349 570.3 348.2 583.7 299.1 583.8 297.8 585.4 308.1 584.8 327.9 585.9 309.5 585.7 307.1 585.6 295.4 585.9 300.8 587 322.6 586.8 314.1 588.1 329 589.5 324.4 589.1 324.7 588.9 328.2 588.4 328.2 589.2 305.6 591.3 297.2 592 331.3 592.1 330.1 603.7 306.5 602.7 310.8 603.8 321.4 604.3 342.5 604.2 301.6 605.2 323.7 605.5 333.7 605.1 329.5 605.6 307.3 605.9 344.1 606.5 313 605.6 334.2 605.6 325.8 608 331.4 608.8 295 610.4 325.3 609.4 332.5 609.6 330.5 610.7 325.4 610.6 299.8 610.3 294 611.4 295 608.2 286.9 620.4 296.2 621 321.1 620.5 331.7 623.1 307.8 622.5 308.2 623 301.1 624 305.5 635 309.8 633.9 313.9 635.4 310.6 636.7 337.7 637.3 321.2 637.5 285.2 635.3 328.5 635.6 322.1 644.3 331.5 645.3 328.8 646.5 310.4 648.4 332 648.4 329.9 648 307.2 647.8 328.4 648.6 319.8" fill="none" stroke="none" marker-start="url(#Lt)" marker-mid="url(#Lt)" marker-end="url(#Lt)"/><path d="M396.2 333.7 397.2 304.7 396.9 339.4 397.8 326.5 400 321.3 398.8 309.7 399.9 303.7 401.6 311.5 400.8 332 402 297.9 402.2 300.5 403.9 304.8 404.4 326.6 405.5 308 406.9 313.5 406.4 333.2 405.9 305.9 407.1 299.7 406.8 335 407.1 300.2 408.2 342.5 411.1 307.2 411.8 327.5 411.9 328.2 412.4 333.3 412.7 301.1 414 322 415.3 306.4 415.9 333.2 416 302.7 417.7 306.6 417.7 298.9 418.1 302 418.4 295.9 419.1 326.4 437.5 323.3 437.1 294.5 438.2 305.6 440.4 308.7 442.5 328.4 443.1 313.5 443.8 310.4 444.6 311.2 445.7 313.4 445.7 313 446 320.2 447.1 297.5 447.6 310.1 447 326.7 448.4 313.9 439.8 342.1 474.1 309.4 474.1 320.3 473.7 309 475.2 299.5 475.2 313.9 475.5 325.8 476 301.4 476.8 324.8 478.7 335.1 479 323.3 479 308.5 479.9 313.6 479.4 332.8 479.3 322.1 480 339.7 480.7 326.8 481.3 308 480.2 323.4 481.7 309 481.8 323 482.2 340.2 481.4 325.9 482.5 306.7 483.3 328.5 484 301.1 484.3 305 486.2 311.2 485.9 301.9 487.5 299.9 505.3 323.4 505.9 325.3 506.5 312 507 313 507.3 335.4 507.1 332.8 507.8 328.2 508.1 310.7 508 321.9 510.3 302.3 511 304.1 511.2 314.2 510.7 313.2 511.9 299.1 512.4 329 512.6 324.7 514.6 309.1 514.1 305 516.7 313 516 299.3 516.2 307.2 517.8 323.2 517.3 341.7 517.2 342.2 517.9 337.5 518.7 306.3 518.9 339.9 518.2 299.4 518 345.1 518.9 322.3 518.8 348 535.5 324 535.4 323.1 535.2 328.6 535.9 305.6 536.9 303 536.4 342.2 535.8 307.9 536.9 292.4 537.4 328.5 538.6 295.4 539 303.2 539.7 325.7 540.6 314.1 541.9 330.6 542.7 329.7 543.2 325.5 543.7 339.4 543.8 337.3 544.2 307.7 543.7 304.7 544.2 331.6 545.1 303.7 559.3 322.6 560.1 339.6 559.6 301.8 561.4 308.7 561.1 323.7 562.4 331.4 561.7 306.1 563.5 329.6 563.6 322.2 563.7 311.6 564.1 296 564.5 326.4 564.7 291.9 566.5 328 565.9 337.2 566.8 325.3 567.3 323.7 568.3 325.2 568.4 321.7 568.6 297.3 568.5 327.4 569.5 332.4 568.8 328.8 569.2 290.9 569.5 321.4 570.3 328.3 570.3 308.8 570.8 325.1 571.5 287.4 583.5 323.2 583.6 320.4 583.6 295.6 583.9 305.3 584.6 330.8 585 341.9 586.1 328.3 585.6 309.9 586.6 299.4 586.7 324.7 586.6 307.9 586.8 307.2 587.6 324.5 588.4 306.6 588.6 333.7 589.2 308.2 589.8 321 590.4 330.9 589.7 292.7 589.7 293.9 590.6 295.1 590.6 304.3 590.4 335.7 591.4 313.7 592.3 301.1 603.5 297.2 603.5 291.2 602.7 306.4 604.3 297.4 603.9 337.9 604.6 328 603.9 340.1 606.6 326 606.2 326.4 605.7 327.3 606.6 323.1 606.6 299.1 606.5 337.2 606.7 329.9 607.6 331.9 608.4 332.1 608.3 308.3 609 345.1 609.4 325.2 610.5 327.2 611.3 290.4 610.6 289.5 611.1 300.5 611.3 302.8 620.3 332 622.7 310.5 623.6 328.8 623.8 296.1 623.9 304 621.2 285.5 634.7 335.4 635.6 312.6 636 313 635.5 307 636.9 311.5 636.7 334.5 636.7 309.7 636.8 327 637.2 294.1 635.6 303.7 635.2 312 637.3 321 636.7 306.2 636.9 321.4 637.2 320.7 644.8 297.5 643.9 304.6 644.9 302.8 645.3 320 646.2 326.8 647.4 299.3 646.8 298.6 647.2 334.6 648.6 308.3 649.1 321.3 649.7 313.1 646.6 339.1" fill="none" stroke="none" marker-start="url(#Lv)" marker-mid="url(#Lv)" marker-end="url(#Lv)"/><path d="M396 332.9 395.1 327 396.1 321.7 397.2 326.1 398.5 307.2 398.2 299.5 399.8 328.2 399.2 308.9 400.6 321.4 400 329.7 401 339.1 401.4 338.4 401.1 327 404.2 313.4 405.2 307.1 405.5 323.7 405 331.1 406.1 321.2 406.4 330.7 407.5 306.1 406.6 289.5 410.8 309.3 412.4 333.9 413.1 326.7 413.3 302.6 412.5 334.4 414.1 311.7 414.9 304.8 415.4 322.6 415.9 321.7 416.8 323.6 417.2 322.4 416.4 326.8 417.1 325.4 418.1 299.7 418.2 299.8 419.2 303 418.2 313.4 412.7 288.2 412.2 348.3 437.3 332.4 436.8 330.8 438.6 309.9 440.2 309.5 439.9 325.2 440.6 306.1 441 299.9 441.5 309.8 442.5 300.7 442.6 329.3 443.9 304.2 444.7 299.6 445.7 324.8 445.6 325.3 446.1 326.4 447.6 311.1 448.1 313.3 448 300.1 473.3 320.8 474.8 337.5 474.8 327.4 476.2 324.3 476 334.4 476.9 331.7 478.3 333.6 477.5 321.9 479.2 323.8 478.6 320.1 481.1 321.3 480.8 321.2 480.6 304.7 482.4 310.5 483.1 309.6 482.4 335.6 484 311.4 483.5 320.8 485.1 320.9 485.1 299.5 485.2 322.3 486.9 323.5 486.1 308.9 487.3 307.3 487.4 320.7 479.9 341.8 505.3 334.9 504.8 326.3 505.4 294 506.3 327.5 505.6 322.1 506.5 305.2 507.1 336.8 508 312.1 508.1 312 508.5 296.4 508.8 309 508.5 297 510.3 308.5 509.4 329.2 511 302 512.2 308.7 511.9 310.3 513.4 305.4 513.3 308.6 512.5 312 514 312.7 513.8 331 515.7 327.4 516.2 334.5 516.3 322.3 513.8 290.2 507.4 341.4 517.9 305.2 517.2 298.5 517.9 295.5 518 323.2 518.9 331.4 519.7 310.8 534.9 332.3 534.9 304.4 535.7 338.9 536.5 300 536.9 325.9 538 313 537.9 310.3 538.4 294.1 540 297.8 539.9 333.6 540 297.3 540.8 321.4 542 332.5 541.6 304.3 541.2 320.8 543 333.2 543.3 321.5 544.5 295.3 544 347 559.2 304.9 558.8 306.4 559.6 312.2 561.2 323.7 561.5 330.2 560.9 293.9 561 343.2 562.4 311.3 562.5 293 562.9 342.2 563.1 345.6 563.3 290.7 563.6 322.3 564.4 310.6 565.3 327.3 566.6 295.2 566.6 326.5 567.4 322.7 567.6 324.3 567.2 323 567.9 303.3 567.7 304.9 567.6 306.2 567.6 312.5 568.2 287.7 569.6 330.2 568.5 296 570 340 569.4 339.1 584.1 324.3 584.5 294.8 585.7 312.4 587.1 310.5 586.4 334.5 587.7 339.3 588.5 311 588.4 304.6 588.4 292.3 589.1 300.7 590 327.7 590.6 337.7 590.7 323.8 591.3 313.2 603.6 303.8 602.9 295.5 604.1 305.4 604.6 328.9 605.6 296.5 605.7 322.6 606.7 313.5 606.7 308.1 606.8 322.2 606.8 333.7 607.6 335.8 607.6 298.5 608 313.4 608.4 292.4 608.3 330.8 608 325.7 609.1 301.5 609.4 312.6 609 332.7 610.1 304.1 609.8 326.6 610.4 301.5 610.4 334.7 611.1 302.3 611.4 292.9 621.2 323.8 621.4 309.9 621.9 301.6 621.3 338.6 622.7 313 623.7 333.2 624.2 300.7 634.1 312.1 636.3 297.7 637.2 309.4 638 330.1 635.8 293.2 635.7 323.4 644.5 302.2 644.1 298.9 645 321.2 644.9 298.9 645.1 313.1 645.7 296.1 646.6 303.3 646.6 333.2 647.7 307 648.9 305.3 648.5 300.6 648.3 350.1" fill="none" stroke="none" marker-start="url(#Lx)" marker-mid="url(#Lx)" marker-end="url(#Lx)"/><path d="M421.9 292.4V342.1M422.9 291.2V339.6M467.7 285.3V344.1M468.6 288.5V347.3M498 290.8V339M499 294V341.7M531 295.9V338.4M532 292.2V339.2M549.5 289.4V343.8M550.5 288.9V347.8M626 298.8V336.9M627 300V335.4M630.5 300.3V340.5M631.7 299.5V339.6M641.3 299.7V337M642.5 294.5V333.8" stroke="#444444" stroke-width="1.1"/><path d="M371.4 306.8V327.8M376.4 299.8V332.4M377.4 293.1V327.3M384.1 291.5V331.9M394.4 299.2V326.9M433 301.4V333.2M453.7 308V330.3M455.8 309.5V326.2M527.1 303.8V332.1M532.2 299V339M546.8 293.8V333.6M555.4 305.3V334.1M577.1 310.5V334.2M578.2 304.8V327.8M612.5 306.1V328.5M614.6 303.2V329.1" stroke="#343434" stroke-width="1.05" stroke-dasharray="2.4 0.7 3.6 0.5 1.6 0.8"/><path d="M370.4 305V337.6M373.4 301.3V329.4M378.4 305.8V337.8M379.4 303.7V331.5M386.2 294.8V330.3M391.3 302.2V329.6M431 302.8V332.2M436 302.2V328.6M459.8 308.8V334.6M461.8 308V326.2M462.9 305.2V332.5M468.8 301.7V338M489.5 305.2V327.5M491.6 298.4V327.5M501.8 302.6V327.2M502.9 306.9V328.5M521.3 312.1V325.7M531.2 298.6V329.7M547.8 297V331M581.3 306.8V331.2M624.9 305.7V335.7" stroke="#3c3c3c" stroke-width="1.05" stroke-dasharray="4.2 0.7 2 0.6"/><path d="M380.4 303.1V326.5M388.2 297.9V331.5M390.3 298.2V330.7M420.8 303.4V335.6M421.8 303.2V328.9M425.9 307.3V328.4M426.9 304.1V335.6M427.9 306.9V327.8M434 302.7V329.7M452.7 311.8V332M454.7 304.8V331.5M456.8 300.6V332.5M460.8 304.1V332.1M464.9 306.3V328.4M466.9 303.4V335.8M495.7 300.2V334M503.9 305.9V332.9M523.1 308.5V323M524 296.5V332.7M530.2 298.7V330.2M533.3 299.4V329.5M534.3 303.7V329.5M545.7 297V332M579.2 307.9V329.1M601.3 300V326.5M615.6 297.5V337.7M617.7 300.2V340.1M640.5 303.5V331.3" stroke="#444444" stroke-width="1.05" stroke-dasharray="2.8 0.5 1.5 0.7 3.3 0.8"/><path d="M369.4 308.2V329.3M374.4 294.6V329.2M387.2 302.6V330M393.4 299.6V332.6M424.9 306.2V332.5M428.9 302.7V331.5M470.8 306.6V333.5M488.5 302V331.5M497.7 309.3V336.5M499.8 305.6V334.2M500.8 302.6V334.3M520.4 309.5V323.7M526.1 303.7V334.3M528.1 296.9V338.5M549.9 299.9V337.7M550.9 295.6V339.3M553 295.3V338.2M556.3 303.5V332.7M557.2 304.2V330.6M576.1 308.9V327.6M596 303.5V331.9M598.1 293.1V331.2M616.6 293.5V335.1M618.7 300.7V330.8M627.7 306.3V330.3M629.7 301.3V336.2" stroke="#4c4c4c" stroke-width="1.05" stroke-dasharray="4.2 0.7 2 0.6"/><path d="M372.4 301.4V327.5M381.4 297.2V327.6M389.2 293.4V329.4M392.3 300.1V332.1M429.9 305.6V333.1M435 304.3V335.8M463.9 302.7V330.7M465.9 304.1V337.8M467.8 303.5V337.1M471.7 309.3V330.9M472.7 299.7V336.6M490.6 301V330.1M492.6 297.5V331.4M493.6 303.5V325.6M494.7 300.7V332.1M496.7 304.9V329.2M522.2 309.7V325.9M525 297.8V327.1M529.1 302.9V328.7M552 287.6V334.2M554 299.1V341.1M558.1 302.7V336.6M572 308.6V331.6M580.2 309V326.3M597.1 301.7V327.9M600.2 303.3V324.6M642.4 302.5V328.3" stroke="#545454" stroke-width="1.05" stroke-dasharray="4.2 0.7 2 0.6"/><path d="M375.4 300.3V336.2M385.1 301.3V329.9M432 306.6V334.3M457.8 304.8V331.4M458.8 309V333.2M469.8 304.4V331.3M498.8 309V329.4M548.8 298.4V335.6M555.1 296.7V343M599.2 305.8V327.5M613.5 299.3V340" stroke="#5c5c5c" stroke-width="1.05" stroke-dasharray="2.8 0.5 1.5 0.7 3.3 0.8"/><path d="M369.8 327.8 370.9 328.7 370.8 329.4 372.1 312.2 373.1 320.5 374.3 323.1 375.4 303.8 374.9 310.2 376.5 335.4 376.4 321 377.9 310.1 378.5 299 380 304.9 381.4 323.7 381.5 307.2 381.7 329 383.8 320.5 384.2 310.2 385.3 297.3 385 322.9 386.6 311.2 386.2 320.6 387 322.3 387.1 310.1 387.5 331.1 388.1 313.6 387.9 322.6 387.7 301.1 389.7 321.8 389.4 292.5 389.7 311.3 390.2 295.2 390.1 324.5 391.3 312.6 392.4 295.5 392.6 328.7 392.1 308.1 392.8 306.7 392.8 325.1 393.6 331.6 394.7 328.8 394.2 320.4 386.7 345.9 387.4 338.6 388.5 288.7 420.3 297.8 420.5 334.5 421.6 329.5 423.9 331.8 424.5 310.9 424 328.8 424.1 286.6 421.5 332.2 421.6 298 422.4 311.1 422.4 301.7 422.8 328.8 425.3 310.5 429.4 321.7 428.7 330.8 428.4 310.4 429.2 313.7 429.4 304 429.6 308 430.3 333.3 430.8 332.3 431.5 335.5 432.2 310.3 433 326.5 433.7 308 435.5 312.2 435 311.7 435.4 305.8 452.3 333.7 453 321.2 454.9 325.7 455 306.2 455.6 315.1 455.5 326.7 456.3 303 455.7 331.7 456.4 308.9 458.1 312 458.9 327.1 458.2 322.8 460.1 314.3 459.7 335.5 461.3 331 460.3 314.3 462.2 330.4 461.5 324.8 461.5 330.8 463.9 308.6 463.8 334 465.4 329.6 465.1 311.8 465.1 309.1 465.3 310.1 459.8 298.8 465.7 333.3 466.1 325.7 467.4 334.6 468.3 325 467.5 302.5 468.6 326.1 469.3 313.2 469.8 298.5 469.4 296.9 470.7 336.6 471.8 328.6 472.5 300 467.9 301.6 467.6 346.6 467.3 325.7 468 289.3 467.9 284.2 467.6 311.6 467.5 341.8 469 300.9 469 306 468.4 346.9 468.3 308.5 488.2 331.3 488.5 308.4 489.5 322.4 490.9 295.6 490.3 332.3 490.4 328.9 491.6 334 492.2 296.2 493.9 333.2 493.9 299.6 494 320.2 495.9 329.9 495.2 324.1 496.7 330.4 496.7 334.7 497.6 314.2 497.1 323.1 499.4 304.4 500.2 299.1 501.6 323.1 501.9 300.9 502.4 313.4 502.4 324.6 502.3 306.3 504.1 334.8 503.4 325.8 503.9 327.4 504.2 327.5 504.4 307.3 503.6 297.5 497.5 296.3 498.5 323.6 498.4 340.1 497.7 325.3 499.2 330.2 499 323.5 499.6 337.5 520.5 314.2 521.7 319.1 521.6 312.4 522.4 325.9 523.5 322.6 522.8 319.1 523.5 336.6 525.3 321.4 524.6 310.8 525.3 300.8 526 333.2 526.2 299.8 525.8 330.7 526.8 297.2 527.8 298.7 527.9 322.9 528.6 289.1 529.3 335.4 529.8 303.2 531.7 323.5 531.6 324.7 531.3 295.4 534.8 295.1 533.7 320.2 530.6 301.2 530.5 324.7 531.4 290.8 532.2 337.5 545.4 290.7 546.2 310.9 547.5 324.1 548.4 295.9 548.2 305.1 547.3 326.9 548.6 303.7 549.4 330 548.8 344.6 550.4 332.8 549.3 295.1 549.4 306.3 549.5 348.2 549.5 344.6 551 323 551.6 302 551.5 298 551.5 339.2 553.1 302.3 552.7 321.2 553.1 302 554.6 326 554.9 325 549.3 337.2 549.1 308.5 549.3 302 549.7 331.2 550.4 325.9 550.1 336.3 555.7 311.4 555.8 321.5 555.8 302.6 556.8 333.6 558.4 323.8 558.3 312.9 557.6 305.5 571.6 321.9 572.3 333.7 574.4 325.4 573.5 314 575.5 311.5 576 331.4 576.8 303.9 576.6 305.3 577.6 308.8 578.7 329 579.3 321.4 580.8 308.5 580.3 332.2 595.8 325.3 595.6 311.3 595.9 336.3 596.6 337.7 597.2 331.4 597.4 327.7 598 297.1 598.3 310.9 598.7 328.3 600.8 320.6 612 321.3 613.4 341.3 613 328.2 614.4 303.5 615 298.8 616.3 329.9 617.4 333 618.2 326.2 618.9 340.3 618.9 301.7 625.9 309.4 626.7 311.9 626.7 330.2 629.2 322.3 628.1 321.8 630.1 300.1 629.5 310.6 630.1 326.5 630.3 323.5 631.3 326.7 633 304.7 632.2 302 626.2 304.8 626.6 312.4 626.8 312.1 626.9 335.4 627.3 325.9 627 340.3 630.7 306.2 641.1 328.6 641 312.8 641 303.6 641.5 320.2 641.5 328.7 643 302.7 643 324.5 641.4 309" fill="none" stroke="none" marker-start="url(#Dc)" marker-mid="url(#Dc)" marker-end="url(#Dc)"/><path d="M369.3 322.1 369.9 325.7 371.8 335.6 371.7 323.1 372.9 313 373 322.1 374.4 298 374.5 312.8 375.1 306.4 375.4 307.4 375.7 325.7 376.5 327.7 375.9 332.8 376.9 324 377.7 298.9 378.4 332.5 378.7 321.3 378.1 336.3 378 313.2 379.3 333.6 379.8 293.7 380.2 311.8 380.8 310.4 381 331.5 381.1 330 381 313.9 380.2 283.4 385.1 310.9 384.8 298 384.8 309.7 386.7 293.7 386.6 294.1 387.7 299.5 387.7 321.2 388.2 302.7 389.2 326.4 390.7 306.5 392 294.9 393.5 333.6 393.6 328.4 393.6 325.8 392.8 303.5 393.7 300.5 394.1 297.9 394.1 326.9 394.3 313.9 421.3 313.9 422.2 302.3 422.4 311.9 423.8 301.7 421.4 307.2 421.8 325.6 422.9 321.9 425.3 334.2 424.4 335.6 426.4 305.1 425.4 312.5 427.9 320.8 429.1 301.3 428.6 306.8 428.4 334.6 428.7 306.7 430.1 312.8 430 327 430.7 311.7 431.5 320.5 431.1 303.1 431.8 328.3 433.3 320.2 432.5 307.1 432.6 300.3 434.5 305.7 433.9 313 433.6 330.5 434.3 321.9 435.6 338.4 434.9 335.1 435.6 304.2 435.5 339.4 452.4 311.9 453.2 311.5 453.9 332 453.7 307.8 453.7 323.3 454.3 310.2 455.2 324.6 456.7 326.1 457.7 309.3 459.2 307.5 459.8 322.5 460.9 320.4 461.3 322.4 462.8 332.3 462.8 320.7 464.2 322.9 463.6 334.1 464.1 308.3 464.4 304 465.7 339.9 465.6 336.5 466.2 340.7 467.2 329.2 467 323.6 467.3 303.8 468 296.4 467.6 310.6 469.2 306.3 469.1 329.9 469 331.8 468.3 293.8 469.5 325.9 469.4 313 469.8 296.6 471 322.4 470.7 338.5 471.2 333.7 471.4 330.6 473 313.6 473.1 328.1 472.7 321.2 467.4 332.2 467.3 307.2 468.2 285.1 468.4 329.6 488.5 331.1 488.5 296.8 488.6 313.1 489.5 320.9 489.1 322.4 492 327 491.9 321.7 492.4 305.2 492.9 328.5 492.8 311 494.1 303.4 494.2 311.9 495.4 312.2 496.3 314.2 495.3 335.4 496.2 312.1 495.6 314.2 495.2 320.5 496.3 325.2 497.1 305.9 498 310.9 498.9 326.3 498.9 306.8 498.3 330.8 499.9 334.2 500.3 314.6 500.9 309 501.6 312.6 502.2 336.5 501.6 300.6 503.2 338.3 503.3 328.7 498.5 302.6 497.4 289.5 497.9 292.1 499.2 311.2 498.8 321.7 520.4 313.6 520.6 326.1 520.8 319.9 520.9 312.7 524.2 298.6 524.1 324.8 524.7 320.9 525.5 292 527.2 308.8 526.6 308.2 527.8 299.6 528.1 297 529.6 329.9 529.8 319.9 531.3 288.6 530.9 310.9 531.9 307.4 531.7 291 532.8 329.9 533.6 324.1 533.3 336 532.8 309.9 533 301.7 533.8 305.1 531.3 335.2 531.1 288.8 530.7 309.9 531.5 333.4 531 290.6 532.5 336.2 546.4 325.8 546.7 340.6 546.4 338 547.3 331.3 547.4 308.8 549.2 323.6 549.6 310.9 550 325 551.3 338.3 552.5 335.9 552.5 322.8 552 295.8 551.7 337.6 552.3 334.5 553.1 308.4 553.5 325.2 553.8 339.4 553.7 311.9 554.6 312.6 549.4 323.8 549.5 289.2 550 332.2 551 312.5 550.4 345.6 555.9 322.1 555.9 325.3 557.2 299 557.4 306.6 571.5 321.2 573 320.4 574.6 314.5 574 324.2 575.6 327.5 576 310.7 578.5 330.9 577.6 320.4 579.5 333.2 579.9 320.3 579.9 327.9 580.6 311.9 582 306.8 582.9 322.2 596.7 300.1 598.6 296.9 600.7 309.1 601 329.7 601.5 308.3 596.5 286.7 612.4 312.9 613 333.1 613.5 336.2 613.3 322.6 614 325.9 614.7 301.7 615.4 303.5 615.7 312.2 615.7 329.3 615.2 300.8 616 340.2 615.8 289.4 617.1 292.2 616.9 321.5 617.1 302.2 616.9 298.6 617.4 335.1 617.3 306.4 618.2 297.6 624.8 337.9 624.3 315 625.8 330.5 626.4 310.3 627.2 334.1 628.3 326.9 629.2 321.4 629.6 311.4 631.2 328 630.2 321 631.6 309.9 632.7 296.6 633.1 311.3 632.8 292.6 631.3 348.9 625.9 308.5 626.1 309.1 625.5 322 625.7 304.1 627.2 330.9 627.3 301.9 627 334.8 626.6 321.2 626.9 303.6 630 330.2 630.3 341.1 631.4 326.1 631.1 333.4 630.4 347.4 641 304.9 642 311.6 642.3 304.2 641.1 305 641.7 327.3 642.1 338.8 642.4 302.8 642.7 327.5 642.2 289.7" fill="none" stroke="none" marker-start="url(#Dd)" marker-mid="url(#Dd)" marker-end="url(#Dd)"/><path d="M371.2 297.5 371.4 330.5 371.9 332.5 372.6 333.6 372 313.2 373.2 309.9 373.8 311.2 374.8 300.5 374.9 307.6 375 313.7 375.9 335 376 306.7 376.4 325.9 377.3 324.5 377.7 292.3 378.5 324 378.7 298 378.5 326.7 379.2 330.9 379.3 333.8 379.1 322 378.8 310.2 380.2 303.6 380.1 320 380.9 301 380.9 304.4 380.7 320 384.8 306.8 384.6 325.6 384.7 309.9 386.6 332.6 386.7 294.5 386.8 308.9 388.5 324.9 389 309.5 388.7 330.6 388.8 321.5 389.4 329.7 389.3 292.5 390.9 296.1 390.7 300.2 390.8 322.9 389.8 337.2 391.9 330.4 391.4 309.6 390.7 294.3 392.5 311.1 394.6 322.3 394.3 296.7 394.9 328.2 419.5 322.7 420 312.3 421.5 323.2 421.5 331.3 423 326.5 422.9 321.7 422.6 329.3 422.4 324.4 421.4 294.9 422 298.6 422.6 331.5 422.6 324.5 426.4 323.5 426 315.3 427.2 324.1 426.7 320.9 426.6 314 426.7 298.9 427.6 323.7 429.7 305.4 430.4 309.2 430.8 312.4 432.1 322.2 434.5 306.5 435.4 335.3 435.1 330.2 436.5 338.2 435.5 336.7 431.7 297.4 452.8 330.7 455.1 310.4 455.3 332.7 455.5 327.6 456.2 303.6 457.2 299.5 456.8 310.9 458.3 304.3 459 307 458.9 308.7 462.2 310.9 462.3 311.5 463.4 337 465.1 332.1 458.1 348.7 467.2 313.8 466.7 309.3 466.8 300.6 469.2 311 470.2 297.2 469.3 326.5 470.4 312.3 471.3 304.1 470.5 321.1 471.3 305.9 472.1 324.3 473.3 307.1 467.1 347.5 471.4 284.7 468.3 296.1 467.1 294.3 467.5 336.5 467.5 307.4 468.1 337.7 468.4 347.9 469.1 309.5 468.4 302.9 488.6 305.4 490.1 336.9 490.4 326.8 491.5 293.2 491.9 311.8 493 336.6 494.4 335.3 494.3 306 496.5 294.3 498.1 332 497.8 313.3 497.8 312.9 497.3 310 498.6 324.3 498.2 312.4 499.3 304.2 500 313.1 500.8 299.8 500.4 298.5 501.4 298.3 502.9 307.3 488.1 342.1 492.4 342.8 497.6 327.1 498.3 299.5 498.7 301.9 498.8 298.3 520.6 325.7 521.4 327.3 521.5 326.5 522.9 314.8 522.6 315.8 524.6 328.9 524.3 329.5 525.3 311.5 525.4 320.7 524.7 311.5 524.5 320.2 525.6 327.1 525.8 296.3 525.7 307.6 526.9 324.3 526.7 322.5 528.5 328.9 529.6 297.7 528.6 323.6 529.1 298 529.7 328 530.5 301.5 529.6 305.5 529.7 313.7 531.6 296.4 532.6 303.7 532.2 289.7 533.4 313.4 533.6 296.5 534.3 305 534.1 327.1 534.4 310.9 530.8 345.6 531.9 297.5 546.2 325.6 546 321.3 545.9 335.2 545.2 321.7 546.7 332.4 546.5 310.4 547.2 301.6 547.4 291.5 546.4 340.9 546.3 348 547.2 323.4 547.5 306 548.8 299.4 548.5 305.5 549.6 304.3 550.3 312 551.1 335.1 550.7 311 551.1 311.4 551.3 325.7 550.6 335 550.4 292.5 552.2 309.6 552.1 303.9 551.4 296.8 552.7 328.4 552.7 297.8 554 334.9 554.4 326.8 554.5 304.7 555.6 305.7 555 338.2 554.7 304.5 555.1 311.1 550 325.5 549.7 324.6 549.7 305.3 550.1 308.7 550.4 301.8 550.8 306.7 550.2 296.7 550.2 311.8 549.9 329.1 554.9 337.9 556.3 301.7 556.8 329.2 557.4 320.9 558.6 312.8 572 311 572.1 309.1 573.6 306.4 574.3 328.1 576.6 322.1 576 334.8 579.4 309.8 579.5 311.9 579.9 311.6 581.8 305.5 580.8 330.8 582.6 314.1 574.1 294.7 595.6 302.8 595.6 337.5 597 330.1 597.4 323.3 598.2 327.4 597.5 326.9 598.1 323.1 598.6 329.5 599 326.4 600.4 299.7 599.8 307.2 600 320.6 601.5 320.6 600.8 331.8 612.8 323.1 613.1 307.2 613.8 304.6 614.1 311.3 613.5 305.4 615 309.8 615.2 336.2 614.4 312.1 615.8 327.7 615.8 305.6 616.8 297.4 616.6 301.4 616.7 309 617.9 309.7 617.4 299.1 618.3 301.9 619.1 336.7 618.2 342.5 618.7 309.9 624.7 331.4 624.8 303.1 626.2 327.8 626.3 313.1 626.8 311.7 628.1 303.7 628.8 306.8 629.2 310.3 631 305.2 631.4 333.4 632 304.8 632 297.5 625.6 298.4 626 313.1 626.4 306.9 630.2 323.5 640.3 321.3 642.3 303.8 642.8 327.5 641.6 338.1 641.3 300.8 641.5 322 642.3 306.2 642.4 325.4 642.6 331.5 642.7 300.1" fill="none" stroke="none" marker-start="url(#Dp)" marker-mid="url(#Dp)" marker-end="url(#Dp)"/><path d="M369.5 303.5 369.7 306.2 370.5 329.1 370.7 328.9 370.3 325.9 369.8 331.7 370 329.9 371.9 329.7 371.1 320.5 372.1 322.6 373.9 324 373.9 310.9 373.3 328.1 373.5 324.2 374.2 295.2 375 302.6 375.8 324.7 376.8 307.8 376.6 323.5 377 320.7 377.1 325.8 378.4 311.3 379.4 299.1 380.4 311.4 380.4 313.1 376.4 288.2 384.3 293.4 384.2 322.3 384.3 324 384.3 321.3 383.6 327.2 383.5 310.8 384.9 323.4 385.3 328.6 386.2 313.6 386 311.5 386 300.2 386.7 330.4 388.4 308.7 388.8 325.1 388.1 295.4 389.9 309.2 389.9 293.1 391.2 322.7 391.7 321 392.6 326.5 392.5 303.5 391.8 327 392.6 329.3 393 301 394.9 331 419.2 297.7 420 321.8 419.2 322 421.2 322.3 420.6 339.3 421.1 296.2 421.1 309.6 423.8 307.2 421.3 328.5 422.4 290.3 422.4 322.3 423.4 300.5 422.8 284.3 424.3 313.7 424.3 304.7 424.5 312.7 424.9 304.6 424.9 322.2 425.4 327.4 426.3 330.4 427.3 325.4 427.1 331.3 427 335.7 426.5 325.9 428.3 326.1 427.8 324.8 427.9 326.4 430.4 333.1 431.5 321.4 432.1 331.5 432.4 302.7 432.3 313.5 433.2 303.5 433.9 306.7 436.4 301.3 436.2 329.4 436.4 306.4 436.6 327.1 436.1 324.4 452.6 313.6 452.3 335.2 453.3 329.3 454.2 308.5 455.6 306.7 457.2 323.3 457.5 332.6 458.1 330.2 459 304.9 458.6 312.7 458.5 311.6 460.4 314.4 459.7 321.8 461.2 331.8 460.3 309.8 460.7 307.1 461.4 320.6 463.4 310.4 463.3 330.6 463.2 330.9 464 312 464.2 302.9 465.1 322.4 466.1 321.7 465.5 321.9 467.1 298.6 466.7 307 468.3 324.5 467.9 322.8 467.6 333.6 468.4 306.9 470.9 307.6 470.3 327.5 470.8 311.5 472 323.2 472.5 310.3 472.7 323.8 467.8 301.3 468 295.3 468.1 323.8 468.8 342 488.5 320.5 488.4 299.6 489.5 333.9 489.5 326.9 489.6 311.5 489.4 310.1 490.5 335.8 490.6 330 490 335.5 491.6 310.2 491.5 310 492.6 327.3 492.7 298.2 492.6 308.6 493.9 326 493.8 299.1 495.1 336 494.1 308.3 495.1 304.7 495.5 311.7 497.1 321.9 498 322.9 498.2 321.1 497.2 322.1 498.8 299.8 498.3 321 499.7 333.1 500.3 301.3 499.7 329.4 500.5 301.9 501.4 312.5 501.8 330.9 502.3 325.4 502.5 299.9 503.5 302.9 503.5 305.5 490.4 290.3 497.9 297.5 498.8 329.1 498.5 323.7 498.5 336 519.9 307.1 520.8 321.4 522.1 327.9 522.7 325.2 523.5 329.3 524.4 312.8 524.1 304.3 524.6 308.6 526.5 312.1 526.2 303.2 527.7 311.9 529.6 313.5 530.4 312.6 531.4 305.6 530.9 324.4 533 305.6 533.7 300.8 534.2 325.5 527.1 285.4 531 294.2 531.4 327.5 531.5 293.4 532.5 306.6 532.1 324.5 546.2 322.8 545.5 290.1 546.3 321.6 546.7 333.1 547.6 294.9 548 338 547.2 333.6 548.4 310.1 549.1 284.3 548.3 345.3 550.3 291.7 549.7 294.3 549.5 341.7 551.2 337.9 550.9 291.4 550.7 329.3 551.5 327 551.4 312.1 552 336 553.4 327.5 553.1 297.5 554.6 329.9 554.1 309.3 554 331.7 555.2 309.5 555.4 301.4 555 313 555.6 328.5 555.6 350.3 550.9 282.7 549.1 322.8 549.5 306.4 549.6 322.6 549.8 308.5 550.7 351.5 555.2 307.6 555.9 301.5 555.5 308.4 555.9 308 556.3 327.8 557.3 327.2 557.2 320.8 556.7 324.3 557.2 304.5 557.6 306.1 558.6 335.5 558.4 309.7 571.4 306.3 573 314.6 573 309.7 574.9 322.4 575.1 306.6 575.4 330.9 575.6 314.2 575.7 309.5 576.7 329.6 577.6 327.2 577.7 314.1 578.6 327.5 578.5 329.8 577.6 321.5 579 334.5 578.8 323.3 581.3 320.8 581.1 311.4 580.9 333.9 582.4 310.1 581.8 305.1 595.9 301.6 596.3 320.9 598.6 298.9 597.6 301.6 599.2 307 599.1 301.4 600.4 312.7 600.8 327.1 601 323.2 601 307.4 601.1 306.4 612.5 297 612.5 329.2 612.1 322.1 613.8 323.9 613.1 310.5 615.2 313.7 614.2 307.6 614.2 302.4 615 326.4 615.1 290.5 617.1 331.8 617.5 290.3 617.7 323.1 617.5 296.6 619 305.5 618.3 294.9 618.6 290.6 624.4 328.5 624.3 320.6 624.9 309.7 626.3 300.8 626.2 313.5 627.2 312 628.2 311 627.4 303.4 629.1 302.8 628.2 332.7 629.3 323.3 631.6 334.5 632.9 328.9 626.4 341.2 626.8 289.4 630.6 324.4 630.1 326.7 632.2 303.6 631.6 295 639.9 304.9 640.3 313.6 641.1 306.7 642.9 302.2 642.8 310 641.6 321.8 641.1 294.7 642.3 334.3 642.9 325.2 642.7 296.2 642.5 330.8" fill="none" stroke="none" marker-start="url(#Dt)" marker-mid="url(#Dt)" marker-end="url(#Dt)"/><path d="M368.9 321.4 369.8 322.1 368.8 299.8 370.9 307 370.3 334.7 370.4 327.5 370.3 329.2 370 340.2 371.3 333.2 371.8 311.9 371.9 310.9 372.1 323.4 374.5 297.7 374 303.4 374.4 324.3 375.6 332.1 375.5 332 375.9 320.5 376.5 320.5 377 320.3 376.9 300.3 379.1 306.7 379 323.9 379.9 303.2 381.6 311.7 381.7 326 384.5 310.9 383.6 290.5 384.3 311.7 386.7 295.7 386.9 330.6 387.5 308.3 388.5 307.4 388.7 313.1 390.8 298.5 389.9 329.4 390.7 325.9 392.8 312.4 393.5 297.9 394 308.9 422.6 308.6 421.5 299.9 422.6 312.6 423.2 336.7 422.4 311.5 423.4 312.6 424.6 334.3 426.2 320.5 426.5 314.1 425.9 326.1 426.9 326.8 427.8 328 428.2 312.8 429.1 332.2 428.6 312.2 429.9 310.3 430.3 327 430.4 325 432.1 307.2 431.8 329.3 432.5 327.7 431.5 313.7 433.1 320.2 432.9 313 433.5 333.1 432.9 321.5 435.5 333.5 434.6 327.4 436.2 338.8 435.5 336.8 452.9 325.3 452.3 321.1 454.6 336.7 456.3 321.3 457.2 338 457.2 313.6 458.1 312.4 458.2 305 460.2 320.8 459.5 331.4 460.5 314.3 461.3 299.8 462.1 301.1 462.3 302 463.3 313 462.3 311.7 463.7 304 466.3 324.2 466.4 336.8 466.4 323.4 467.1 311.6 467.6 333.9 467.5 313.5 469.1 338.8 468.4 325.6 468.5 336.1 469.2 332.9 470 292.3 470.4 326.7 471.1 311.1 472.1 308.9 471.2 313.7 473 324.9 472.8 327.7 467.2 336.3 468.2 344.4 469.2 330.4 469 293.3 489.1 308 489.3 322.8 490.6 309.4 490.9 324.5 491.2 328.7 491.2 305.1 491.2 306.8 492.8 328.4 492.1 320.4 493.1 322.3 494.1 323.9 494.4 335.7 495.4 298.2 496.2 326.4 497.3 297.8 496.6 330.7 496.6 327.7 497.7 333.5 498.8 303.5 498.7 332.5 499.1 307 498.5 338.1 499.6 328.3 500 303.9 502.2 308.5 501.5 307.1 503.1 321.1 502.4 309.5 502.3 324.8 504.3 313.7 503.3 311.5 497.9 310 497.4 331.8 499.6 301.9 499.3 286.5 522.2 313.1 521.8 321 523.2 311.8 524.9 333 525.5 330.1 525.1 326.3 525.6 298.9 524.8 335.5 525.5 321.3 526.5 323 526 323.4 526.8 300.7 527.5 307.4 526.8 305 528 322 529 312.6 529.4 309.6 528.6 299.7 530.6 329.8 530.3 297.7 530.5 327.6 529.8 326.5 531.4 323.6 531.5 301.4 532.3 339.5 532.5 297.9 532.6 306.6 532.6 323.4 532.6 291.1 532.8 295.6 533.3 328.2 533.6 308.5 534.1 324.1 533.7 321.8 534.3 309.1 534.3 327.1 533.5 283.1 531.5 338.6 530.7 344.8 531.6 335.3 531.7 326.2 546 332.2 545.6 299.8 546.2 303.6 546.4 331.6 546.4 340.9 547.3 344.7 547.1 297.2 548.6 333.2 548.6 343.8 550.4 292.2 549.4 303.6 549.9 326.1 551.5 325.2 553.5 307.7 554.6 297.8 554.6 324.5 553.9 338.6 554.5 322.9 551.8 285 549.3 348.3 550.1 336.1 550.7 305.8 550.5 302.5 550.2 309.8 550.8 326.9 555 308.9 555.4 308.5 557.2 331.4 557.9 324.3 557.8 326.7 558.3 301.8 571.8 306.6 572.6 315.1 573 326.3 574 320.7 574.2 314.3 576.4 329.8 576.4 335.3 577.5 331.2 576.6 303.6 576.9 305.5 577.6 306.9 579.5 331.9 579.4 328 580.6 312.6 581 304.5 581.4 331.7 572.1 290.3 596 313.1 595.6 327.6 596.8 309.3 597.3 333.4 597.3 303.9 598.2 329.5 597.7 330.5 600.6 306.1 600.2 306.1 600.4 308.3 600.6 309.1 601.3 322.4 600.8 307.5 613.2 325.1 613.6 335.3 613.9 329.4 613.1 329.3 614.4 295.1 614 295.5 615.5 325.1 615.9 308.6 616.1 340.1 616.3 294.4 616.1 310 617 342.5 618 309.4 618.5 290.3 614.3 345.1 624.3 337.5 625.4 334.3 626.9 326 628.1 302.1 628.2 312.9 628.8 314.3 628.6 307.7 630 327.6 629.8 332.1 630.9 321.2 630.7 323.6 632 313.8 632.8 302.9 632.9 296.5 625.7 327.6 626.4 328.3 630 310.4 630.9 323.6 631.1 300 630.8 313.7 631.7 332.4 631.6 327 632.2 324.4 631.5 313.8 631.6 338.3 641 332.8 642.1 314.3 643.4 307.6 643.1 310.4 641.2 301.6 640.9 310.3 641.4 303.6" fill="none" stroke="none" marker-start="url(#Dv)" marker-mid="url(#Dv)" marker-end="url(#Dv)"/><path d="M369.6 306.6 370.9 333.5 370.2 292 370.2 306.4 371.8 326 373 325.6 372 327.9 373.9 332.1 374.4 329.3 374 335.7 373.9 332.7 377.9 332.9 377 325.7 377.5 292.7 378.2 310.5 378.4 334 378.8 336.6 379.7 297.2 378.9 336.6 379.9 300.5 380 313.1 381 311.7 381.1 306.4 376.1 346.4 383.8 301.1 385.6 321.4 386.1 309.8 385.6 309.8 386.9 300.7 387.3 294.5 388.4 308.3 388.8 334.4 389.7 313 390.4 337.5 389.9 334.9 390.9 320.2 390.9 302.9 391.1 304.6 392.1 294.9 392.6 310.9 394.9 327.5 419.6 302.5 420.4 334.8 420.2 309.9 420.9 333.7 421.6 308.1 421.6 306.1 421.4 321.3 423.1 314.6 422.3 327.2 423.6 310.5 424.4 301.9 422.3 295.8 421.5 333.9 423 299.1 423 330.6 422.6 329.4 423.1 297.1 425.2 307.1 426.3 313.5 426.9 305.9 428.5 328.1 427.7 313.8 428.3 331.1 429.4 299.1 431.5 329.9 430.7 329.3 432.9 301.4 434.1 308.2 434.2 305.5 435.6 332.9 434.4 285.7 427.9 341.2 452.3 306.5 453.2 335.2 454.1 306.7 453.2 309.4 453.1 329.5 455.2 323.6 455.3 334.4 455.3 337.8 455.6 313.9 455.8 314 456.9 314.5 457.1 320.7 457.7 302.8 459.9 306.2 460.3 303.7 460.4 324.9 461.7 307.7 462.4 321.7 462.4 334.7 463.5 309.3 464.2 303.1 463.5 337.2 465.3 314.2 466.3 303 465.8 305.2 467.3 320.8 468.2 337.3 468.3 311.2 469.1 327.2 469.3 303 469.2 324.5 470.6 296.1 470.8 302.5 471.3 323 471.6 310.1 471.6 323.3 472.5 299.7 472.5 336.9 469 336.3 468.9 340.1 468.8 352.3 488.5 308.5 488.3 313.4 490.8 331.7 490 299 491.9 300.9 493 300.1 492.8 328 493.9 332.6 493.4 334 494.4 324.3 494.1 299.4 495.2 298.3 495.6 320.8 496.4 321.7 496.3 305.8 500.4 333.9 500.7 311.6 500.8 312.8 501 311.1 502.2 302.7 501.6 323.5 503 313.3 504.1 306 504.3 305.2 497.8 295.6 498.1 304.8 498.8 322 498.9 311.6 499.4 295.9 520 321.5 521.9 309.2 522 307.6 523.5 309.8 523.9 325.6 523.8 313.1 524.1 294.5 526 321.3 527.3 332.2 528.3 299.4 528.1 309.7 527.6 308.8 527.9 328.3 527.9 294.5 528.5 301.6 528.6 339.5 529.4 296.2 530.1 308.8 531.7 299.7 531.3 309.4 530.7 305.9 532.7 341.6 532 290.7 531.7 296.2 532.3 337.7 531.7 327.9 533.3 332.6 530.4 331.2 530.6 298.7 530.5 306.1 531.9 304.6 531.4 321.3 532 304.1 531.6 292.3 531.8 313 532.6 321.4 545.8 307.1 545.6 323 546.3 299.2 546.6 291.6 546.5 346.7 547.3 312.1 547.2 308.6 547.8 324.7 548.7 304.2 549.3 309.5 548.6 299.3 548.4 327 549.1 303.6 548.9 323.7 551.3 301 551.5 293.8 551.4 306.7 552 345.8 552.9 334.7 553.3 338.7 553.4 295.4 552.5 321.4 553.6 334.2 553.5 328.9 554.2 298.2 554.7 336.7 555.1 311.9 554.6 344.9 554.7 326.4 549.1 297.1 550.6 290.1 550.7 307.1 555.8 307.9 555.2 321.3 556.7 306.3 556.9 304.4 556.2 328.2 556 313.6 556.7 333.1 558.5 296.9 558.4 301.7 573.2 311.9 575.9 322.2 580.6 307.7 582.7 333.8 582.2 308.4 596.4 327.6 596.6 300.4 596.6 324.5 597.9 311.2 598.6 310.5 599.4 330.6 598.7 307.7 599.7 307.4 599.2 301.8 600.1 304.7 612.9 295.4 612.1 323.8 612.5 311.6 614.3 306.4 614.6 321 615.1 326.5 617.1 328.5 618.1 325.1 618 343.5 617.3 321.9 618.2 329.3 617.2 310.6 618.2 301.7 618.3 297.6 618.9 342.1 618.6 327.1 625.7 322.1 627.1 326 628.1 331.1 627.3 307.6 629.8 303.9 630.1 330.7 630.6 301.1 630.1 322.3 632 314.2 632 307.6 625.6 339.6 626 327.9 626 324.9 627.2 320.9 630.3 300.5 631.1 295.7 632 309.3 631.8 325.9 631.6 327.6 640 320.8 641.2 333.8 642.2 324.5 643.1 309.5 643.4 302.7 641 338 641.7 307.8 643 327 642.8 330" fill="none" stroke="none" marker-start="url(#Dx)" marker-mid="url(#Dx)" marker-end="url(#Dx)"/><line x1="25.5" y1="111.2" x2="331.6" y2="111.2" stroke="#111" stroke-width="0.9"/><path d="M25.5 19.0 V203.2 H331.6" fill="none" stroke="#444444" stroke-width="1"/><line x1="355.7" y1="111.2" x2="662.0" y2="111.2" stroke="#111" stroke-width="0.9"/><path d="M355.7 19.0 V203.2 H662.0" fill="none" stroke="#444444" stroke-width="1"/><line x1="25.5" y1="317.3" x2="331.6" y2="317.3" stroke="#111" stroke-width="0.9"/><path d="M25.5 225.2 V409.2 H331.6" fill="none" stroke="#444444" stroke-width="1"/><line x1="355.7" y1="317.3" x2="662.0" y2="317.3" stroke="#111" stroke-width="0.9"/><path d="M355.7 225.2 V409.2 H662.0" fill="none" stroke="#444444" stroke-width="1"/><line x1="45" y1="63.4" x2="40.6" y2="71.8" stroke="#1a1a1a" stroke-width="0.45" stroke-opacity="0.6"/><line x1="67.8" y1="60" x2="42.2" y2="74.2" stroke="#1a1a1a" stroke-width="0.45" stroke-opacity="0.6"/><line x1="259" y1="150" x2="268.8" y2="145.4" stroke="#3b3bea" stroke-width="0.45" stroke-opacity="0.6"/><line x1="415" y1="61.2" x2="421.6" y2="69.8" stroke="#ee2a2a" stroke-width="0.45" stroke-opacity="0.6"/><line x1="433" y1="62.5" x2="424" y2="67.8" stroke="#3b8a3b" stroke-width="0.45" stroke-opacity="0.6"/><line x1="515" y1="61.4" x2="529.6" y2="76.2" stroke="#a8a8a8" stroke-width="0.45" stroke-opacity="0.6"/><line x1="558" y1="61.4" x2="545.5" y2="77.6" stroke="#9a35e6" stroke-width="0.45" stroke-opacity="0.6"/><line x1="560.1" y1="75" x2="552.6" y2="78.6" stroke="#a8a8a8" stroke-width="0.45" stroke-opacity="0.6"/><line x1="638" y1="49.3" x2="636" y2="65.4" stroke="#3b8a3b" stroke-width="0.45" stroke-opacity="0.6"/><line x1="617" y1="62.8" x2="620.8" y2="72.2" stroke="#1a1a1a" stroke-width="0.45" stroke-opacity="0.6"/><line x1="394" y1="162.2" x2="384" y2="156.3" stroke="#ee2a2a" stroke-width="0.45" stroke-opacity="0.6"/><line x1="554.3" y1="150.6" x2="557.8" y2="150.6" stroke="#ee2a2a" stroke-width="0.45" stroke-opacity="0.6"/><line x1="613" y1="162.1" x2="620.3" y2="153" stroke="#1a1a1a" stroke-width="0.45" stroke-opacity="0.6"/><line x1="645" y1="162.6" x2="645" y2="158.2" stroke="#ee2a2a" stroke-width="0.45" stroke-opacity="0.6"/><line x1="467.8" y1="158.3" x2="467.8" y2="161.6" stroke="#9a35e6" stroke-width="0.45" stroke-opacity="0.6"/><line x1="633.5" y1="145.5" x2="638" y2="148.9" stroke="#1a1a1a" stroke-width="0.45" stroke-opacity="0.6"/><line x1="57.9" y1="233" x2="106.5" y2="277.5" stroke="#1a1a1a" stroke-width="0.45" stroke-opacity="0.6"/><line x1="80" y1="247.3" x2="103.6" y2="271.2" stroke="#b83232" stroke-width="0.45" stroke-opacity="0.6"/><line x1="100" y1="261" x2="112.2" y2="280.4" stroke="#9aabf4" stroke-width="0.45" stroke-opacity="0.6"/><line x1="131" y1="249.6" x2="138.6" y2="261" stroke="#3b8a3b" stroke-width="0.45" stroke-opacity="0.6"/><line x1="150" y1="263.4" x2="140.4" y2="274.5" stroke="#9a35e6" stroke-width="0.45" stroke-opacity="0.6"/><line x1="175" y1="249.6" x2="155.6" y2="271.2" stroke="#b83232" stroke-width="0.45" stroke-opacity="0.6"/><line x1="215" y1="250.2" x2="189.4" y2="278.3" stroke="#8b5a3c" stroke-width="0.45" stroke-opacity="0.6"/><line x1="240" y1="266" x2="244.2" y2="276.4" stroke="#1a1a1a" stroke-width="0.45" stroke-opacity="0.6"/><line x1="265" y1="251.7" x2="286.6" y2="275" stroke="#6fe0cd" stroke-width="0.45" stroke-opacity="0.6"/><line x1="283" y1="266" x2="287.2" y2="274.2" stroke="#b83232" stroke-width="0.45" stroke-opacity="0.6"/><line x1="300" y1="266" x2="288.6" y2="274.4" stroke="#9a35e6" stroke-width="0.45" stroke-opacity="0.6"/><line x1="63.9" y1="358" x2="69.2" y2="356" stroke="#1a1a1a" stroke-width="0.45" stroke-opacity="0.6"/><line x1="76" y1="361.2" x2="71.2" y2="358.8" stroke="#1a1a1a" stroke-width="0.45" stroke-opacity="0.6"/><line x1="191" y1="370.5" x2="197.2" y2="357.8" stroke="#3b8a3b" stroke-width="0.45" stroke-opacity="0.6"/><line x1="170" y1="384.2" x2="188.2" y2="357.5" stroke="#3b8a3b" stroke-width="0.45" stroke-opacity="0.6"/><line x1="207" y1="385.8" x2="212.2" y2="377.4" stroke="#555555" stroke-width="0.45" stroke-opacity="0.6"/><line x1="250" y1="372.6" x2="270" y2="366.6" stroke="#3b8a3b" stroke-width="0.45" stroke-opacity="0.6"/><line x1="255" y1="386.5" x2="272" y2="366.6" stroke="#8b5a3c" stroke-width="0.45" stroke-opacity="0.6"/><line x1="300" y1="386.5" x2="288.2" y2="371.6" stroke="#8b5a3c" stroke-width="0.45" stroke-opacity="0.6"/><line x1="390" y1="267.3" x2="399.2" y2="276.6" stroke="#6fe0cd" stroke-width="0.45" stroke-opacity="0.6"/><line x1="443" y1="272.2" x2="437.9" y2="278.3" stroke="#1a1a1a" stroke-width="0.45" stroke-opacity="0.6"/><line x1="512" y1="264.9" x2="511.3" y2="278.8" stroke="#1a1a1a" stroke-width="0.45" stroke-opacity="0.6"/><line x1="546" y1="264.9" x2="549.9" y2="277.8" stroke="#8b5a3c" stroke-width="0.45" stroke-opacity="0.6"/><line x1="640" y1="264.9" x2="645.3" y2="270.3" stroke="#1a1a1a" stroke-width="0.45" stroke-opacity="0.6"/><line x1="401" y1="371.5" x2="400.4" y2="360.8" stroke="#1a1a1a" stroke-width="0.45" stroke-opacity="0.6"/><line x1="423" y1="385.2" x2="401.2" y2="360.6" stroke="#1a1a1a" stroke-width="0.45" stroke-opacity="0.6"/><line x1="428" y1="370.7" x2="435.8" y2="360.6" stroke="#ee2a2a" stroke-width="0.45" stroke-opacity="0.6"/><line x1="480" y1="371.2" x2="473.2" y2="359.6" stroke="#ee2a2a" stroke-width="0.45" stroke-opacity="0.6"/><line x1="515" y1="384.7" x2="518.2" y2="367.4" stroke="#dcd4a4" stroke-width="0.45" stroke-opacity="0.6"/><line x1="630.7" y1="357.5" x2="636.4" y2="353.4" stroke="#1a1a1a" stroke-width="0.45" stroke-opacity="0.6"/><line x1="640" y1="368.5" x2="645" y2="361" stroke="#1a1a1a" stroke-width="0.45" stroke-opacity="0.6"/><circle cx="40.1" cy="73.3" r="1.9" fill="none" stroke="#1a1a1a" stroke-width="0.85"/><path d="M43.6 78.8L46.0 74.7H41.2z" fill="none" stroke="#ee2a2a" stroke-width="0.85"/><path d="M196.1 69.19999999999999L199.9 73.0M199.9 69.19999999999999L196.1 73.0" stroke="#9aabf4" stroke-width="0.85"/><path d="M245.0 60.7L248.8 64.5M248.8 60.7L245.0 64.5" stroke="#1a1a1a" stroke-width="0.85"/><circle cx="216" cy="77.2" r="1.9" fill="none" stroke="#1a1a1a" stroke-width="0.85"/><path d="M39.0 164.5L42.8 168.3M42.8 164.5L39.0 168.3" stroke="#ee2a2a" stroke-width="0.85"/><circle cx="69.5" cy="164.4" r="1.9" fill="none" stroke="#ee2a2a" stroke-width="0.85"/><circle cx="166.7" cy="152.9" r="1.9" fill="none" stroke="#ee2a2a" stroke-width="0.85"/><path d="M187.1 158.5L190.9 162.3M190.9 158.5L187.1 162.3" stroke="#6fe0cd" stroke-width="0.85"/><path d="M270.4 142.1L273.0 144.7L270.4 147.29999999999998L267.79999999999995 144.7z" fill="none" stroke="#3b3bea" stroke-width="0.85"/><path d="M284.40000000000003 143H289.2M286.8 140.6V145.4" stroke="#ee2a2a" stroke-width="0.85"/><path d="M297.6 141.1L300.0 145.20000000000002H295.20000000000005z" fill="none" stroke="#ee2a2a" stroke-width="0.85"/><path d="M284.40000000000003 159.3H289.2M286.8 156.9V161.70000000000002" stroke="#ee2a2a" stroke-width="0.85"/><path d="M369.70000000000005 75.69999999999999L373.5 79.5M373.5 75.69999999999999L369.70000000000005 79.5" stroke="#1a1a1a" stroke-width="0.85"/><path d="M422.4 73.7L424.79999999999995 69.60000000000001H420.0z" fill="none" stroke="#ee2a2a" stroke-width="0.85"/><path d="M422.4 71.1L424.79999999999995 67.0H420.0z" fill="none" stroke="#3b8a3b" stroke-width="0.85"/><path d="M422.4 79.89999999999999L424.79999999999995 75.8H420.0z" fill="none" stroke="#f0904a" stroke-width="0.85"/><path d="M528.6 75.8L532.4 79.60000000000001M532.4 75.8L528.6 79.60000000000001" stroke="#a8a8a8" stroke-width="0.85"/><circle cx="518.7" cy="78.1" r="1.9" fill="none" stroke="#3b3bea" stroke-width="0.85"/><circle cx="538.7" cy="78.5" r="1.9" fill="none" stroke="#1a1a1a" stroke-width="0.85"/><path d="M544.2 81.5L546.6 77.4H541.8000000000001z" fill="none" stroke="#9a35e6" stroke-width="0.85"/><path d="M549.5 77.3L553.3 81.10000000000001M553.3 77.3L549.5 81.10000000000001" stroke="#a8a8a8" stroke-width="0.85"/><path d="M635.6 64.4L638.2 67L635.6 69.6L633.0 67z" fill="none" stroke="#3b8a3b" stroke-width="0.85"/><path d="M621.4 76.2L623.8 72.10000000000001H619.0z" fill="none" stroke="#1a1a1a" stroke-width="0.85"/><path d="M646.4 77.5L648.8 73.4H644.0z" fill="none" stroke="#ee2a2a" stroke-width="0.85"/><path d="M369.1 141.7L372.9 145.5M372.9 141.7L369.1 145.5" stroke="#1a1a1a" stroke-width="0.85"/><path d="M366.90000000000003 145.2H371.7M369.3 142.79999999999998V147.6" stroke="#ee2a2a" stroke-width="0.85"/><path d="M369.40000000000003 157.2L373.2 161.0M373.2 157.2L369.40000000000003 161.0" stroke="#ee2a2a" stroke-width="0.85"/><path d="M422.4 149.60000000000002L424.79999999999995 145.5H420.0z" fill="none" stroke="#3b8a3b" stroke-width="0.85"/><circle cx="467.8" cy="156.5" r="1.9" fill="none" stroke="#9a35e6" stroke-width="0.85"/><path d="M509.3 142.5L511.7 146.60000000000002H506.90000000000003z" fill="none" stroke="#8b5a3c" stroke-width="0.85"/><circle cx="517.9" cy="143.6" r="1.9" fill="none" stroke="#ee2a2a" stroke-width="0.85"/><path d="M516.0 155.6L519.8 159.4M519.8 155.6L516.0 159.4" stroke="#6fe0cd" stroke-width="0.85"/><path d="M631.2 141.9L635.0 145.70000000000002M635.0 141.9L631.2 145.70000000000002" stroke="#1a1a1a" stroke-width="0.85"/><path d="M621 149.0L623.4 153.10000000000002H618.6z" fill="none" stroke="#1a1a1a" stroke-width="0.85"/><path d="M647.2 147.70000000000002L649.6 143.6H644.8000000000001z" fill="none" stroke="#ee2a2a" stroke-width="0.85"/><path d="M104.5 269.59999999999997L107.1 272.2L104.5 274.8L101.9 272.2z" fill="none" stroke="#b83232" stroke-width="0.85"/><path d="M111.1 279.90000000000003L114.9 283.7M114.9 279.90000000000003L111.1 283.7" stroke="#9aabf4" stroke-width="0.85"/><path d="M40.7 274.9L43.300000000000004 277.5L40.7 280.1L38.1 277.5z" fill="none" stroke="#1a1a1a" stroke-width="0.85"/><path d="M107.7 278.09999999999997L110.3 280.7L107.7 283.3L105.10000000000001 280.7z" fill="none" stroke="#1a1a1a" stroke-width="0.85"/><path d="M105.8 276.20000000000005L109.60000000000001 280.0M109.60000000000001 276.20000000000005L105.8 280.0" stroke="#1a1a1a" stroke-width="0.85"/><path d="M139.2 260.3L141.6 264.40000000000003H136.79999999999998z" fill="none" stroke="#3b8a3b" stroke-width="0.85"/><path d="M139.2 273.2L141.79999999999998 275.8L139.2 278.40000000000003L136.6 275.8z" fill="none" stroke="#9a35e6" stroke-width="0.85"/><path d="M139.2 278.7L141.6 282.8H136.79999999999998z" fill="none" stroke="#3b3bea" stroke-width="0.85"/><path d="M154.5 274.90000000000003L156.9 270.8H152.1z" fill="none" stroke="#b83232" stroke-width="0.85"/><path d="M152 272.79999999999995L154.6 275.4L152 278.0L149.4 275.4z" fill="none" stroke="#3b3bea" stroke-width="0.85"/><path d="M166.5 278.4L169.1 281L166.5 283.6L163.9 281z" fill="none" stroke="#1a1a1a" stroke-width="0.85"/><path d="M171.3 278.0L173.9 280.6L171.3 283.20000000000005L168.70000000000002 280.6z" fill="none" stroke="#1a1a1a" stroke-width="0.85"/><path d="M186.6 261.8L190.4 265.59999999999997M190.4 261.8L186.6 265.59999999999997" stroke="#3b3bea" stroke-width="0.85"/><path d="M188.5 277.5L190.9 281.6H186.1z" fill="none" stroke="#8b5a3c" stroke-width="0.85"/><path d="M201.4 277.5L204.0 280.1L201.4 282.70000000000005L198.8 280.1z" fill="none" stroke="#3b8a3b" stroke-width="0.85"/><path d="M244.6 275.7L247.0 279.8H242.2z" fill="none" stroke="#1a1a1a" stroke-width="0.85"/><path d="M284.40000000000003 240.1H289.2M286.8 237.7V242.5" stroke="#1a1a1a" stroke-width="0.85"/><path d="M285.1 275.5H289.9M287.5 273.1V277.9" stroke="#3b3bea" stroke-width="0.85"/><path d="M287.5 279.8L289.9 275.7H285.1z" fill="none" stroke="#ee2a2a" stroke-width="0.85"/><path d="M68.5 353.40000000000003L72.30000000000001 357.2M72.30000000000001 353.40000000000003L68.5 357.2" stroke="#1a1a1a" stroke-width="0.85"/><path d="M68.5 355.8L72.30000000000001 359.59999999999997M72.30000000000001 355.8L68.5 359.59999999999997" stroke="#1a1a1a" stroke-width="0.85"/><path d="M68.5 372.1L72.30000000000001 375.9M72.30000000000001 372.1L68.5 375.9" stroke="#1a1a1a" stroke-width="0.85"/><circle cx="107.4" cy="353.7" r="1.9" fill="none" stroke="#1a1a1a" stroke-width="0.85"/><path d="M139.5 363.4L141.9 367.5H137.1z" fill="none" stroke="#3b3bea" stroke-width="0.85"/><path d="M196.2 354.5L200.0 358.29999999999995M200.0 354.5L196.2 358.29999999999995" stroke="#3b8a3b" stroke-width="0.85"/><path d="M187.0 350.3L190.8 354.09999999999997M190.8 350.3L187.0 354.09999999999997" stroke="#3b8a3b" stroke-width="0.85"/><path d="M186.5 356H191.3M188.9 353.6V358.4" stroke="#3b8a3b" stroke-width="0.85"/><circle cx="212.8" cy="375.7" r="1.9" fill="none" stroke="#555555" stroke-width="0.85"/><path d="M305.6 356.5L308.0 352.4H303.20000000000005z" fill="none" stroke="#3b3bea" stroke-width="0.85"/><path d="M284.8 365.6H289.59999999999997M287.2 363.20000000000005V368.0" stroke="#9aabf4" stroke-width="0.85"/><path d="M284.8 370.4H289.59999999999997M287.2 368.0V372.79999999999995" stroke="#8b5a3c" stroke-width="0.85"/><path d="M287.2 351.59999999999997L289.8 354.2L287.2 356.8L284.59999999999997 354.2z" fill="none" stroke="#3b8a3b" stroke-width="0.85"/><path d="M398.3 275.90000000000003L402.09999999999997 279.7M402.09999999999997 275.90000000000003L398.3 279.7" stroke="#6fe0cd" stroke-width="0.85"/><path d="M423 284.0L425.4 279.9H420.6z" fill="none" stroke="#9aabf4" stroke-width="0.85"/><path d="M436.8 277.0L439.40000000000003 279.6L436.8 282.20000000000005L434.2 279.6z" fill="none" stroke="#1a1a1a" stroke-width="0.85"/><path d="M468 283.3L470.4 279.2H465.6z" fill="none" stroke="#3b3bea" stroke-width="0.85"/><circle cx="542.3" cy="244.8" r="1.9" fill="none" stroke="#555555" stroke-width="0.85"/><path d="M511.2 278.4L513.6 282.5H508.8z" fill="none" stroke="#1a1a1a" stroke-width="0.85"/><path d="M550.2 277.4L552.6 281.5H547.8000000000001z" fill="none" stroke="#8b5a3c" stroke-width="0.85"/><path d="M518.3 278.7L520.6999999999999 282.8H515.9z" fill="none" stroke="#8b5a3c" stroke-width="0.85"/><path d="M584.4 277.4L587.0 280L584.4 282.6L581.8 280z" fill="none" stroke="#ee2a2a" stroke-width="0.85"/><path d="M624.4 279.3L628.1999999999999 283.09999999999997M628.1999999999999 279.3L624.4 283.09999999999997" stroke="#ee2a2a" stroke-width="0.85"/><path d="M644.3000000000001 269.70000000000005L648.1 273.5M648.1 269.70000000000005L644.3000000000001 273.5" stroke="#1a1a1a" stroke-width="0.85"/><path d="M384.4 354.0L387.0 356.6L384.4 359.20000000000005L381.79999999999995 356.6z" fill="none" stroke="#f0904a" stroke-width="0.85"/><path d="M398.3 350.40000000000003L402.09999999999997 354.2M402.09999999999997 350.40000000000003L398.3 354.2" stroke="#ee2a2a" stroke-width="0.85"/><path d="M398.3 357.40000000000003L402.09999999999997 361.2M402.09999999999997 357.40000000000003L398.3 361.2" stroke="#1a1a1a" stroke-width="0.85"/><path d="M434.6 357.40000000000003L438.4 361.2M438.4 357.40000000000003L434.6 361.2" stroke="#ee2a2a" stroke-width="0.85"/><path d="M468 356.0L470.4 351.9H465.6z" fill="none" stroke="#3b3bea" stroke-width="0.85"/><circle cx="472.5" cy="357.9" r="1.9" fill="none" stroke="#ee2a2a" stroke-width="0.85"/><path d="M516.5 364.0L520.3 367.79999999999995M520.3 364.0L516.5 367.79999999999995" stroke="#3b8a3b" stroke-width="0.85"/><path d="M518.4 350.5L521.0 353.1L518.4 355.70000000000005L515.8 353.1z" fill="none" stroke="#3b8a3b" stroke-width="0.85"/><path d="M518.4 355.79999999999995L521.0 358.4L518.4 361.0L515.8 358.4z" fill="none" stroke="#3b3bea" stroke-width="0.85"/><path d="M528.8000000000001 360.5L532.6 364.29999999999995M532.6 360.5L528.8000000000001 364.29999999999995" stroke="#b83232" stroke-width="0.85"/><path d="M544.3 355.40000000000003L546.6999999999999 351.3H541.9z" fill="none" stroke="#3b3bea" stroke-width="0.85"/><path d="M544.3 364.2L546.6999999999999 360.09999999999997H541.9z" fill="none" stroke="#1a1a1a" stroke-width="0.85"/><path d="M635.8000000000001 350.40000000000003L639.6 354.2M639.6 350.40000000000003L635.8000000000001 354.2" stroke="#1a1a1a" stroke-width="0.85"/><path d="M644.0 357.6L647.8 361.4M647.8 357.6L644.0 361.4" stroke="#1a1a1a" stroke-width="0.85"/><rect x="28.0" y="54.0" width="35.8" height="9.1" rx="1.6" fill="#fff" stroke="#1a1a1a" stroke-width="0.65" stroke-opacity="0.8"/><text x="45.9" y="61.2" font-size="7.4" text-anchor="middle" fill="#1a1a1a" stroke="#1a1a1a" stroke-width="0.1">ATP13A2</text><rect x="68.1" y="54.0" width="36.0" height="9.1" rx="1.6" fill="#fff" stroke="#1a1a1a" stroke-width="0.65" stroke-opacity="0.8"/><text x="86.1" y="61.2" font-size="7.4" text-anchor="middle" fill="#1a1a1a" stroke="#1a1a1a" stroke-width="0.1">ATP13A2</text><rect x="47.4" y="67.6" width="28.5" height="8.1" rx="1.6" fill="#fff" stroke="#ee2a2a" stroke-width="0.65" stroke-opacity="0.85"/><text x="61.7" y="74.3" font-size="7.4" text-anchor="middle" fill="#ee2a2a" stroke="#ee2a2a" stroke-width="0.1">DMAP1</text><rect x="177.9" y="59.3" width="31.9" height="8.9" rx="1.6" fill="#fff" stroke="#9aabf4" stroke-width="0.65" stroke-opacity="0.85"/><text x="193.8" y="66.4" font-size="7.4" text-anchor="middle" fill="#9aabf4" stroke="#9aabf4" stroke-width="0.1">SPTLC1</text><rect x="230.9" y="50.8" width="31.5" height="9.0" rx="1.6" fill="#fff" stroke="#1a1a1a" stroke-width="0.65" stroke-opacity="0.8"/><text x="246.6" y="57.9" font-size="7.4" text-anchor="middle" fill="#1a1a1a" stroke="#1a1a1a" stroke-width="0.1">CAB39L</text><rect x="214.8" y="65.8" width="39.6" height="8.9" rx="1.6" fill="#fff" stroke="#1a1a1a" stroke-width="0.65" stroke-opacity="0.8"/><text x="234.6" y="72.9" font-size="7.4" text-anchor="middle" fill="#1a1a1a" stroke="#1a1a1a" stroke-width="0.1">SLC25A22</text><rect x="27.900000000000002" y="169.8" width="31.1" height="8.6" rx="1.6" fill="#fff" stroke="#ee2a2a" stroke-width="0.65" stroke-opacity="0.85"/><text x="43.5" y="176.8" font-size="7.4" text-anchor="middle" fill="#ee2a2a" stroke="#ee2a2a" stroke-width="0.1">CROCC</text><rect x="64.2" y="168.0" width="27.5" height="8.3" rx="1.6" fill="#fff" stroke="#ee2a2a" stroke-width="0.65" stroke-opacity="0.85"/><text x="78.0" y="174.8" font-size="7.4" text-anchor="middle" fill="#ee2a2a" stroke="#ee2a2a" stroke-width="0.1">AHSA2</text><rect x="138.70000000000002" y="155.9" width="31.4" height="9.1" rx="1.6" fill="#fff" stroke="#ee2a2a" stroke-width="0.65" stroke-opacity="0.85"/><text x="154.4" y="163.1" font-size="7.4" text-anchor="middle" fill="#ee2a2a" stroke="#ee2a2a" stroke-width="0.1">STYXL1</text><rect x="175.8" y="163.60000000000002" width="36.2" height="8.4" rx="1.6" fill="#fff" stroke="#6fe0cd" stroke-width="0.65" stroke-opacity="0.85"/><text x="193.9" y="170.5" font-size="7.4" text-anchor="middle" fill="#6fe0cd" stroke="#6fe0cd" stroke-width="0.1">COMMD5</text><rect x="226.70000000000002" y="145.70000000000002" width="32.0" height="9.5" rx="1.6" fill="#fff" stroke="#3b3bea" stroke-width="0.65" stroke-opacity="0.85"/><text x="242.7" y="153.1" font-size="7.4" text-anchor="middle" fill="#3b3bea" stroke="#3b3bea" stroke-width="0.1">ODF3L1</text><rect x="263.6" y="147.9" width="36.7" height="8.6" rx="1.6" fill="#fff" stroke="#ee2a2a" stroke-width="0.65" stroke-opacity="0.85"/><text x="282.0" y="154.8" font-size="7.4" text-anchor="middle" fill="#ee2a2a" stroke="#ee2a2a" stroke-width="0.1">LRRC37A</text><rect x="305.6" y="145.70000000000002" width="16.0" height="9.5" rx="1.6" fill="#fff" stroke="#ee2a2a" stroke-width="0.65" stroke-opacity="0.85"/><text x="313.6" y="153.1" font-size="7.4" text-anchor="middle" fill="#ee2a2a" stroke="#ee2a2a" stroke-width="0.1">ELL</text><rect x="244.60000000000002" y="163.5" width="39.7" height="8.5" rx="1.6" fill="#fff" stroke="#ee2a2a" stroke-width="0.65" stroke-opacity="0.85"/><text x="264.5" y="170.4" font-size="7.4" text-anchor="middle" fill="#ee2a2a" stroke="#ee2a2a" stroke-width="0.1">LRRC37A2</text><rect x="290.8" y="163.0" width="31.3" height="8.6" rx="1.6" fill="#fff" stroke="#6fe0cd" stroke-width="0.65" stroke-opacity="0.85"/><text x="306.4" y="170.0" font-size="7.4" text-anchor="middle" fill="#6fe0cd" stroke="#6fe0cd" stroke-width="0.1">ARL17A</text><rect x="365.7" y="66.39999999999999" width="35.0" height="8.6" rx="1.6" fill="#fff" stroke="#1a1a1a" stroke-width="0.65" stroke-opacity="0.8"/><text x="383.2" y="73.3" font-size="7.4" text-anchor="middle" fill="#1a1a1a" stroke="#1a1a1a" stroke-width="0.1">ATP13A2</text><rect x="403.6" y="51.8" width="22.8" height="9.1" rx="1.6" fill="#fff" stroke="#ee2a2a" stroke-width="0.65" stroke-opacity="0.85"/><text x="415.0" y="59.0" font-size="7.4" text-anchor="middle" fill="#ee2a2a" stroke="#ee2a2a" stroke-width="0.1">UBA7</text><rect x="431.6" y="53.8" width="25.5" height="9.2" rx="1.6" fill="#fff" stroke="#3b8a3b" stroke-width="0.65" stroke-opacity="0.85"/><text x="444.4" y="61.0" font-size="7.4" text-anchor="middle" fill="#3b8a3b" stroke="#3b8a3b" stroke-width="0.1">HYAL3</text><rect x="426.6" y="67.89999999999999" width="26.2" height="8.6" rx="1.6" fill="#fff" stroke="#f0904a" stroke-width="0.65" stroke-opacity="0.85"/><text x="439.7" y="74.8" font-size="7.4" text-anchor="middle" fill="#f0904a" stroke="#f0904a" stroke-width="0.1">HYAL3</text><rect x="503.6" y="51.9" width="23.5" height="9.2" rx="1.6" fill="#fff" stroke="#a8a8a8" stroke-width="0.65" stroke-opacity="0.85"/><text x="515.4" y="59.1" font-size="7.4" text-anchor="middle" fill="#a8a8a8" stroke="#a8a8a8" stroke-width="0.1">FPGS</text><rect x="499.5" y="66.6" width="26.0" height="8.8" rx="1.6" fill="#fff" stroke="#3b3bea" stroke-width="0.65" stroke-opacity="0.85"/><text x="512.5" y="73.7" font-size="7.4" text-anchor="middle" fill="#3b3bea" stroke="#3b3bea" stroke-width="0.1">ZNF34</text><rect x="531.8" y="65.8" width="23.3" height="8.5" rx="1.6" fill="#fff" stroke="#1a1a1a" stroke-width="0.65" stroke-opacity="0.8"/><text x="543.5" y="72.7" font-size="7.4" text-anchor="middle" fill="#1a1a1a" stroke="#1a1a1a" stroke-width="0.1">DNA2</text><rect x="547.8" y="51.9" width="36.2" height="9.2" rx="1.6" fill="#fff" stroke="#9a35e6" stroke-width="0.65" stroke-opacity="0.85"/><text x="565.9" y="59.1" font-size="7.4" text-anchor="middle" fill="#9a35e6" stroke="#9a35e6" stroke-width="0.1">METTL10</text><rect x="560.4" y="68.2" width="37.3" height="8.6" rx="1.6" fill="#fff" stroke="#a8a8a8" stroke-width="0.65" stroke-opacity="0.85"/><text x="579.0" y="75.2" font-size="7.4" text-anchor="middle" fill="#a8a8a8" stroke="#a8a8a8" stroke-width="0.1">ZDHHC24</text><rect x="616.4" y="40.0" width="43.1" height="9.0" rx="1.6" fill="#fff" stroke="#3b8a3b" stroke-width="0.65" stroke-opacity="0.85"/><text x="638.0" y="47.1" font-size="7.4" text-anchor="middle" fill="#3b8a3b" stroke="#3b8a3b" stroke-width="0.1">MAP1LC3A</text><rect x="596.6999999999999" y="53.5" width="38.8" height="9.0" rx="1.6" fill="#fff" stroke="#1a1a1a" stroke-width="0.65" stroke-opacity="0.8"/><text x="616.1" y="60.6" font-size="7.4" text-anchor="middle" fill="#1a1a1a" stroke="#1a1a1a" stroke-width="0.1">ANKRD29</text><rect x="639.6999999999999" y="63.699999999999996" width="19.8" height="8.6" rx="1.6" fill="#fff" stroke="#ee2a2a" stroke-width="0.65" stroke-opacity="0.85"/><text x="649.6" y="70.7" font-size="7.4" text-anchor="middle" fill="#ee2a2a" stroke="#ee2a2a" stroke-width="0.1">SFI1</text><rect x="373.3" y="147.60000000000002" width="28.0" height="8.6" rx="1.6" fill="#fff" stroke="#1a1a1a" stroke-width="0.65" stroke-opacity="0.8"/><text x="387.3" y="154.6" font-size="7.4" text-anchor="middle" fill="#1a1a1a" stroke="#1a1a1a" stroke-width="0.1">NBPF1</text><rect x="358.40000000000003" y="162.9" width="30.6" height="9.2" rx="1.6" fill="#fff" stroke="#ee2a2a" stroke-width="0.65" stroke-opacity="0.85"/><text x="373.7" y="170.2" font-size="7.4" text-anchor="middle" fill="#ee2a2a" stroke="#ee2a2a" stroke-width="0.1">CROCC</text><rect x="394.1" y="161.9" width="30.5" height="8.4" rx="1.6" fill="#fff" stroke="#ee2a2a" stroke-width="0.65" stroke-opacity="0.85"/><text x="409.4" y="168.8" font-size="7.4" text-anchor="middle" fill="#ee2a2a" stroke="#ee2a2a" stroke-width="0.1">MORN1</text><rect x="425.8" y="148.0" width="31.5" height="8.2" rx="1.6" fill="#fff" stroke="#3b8a3b" stroke-width="0.65" stroke-opacity="0.85"/><text x="441.6" y="154.8" font-size="7.4" text-anchor="middle" fill="#3b8a3b" stroke="#3b8a3b" stroke-width="0.1">RNF123</text><rect x="449.3" y="161.9" width="29.0" height="8.8" rx="1.6" fill="#fff" stroke="#9a35e6" stroke-width="0.65" stroke-opacity="0.85"/><text x="463.8" y="169.0" font-size="7.4" text-anchor="middle" fill="#9a35e6" stroke="#9a35e6" stroke-width="0.1">HARS2</text><rect x="483.1" y="148.60000000000002" width="28.4" height="9.0" rx="1.6" fill="#fff" stroke="#8b5a3c" stroke-width="0.65" stroke-opacity="0.85"/><text x="497.3" y="155.8" font-size="7.4" text-anchor="middle" fill="#8b5a3c" stroke="#8b5a3c" stroke-width="0.1">PXDNL</text><rect x="521.3" y="146.5" width="32.7" height="8.6" rx="1.6" fill="#fff" stroke="#ee2a2a" stroke-width="0.65" stroke-opacity="0.85"/><text x="537.6" y="153.5" font-size="7.4" text-anchor="middle" fill="#ee2a2a" stroke="#ee2a2a" stroke-width="0.1">PARP10</text><rect x="558.0999999999999" y="146.5" width="28.0" height="8.6" rx="1.6" fill="#fff" stroke="#ee2a2a" stroke-width="0.65" stroke-opacity="0.85"/><text x="572.1" y="153.5" font-size="7.4" text-anchor="middle" fill="#ee2a2a" stroke="#ee2a2a" stroke-width="0.1">GRINA</text><rect x="503.5" y="162.9" width="36.6" height="8.4" rx="1.6" fill="#fff" stroke="#6fe0cd" stroke-width="0.65" stroke-opacity="0.85"/><text x="521.8" y="169.8" font-size="7.4" text-anchor="middle" fill="#6fe0cd" stroke="#6fe0cd" stroke-width="0.1">COMMD5</text><rect x="624.9" y="149.20000000000002" width="29.2" height="8.7" rx="1.6" fill="#fff" stroke="#1a1a1a" stroke-width="0.65" stroke-opacity="0.8"/><text x="639.5" y="156.2" font-size="7.4" text-anchor="middle" fill="#1a1a1a" stroke="#1a1a1a" stroke-width="0.1">SLX4IP</text><rect x="596.9" y="162.4" width="29.0" height="9.3" rx="1.6" fill="#fff" stroke="#1a1a1a" stroke-width="0.65" stroke-opacity="0.8"/><text x="611.4" y="169.7" font-size="7.4" text-anchor="middle" fill="#1a1a1a" stroke="#1a1a1a" stroke-width="0.1">CABYR</text><rect x="631.0" y="162.9" width="28.3" height="9.0" rx="1.6" fill="#fff" stroke="#ee2a2a" stroke-width="0.65" stroke-opacity="0.85"/><text x="645.2" y="170.0" font-size="7.4" text-anchor="middle" fill="#ee2a2a" stroke="#ee2a2a" stroke-width="0.1">ODF3B</text><rect x="33.699999999999996" y="227.5" width="23.9" height="9.1" rx="1.6" fill="#fff" stroke="#1a1a1a" stroke-width="0.65" stroke-opacity="0.8"/><text x="45.6" y="234.7" font-size="7.4" text-anchor="middle" fill="#1a1a1a" stroke="#1a1a1a" stroke-width="0.1">ADD1</text><rect x="62.599999999999994" y="238.3" width="28.3" height="8.7" rx="1.6" fill="#fff" stroke="#b83232" stroke-width="0.65" stroke-opacity="0.85"/><text x="76.8" y="245.3" font-size="7.4" text-anchor="middle" fill="#b83232" stroke="#b83232" stroke-width="0.1">MFSD1</text><rect x="86.0" y="251.60000000000002" width="27.3" height="9.1" rx="1.6" fill="#fff" stroke="#9aabf4" stroke-width="0.65" stroke-opacity="0.85"/><text x="99.7" y="258.8" font-size="7.4" text-anchor="middle" fill="#9aabf4" stroke="#9aabf4" stroke-width="0.1">FIP1L1</text><rect x="107.8" y="266.0" width="28.2" height="8.3" rx="1.6" fill="#fff" stroke="#3b3bea" stroke-width="0.65" stroke-opacity="0.85"/><text x="121.9" y="272.8" font-size="7.4" text-anchor="middle" fill="#3b3bea" stroke="#3b3bea" stroke-width="0.1">ZMAT2</text><rect x="28.2" y="266.1" width="27.3" height="9.0" rx="1.6" fill="#fff" stroke="#1a1a1a" stroke-width="0.65" stroke-opacity="0.8"/><text x="41.8" y="273.2" font-size="7.4" text-anchor="middle" fill="#1a1a1a" stroke="#1a1a1a" stroke-width="0.1">NBPF1</text><rect x="77.5" y="270.90000000000003" width="24.0" height="8.5" rx="1.6" fill="#fff" stroke="#1a1a1a" stroke-width="0.65" stroke-opacity="0.8"/><text x="89.5" y="277.8" font-size="7.4" text-anchor="middle" fill="#1a1a1a" stroke="#1a1a1a" stroke-width="0.1">ADD1</text><rect x="119.8" y="240.70000000000002" width="24.2" height="8.6" rx="1.6" fill="#fff" stroke="#3b8a3b" stroke-width="0.65" stroke-opacity="0.85"/><text x="131.9" y="247.7" font-size="7.4" text-anchor="middle" fill="#3b8a3b" stroke="#3b8a3b" stroke-width="0.1">HARS</text><rect x="142.20000000000002" y="254.10000000000002" width="28.3" height="9.0" rx="1.6" fill="#fff" stroke="#9a35e6" stroke-width="0.65" stroke-opacity="0.85"/><text x="156.4" y="261.2" font-size="7.4" text-anchor="middle" fill="#9a35e6" stroke="#9a35e6" stroke-width="0.1">CXXC5</text><rect x="163.9" y="240.70000000000002" width="29.9" height="8.6" rx="1.6" fill="#fff" stroke="#b83232" stroke-width="0.65" stroke-opacity="0.85"/><text x="178.8" y="247.7" font-size="7.4" text-anchor="middle" fill="#b83232" stroke="#b83232" stroke-width="0.1">ARMC2</text><rect x="159.60000000000002" y="269.2" width="31.0" height="8.4" rx="1.6" fill="#fff" stroke="#1a1a1a" stroke-width="0.65" stroke-opacity="0.8"/><text x="175.1" y="276.0" font-size="7.4" text-anchor="middle" fill="#1a1a1a" stroke="#1a1a1a" stroke-width="0.1">STYXL1</text><rect x="192.0" y="254.9" width="22.3" height="8.6" rx="1.6" fill="#fff" stroke="#3b3bea" stroke-width="0.65" stroke-opacity="0.85"/><text x="203.1" y="261.8" font-size="7.4" text-anchor="middle" fill="#3b3bea" stroke="#3b3bea" stroke-width="0.1">ZNF7</text><rect x="212.0" y="241.10000000000002" width="27.9" height="8.8" rx="1.6" fill="#fff" stroke="#8b5a3c" stroke-width="0.65" stroke-opacity="0.85"/><text x="225.9" y="248.2" font-size="7.4" text-anchor="middle" fill="#8b5a3c" stroke="#8b5a3c" stroke-width="0.1">EEF1D</text><rect x="204.60000000000002" y="268.90000000000003" width="17.8" height="8.8" rx="1.6" fill="#fff" stroke="#3b8a3b" stroke-width="0.65" stroke-opacity="0.85"/><text x="213.5" y="275.9" font-size="7.4" text-anchor="middle" fill="#3b8a3b" stroke="#3b8a3b" stroke-width="0.1">AK1</text><rect x="227.3" y="257.1" width="25.3" height="8.6" rx="1.6" fill="#fff" stroke="#1a1a1a" stroke-width="0.65" stroke-opacity="0.8"/><text x="239.9" y="264.0" font-size="7.4" text-anchor="middle" fill="#1a1a1a" stroke="#1a1a1a" stroke-width="0.1">MTIF3</text><rect x="268.5" y="228.0" width="38.2" height="8.8" rx="1.6" fill="#fff" stroke="#3b8a3b" stroke-width="0.65" stroke-opacity="0.85"/><text x="287.6" y="235.0" font-size="7.4" text-anchor="middle" fill="#3b8a3b" stroke="#3b8a3b" stroke-width="0.1">PLEKHM1</text><rect x="290.8" y="242.60000000000002" width="32.3" height="8.8" rx="1.6" fill="#fff" stroke="#1a1a1a" stroke-width="0.65" stroke-opacity="0.8"/><text x="306.9" y="249.7" font-size="7.4" text-anchor="middle" fill="#1a1a1a" stroke="#1a1a1a" stroke-width="0.1">KANSL1</text><rect x="249.9" y="242.60000000000002" width="29.4" height="8.8" rx="1.6" fill="#fff" stroke="#6fe0cd" stroke-width="0.65" stroke-opacity="0.85"/><text x="264.6" y="249.7" font-size="7.4" text-anchor="middle" fill="#6fe0cd" stroke="#6fe0cd" stroke-width="0.1">CRHR1</text><rect x="269.6" y="257.1" width="24.6" height="8.6" rx="1.6" fill="#fff" stroke="#b83232" stroke-width="0.65" stroke-opacity="0.85"/><text x="281.9" y="264.0" font-size="7.4" text-anchor="middle" fill="#b83232" stroke="#b83232" stroke-width="0.1">MAPT</text><rect x="298.7" y="257.1" width="29.4" height="8.6" rx="1.6" fill="#fff" stroke="#9a35e6" stroke-width="0.65" stroke-opacity="0.85"/><text x="313.4" y="264.0" font-size="7.4" text-anchor="middle" fill="#9a35e6" stroke="#9a35e6" stroke-width="0.1">CRHR1</text><rect x="258.0" y="270.7" width="24.1" height="8.6" rx="1.6" fill="#fff" stroke="#b83232" stroke-width="0.65" stroke-opacity="0.85"/><text x="270.0" y="277.6" font-size="7.4" text-anchor="middle" fill="#b83232" stroke="#b83232" stroke-width="0.1">MAPT</text><rect x="291.5" y="270.7" width="29.4" height="8.6" rx="1.6" fill="#fff" stroke="#8b5a3c" stroke-width="0.65" stroke-opacity="0.85"/><text x="306.2" y="277.6" font-size="7.4" text-anchor="middle" fill="#8b5a3c" stroke="#8b5a3c" stroke-width="0.1">CRHR1</text><rect x="39.4" y="355.1" width="24.2" height="9.0" rx="1.6" fill="#fff" stroke="#1a1a1a" stroke-width="0.65" stroke-opacity="0.8"/><text x="51.5" y="362.2" font-size="7.4" text-anchor="middle" fill="#1a1a1a" stroke="#1a1a1a" stroke-width="0.1">UGP2</text><rect x="68.7" y="361.5" width="23.4" height="9.0" rx="1.6" fill="#fff" stroke="#1a1a1a" stroke-width="0.65" stroke-opacity="0.8"/><text x="80.4" y="368.6" font-size="7.4" text-anchor="middle" fill="#1a1a1a" stroke="#1a1a1a" stroke-width="0.1">UGP2</text><rect x="58.699999999999996" y="376.90000000000003" width="23.5" height="9.4" rx="1.6" fill="#fff" stroke="#1a1a1a" stroke-width="0.65" stroke-opacity="0.8"/><text x="70.5" y="384.2" font-size="7.4" text-anchor="middle" fill="#1a1a1a" stroke="#1a1a1a" stroke-width="0.1">UGP2</text><rect x="108.0" y="356.40000000000003" width="23.5" height="9.0" rx="1.6" fill="#fff" stroke="#1a1a1a" stroke-width="0.65" stroke-opacity="0.8"/><text x="119.8" y="363.5" font-size="7.4" text-anchor="middle" fill="#1a1a1a" stroke="#1a1a1a" stroke-width="0.1">ADD1</text><rect x="128.8" y="370.8" width="28.8" height="8.7" rx="1.6" fill="#fff" stroke="#3b3bea" stroke-width="0.65" stroke-opacity="0.85"/><text x="143.2" y="377.8" font-size="7.4" text-anchor="middle" fill="#3b3bea" stroke="#3b3bea" stroke-width="0.1">ZMAT2</text><rect x="154.70000000000002" y="356.40000000000003" width="31.0" height="8.7" rx="1.6" fill="#fff" stroke="#3b8a3b" stroke-width="0.65" stroke-opacity="0.85"/><text x="170.2" y="363.4" font-size="7.4" text-anchor="middle" fill="#3b8a3b" stroke="#3b8a3b" stroke-width="0.1">ZNF517</text><rect x="175.10000000000002" y="370.8" width="30.2" height="8.7" rx="1.6" fill="#fff" stroke="#3b8a3b" stroke-width="0.65" stroke-opacity="0.85"/><text x="190.2" y="377.8" font-size="7.4" text-anchor="middle" fill="#3b8a3b" stroke="#3b8a3b" stroke-width="0.1">ZNF484</text><rect x="153.9" y="384.5" width="30.2" height="9.0" rx="1.6" fill="#fff" stroke="#3b8a3b" stroke-width="0.65" stroke-opacity="0.85"/><text x="169.0" y="391.6" font-size="7.4" text-anchor="middle" fill="#3b8a3b" stroke="#3b8a3b" stroke-width="0.1">ZNF517</text><rect x="189.5" y="386.1" width="37.7" height="9.0" rx="1.6" fill="#fff" stroke="#555555" stroke-width="0.65" stroke-opacity="0.85"/><text x="208.3" y="393.2" font-size="7.4" text-anchor="middle" fill="#555555" stroke="#555555" stroke-width="0.1">MFSD13A</text><rect x="210.0" y="358.90000000000003" width="38.0" height="8.3" rx="1.6" fill="#fff" stroke="#555555" stroke-width="0.65" stroke-opacity="0.85"/><text x="229.0" y="365.7" font-size="7.4" text-anchor="middle" fill="#555555" stroke="#555555" stroke-width="0.1">MFSD13A</text><rect x="252.4" y="357.8" width="31.6" height="8.5" rx="1.6" fill="#fff" stroke="#1a1a1a" stroke-width="0.65" stroke-opacity="0.8"/><text x="268.2" y="364.7" font-size="7.4" text-anchor="middle" fill="#1a1a1a" stroke="#1a1a1a" stroke-width="0.1">KANSL1</text><rect x="290.7" y="357.8" width="24.5" height="8.5" rx="1.6" fill="#fff" stroke="#6fe0cd" stroke-width="0.65" stroke-opacity="0.85"/><text x="302.9" y="364.7" font-size="7.4" text-anchor="middle" fill="#6fe0cd" stroke="#6fe0cd" stroke-width="0.1">MAPT</text><rect x="222.8" y="372.90000000000003" width="32.2" height="8.2" rx="1.6" fill="#fff" stroke="#3b8a3b" stroke-width="0.65" stroke-opacity="0.85"/><text x="238.9" y="379.6" font-size="7.4" text-anchor="middle" fill="#3b8a3b" stroke="#3b8a3b" stroke-width="0.1">KANSL1</text><rect x="260.3" y="373.5" width="28.3" height="8.3" rx="1.6" fill="#fff" stroke="#9aabf4" stroke-width="0.65" stroke-opacity="0.85"/><text x="274.4" y="380.3" font-size="7.4" text-anchor="middle" fill="#9aabf4" stroke="#9aabf4" stroke-width="0.1">CRHR1</text><rect x="294.1" y="371.6" width="34.9" height="8.3" rx="1.6" fill="#fff" stroke="#3b3bea" stroke-width="0.65" stroke-opacity="0.85"/><text x="311.6" y="378.4" font-size="7.4" text-anchor="middle" fill="#3b3bea" stroke="#3b3bea" stroke-width="0.1">EPB41L1</text><rect x="236.60000000000002" y="386.8" width="29.2" height="8.9" rx="1.6" fill="#fff" stroke="#8b5a3c" stroke-width="0.65" stroke-opacity="0.85"/><text x="251.2" y="393.9" font-size="7.4" text-anchor="middle" fill="#8b5a3c" stroke="#8b5a3c" stroke-width="0.1">CRHR1</text><rect x="290.7" y="386.8" width="28.8" height="8.9" rx="1.6" fill="#fff" stroke="#8b5a3c" stroke-width="0.65" stroke-opacity="0.85"/><text x="305.1" y="393.9" font-size="7.4" text-anchor="middle" fill="#8b5a3c" stroke="#8b5a3c" stroke-width="0.1">CRHR1</text><rect x="375.40000000000003" y="258.8" width="24.0" height="8.2" rx="1.6" fill="#fff" stroke="#6fe0cd" stroke-width="0.65" stroke-opacity="0.85"/><text x="387.4" y="265.5" font-size="7.4" text-anchor="middle" fill="#6fe0cd" stroke="#6fe0cd" stroke-width="0.1">UGP2</text><rect x="403.5" y="269.7" width="24.8" height="8.2" rx="1.6" fill="#fff" stroke="#9aabf4" stroke-width="0.65" stroke-opacity="0.85"/><text x="415.9" y="276.4" font-size="7.4" text-anchor="middle" fill="#9aabf4" stroke="#9aabf4" stroke-width="0.1">TWF2</text><rect x="432.40000000000003" y="262.7" width="23.6" height="9.2" rx="1.6" fill="#fff" stroke="#1a1a1a" stroke-width="0.65" stroke-opacity="0.8"/><text x="444.2" y="269.9" font-size="7.4" text-anchor="middle" fill="#1a1a1a" stroke="#1a1a1a" stroke-width="0.1">ADD1</text><rect x="466.40000000000003" y="269.1" width="28.0" height="8.5" rx="1.6" fill="#fff" stroke="#3b3bea" stroke-width="0.65" stroke-opacity="0.85"/><text x="480.4" y="276.0" font-size="7.4" text-anchor="middle" fill="#3b3bea" stroke="#3b3bea" stroke-width="0.1">ZMAT2</text><rect x="523.6999999999999" y="232.70000000000002" width="37.6" height="9.5" rx="1.6" fill="#fff" stroke="#555555" stroke-width="0.65" stroke-opacity="0.85"/><text x="542.5" y="240.1" font-size="7.4" text-anchor="middle" fill="#555555" stroke="#555555" stroke-width="0.1">MFSD13A</text><rect x="498.5" y="255.10000000000002" width="27.8" height="9.5" rx="1.6" fill="#fff" stroke="#1a1a1a" stroke-width="0.65" stroke-opacity="0.8"/><text x="512.4" y="262.5" font-size="7.4" text-anchor="middle" fill="#1a1a1a" stroke="#1a1a1a" stroke-width="0.1">TRPA1</text><rect x="533.9" y="255.4" width="24.8" height="9.2" rx="1.6" fill="#fff" stroke="#8b5a3c" stroke-width="0.65" stroke-opacity="0.85"/><text x="546.3" y="262.6" font-size="7.4" text-anchor="middle" fill="#8b5a3c" stroke="#8b5a3c" stroke-width="0.1">DGKZ</text><rect x="520.6999999999999" y="269.1" width="22.2" height="8.5" rx="1.6" fill="#fff" stroke="#8b5a3c" stroke-width="0.65" stroke-opacity="0.85"/><text x="531.8" y="276.0" font-size="7.4" text-anchor="middle" fill="#8b5a3c" stroke="#8b5a3c" stroke-width="0.1">HSF1</text><rect x="563.4" y="268.6" width="40.0" height="8.4" rx="1.6" fill="#fff" stroke="#ee2a2a" stroke-width="0.65" stroke-opacity="0.85"/><text x="583.4" y="275.4" font-size="7.4" text-anchor="middle" fill="#ee2a2a" stroke="#ee2a2a" stroke-width="0.1">RABGGTA</text><rect x="608.6999999999999" y="269.7" width="32.5" height="8.7" rx="1.6" fill="#fff" stroke="#ee2a2a" stroke-width="0.65" stroke-opacity="0.85"/><text x="625.0" y="276.7" font-size="7.4" text-anchor="middle" fill="#ee2a2a" stroke="#ee2a2a" stroke-width="0.1">POLR2E</text><rect x="618.8" y="255.8" width="40.3" height="8.8" rx="1.6" fill="#fff" stroke="#1a1a1a" stroke-width="0.65" stroke-opacity="0.8"/><text x="639.0" y="262.8" font-size="7.4" text-anchor="middle" fill="#1a1a1a" stroke="#1a1a1a" stroke-width="0.1">EIF4ENIF1</text><rect x="358.8" y="359.90000000000003" width="26.6" height="8.2" rx="1.6" fill="#fff" stroke="#f0904a" stroke-width="0.65" stroke-opacity="0.85"/><text x="372.1" y="366.6" font-size="7.4" text-anchor="middle" fill="#f0904a" stroke="#f0904a" stroke-width="0.1">VPS45</text><rect x="403.5" y="355.7" width="23.4" height="8.2" rx="1.6" fill="#fff" stroke="#ee2a2a" stroke-width="0.65" stroke-opacity="0.85"/><text x="415.2" y="362.4" font-size="7.4" text-anchor="middle" fill="#ee2a2a" stroke="#ee2a2a" stroke-width="0.1">UGP2</text><rect x="390.0" y="371.8" width="23.9" height="8.2" rx="1.6" fill="#fff" stroke="#1a1a1a" stroke-width="0.65" stroke-opacity="0.8"/><text x="401.9" y="378.5" font-size="7.4" text-anchor="middle" fill="#1a1a1a" stroke="#1a1a1a" stroke-width="0.1">UGP2</text><rect x="412.8" y="385.5" width="24.2" height="8.5" rx="1.6" fill="#fff" stroke="#1a1a1a" stroke-width="0.65" stroke-opacity="0.8"/><text x="424.9" y="392.4" font-size="7.4" text-anchor="middle" fill="#1a1a1a" stroke="#1a1a1a" stroke-width="0.1">UGP2</text><rect x="419.8" y="371.0" width="17.6" height="8.6" rx="1.6" fill="#fff" stroke="#ee2a2a" stroke-width="0.65" stroke-opacity="0.85"/><text x="428.6" y="377.9" font-size="7.4" text-anchor="middle" fill="#ee2a2a" stroke="#ee2a2a" stroke-width="0.1">HTT</text><rect x="440.8" y="357.8" width="28.1" height="8.2" rx="1.6" fill="#fff" stroke="#3b3bea" stroke-width="0.65" stroke-opacity="0.85"/><text x="454.9" y="364.5" font-size="7.4" text-anchor="middle" fill="#3b3bea" stroke="#3b3bea" stroke-width="0.1">ZMAT2</text><rect x="463.7" y="371.5" width="32.7" height="8.5" rx="1.6" fill="#fff" stroke="#ee2a2a" stroke-width="0.65" stroke-opacity="0.85"/><text x="480.0" y="378.4" font-size="7.4" text-anchor="middle" fill="#ee2a2a" stroke="#ee2a2a" stroke-width="0.1">PRPF4B</text><rect x="519.3" y="371.0" width="30.4" height="8.6" rx="1.6" fill="#fff" stroke="#3b8a3b" stroke-width="0.65" stroke-opacity="0.85"/><text x="534.5" y="377.9" font-size="7.4" text-anchor="middle" fill="#3b8a3b" stroke="#3b8a3b" stroke-width="0.1">ZNF517</text><rect x="501.7" y="385.0" width="26.2" height="8.1" rx="1.6" fill="#fff" stroke="#dcd4a4" stroke-width="0.65" stroke-opacity="0.85"/><text x="514.8" y="391.7" font-size="7.4" text-anchor="middle" fill="#dcd4a4" stroke="#dcd4a4" stroke-width="0.1">ZNF34</text><rect x="547.9" y="357.0" width="29.4" height="8.9" rx="1.6" fill="#fff" stroke="#1a1a1a" stroke-width="0.65" stroke-opacity="0.8"/><text x="562.6" y="364.1" font-size="7.4" text-anchor="middle" fill="#1a1a1a" stroke="#1a1a1a" stroke-width="0.1">CPXM2</text><rect x="603.9" y="355.1" width="26.5" height="8.9" rx="1.6" fill="#fff" stroke="#1a1a1a" stroke-width="0.65" stroke-opacity="0.8"/><text x="617.2" y="362.2" font-size="7.4" text-anchor="middle" fill="#1a1a1a" stroke="#1a1a1a" stroke-width="0.1">STX16</text><rect x="618.5" y="368.8" width="41.2" height="9.4" rx="1.6" fill="#fff" stroke="#1a1a1a" stroke-width="0.65" stroke-opacity="0.8"/><text x="639.1" y="376.1" font-size="7.4" text-anchor="middle" fill="#1a1a1a" stroke="#1a1a1a" stroke-width="0.1">EIF4ENIF1</text><circle cx="13.5" cy="30.0" r="10.4" fill="#3b3b3b"/><text x="13.5" y="35.4" font-size="16" text-anchor="middle" fill="#fff">a</text><circle cx="342.3" cy="27.6" r="10.4" fill="#3b3b3b"/><text x="342.3" y="33.0" font-size="16" text-anchor="middle" fill="#fff">b</text><circle cx="13.5" cy="234.4" r="10.4" fill="#3b3b3b"/><text x="13.5" y="239.8" font-size="16" text-anchor="middle" fill="#fff">c</text><circle cx="342.4" cy="233.3" r="10.4" fill="#3b3b3b"/><text x="342.4" y="238.70000000000002" font-size="16" text-anchor="middle" fill="#fff">d</text><rect x="1.6" y="431.6" width="645" height="29.8" rx="2.5" fill="#fff" stroke="#e0e0e0" stroke-width="0.8"/><text x="7.8" y="449.7" font-size="9.4" fill="#1a1a1a" stroke="#1a1a1a" stroke-width="0.12">Tissue Type</text><circle cx="74.6" cy="441.1" r="4.8" fill="#555555" stroke="#777" stroke-opacity="0.35" stroke-width="0.6"/><text x="81.6" y="444.5" font-size="8.55" fill="#1a1a1a" stroke="#1a1a1a" stroke-width="0.12">Anterior Cingulate</text><circle cx="74.6" cy="452.8" r="4.8" fill="#8a2be2" stroke="#777" stroke-opacity="0.35" stroke-width="0.6"/><text x="81.6" y="456.2" font-size="8.55" fill="#1a1a1a" stroke="#1a1a1a" stroke-width="0.12">Frontal Cortex</text><circle cx="175.9" cy="441.1" r="4.8" fill="#b22a2a" stroke="#777" stroke-opacity="0.35" stroke-width="0.6"/><text x="182.9" y="444.5" font-size="8.55" fill="#1a1a1a" stroke="#1a1a1a" stroke-width="0.12">Caudate</text><circle cx="175.9" cy="452.8" r="4.8" fill="#a0a0a0" stroke="#777" stroke-opacity="0.35" stroke-width="0.6"/><text x="182.9" y="456.2" font-size="8.55" fill="#1a1a1a" stroke="#1a1a1a" stroke-width="0.12">Hippocampus</text><circle cx="248.6" cy="441.1" r="4.8" fill="#3a4ef0" stroke="#777" stroke-opacity="0.35" stroke-width="0.6"/><text x="255.6" y="444.5" font-size="8.55" fill="#1a1a1a" stroke="#1a1a1a" stroke-width="0.12">Cerebellar</text><circle cx="248.6" cy="452.8" r="4.8" fill="#a3b2f5" stroke="#777" stroke-opacity="0.35" stroke-width="0.6"/><text x="255.6" y="456.2" font-size="8.55" fill="#1a1a1a" stroke="#1a1a1a" stroke-width="0.12">Nucleus Accumbens</text><circle cx="344.0" cy="441.8" r="4.8" fill="#2e7d32" stroke="#777" stroke-opacity="0.35" stroke-width="0.6"/><text x="351.0" y="445.2" font-size="8.55" fill="#1a1a1a" stroke="#1a1a1a" stroke-width="0.12">Cerebellum</text><circle cx="344.0" cy="453.8" r="4.8" fill="#78e6d2" stroke="#777" stroke-opacity="0.35" stroke-width="0.6"/><text x="351.0" y="457.2" font-size="8.55" fill="#1a1a1a" stroke="#1a1a1a" stroke-width="0.12">Putamen</text><circle cx="418.4" cy="441.4" r="4.8" fill="#e8904a" stroke="#777" stroke-opacity="0.35" stroke-width="0.6"/><text x="425.4" y="444.79999999999995" font-size="8.55" fill="#1a1a1a" stroke="#1a1a1a" stroke-width="0.12">Substantia Nigra</text><circle cx="418.4" cy="453.8" r="4.8" fill="#7b4a24" stroke="#777" stroke-opacity="0.35" stroke-width="0.6"/><text x="425.4" y="457.2" font-size="8.55" fill="#1a1a1a" stroke="#1a1a1a" stroke-width="0.12">Cortex</text><circle cx="504.1" cy="441.4" r="4.8" fill="#0a0a0a" stroke="#777" stroke-opacity="0.35" stroke-width="0.6"/><text x="511.1" y="444.79999999999995" font-size="8.55" fill="#1a1a1a" stroke="#1a1a1a" stroke-width="0.12">Fibroblasts</text><circle cx="504.1" cy="453.8" r="4.8" fill="#ee1111" stroke="#777" stroke-opacity="0.35" stroke-width="0.6"/><text x="511.1" y="457.2" font-size="8.55" fill="#1a1a1a" stroke="#1a1a1a" stroke-width="0.12">Whole Blood</text><circle cx="571.3" cy="441.4" r="4.8" fill="#f2c8f2" stroke="#777" stroke-opacity="0.35" stroke-width="0.6"/><text x="578.3" y="444.79999999999995" font-size="8.55" fill="#1a1a1a" stroke="#1a1a1a" stroke-width="0.12">Lymphocytes</text><rect x="114.2" y="468.6" width="418.6" height="19.5" rx="2.5" fill="#fff" stroke="#e0e0e0" stroke-width="0.8"/><text x="122" y="483.3" font-size="9.4" fill="#1a1a1a" stroke="#1a1a1a" stroke-width="0.12">CC Trait</text><circle cx="183.8" cy="479.6" r="3.8" fill="none" stroke="#111" stroke-width="1"/><path d="M223.6 479.6h9.6M228.4 474.8v9.6" stroke="#111" stroke-width="1"/><path d="M277.1 475.0l4.6 8.2h-9.2z" fill="none" stroke="#111" stroke-width="0.9"/><path d="M352 484.0l4.6 -8.2h-9.2z" fill="none" stroke="#111" stroke-width="0.9"/><path d="M406.8 475.20000000000005l7 8.8M413.8 475.20000000000005l-7 8.8" stroke="#111" stroke-width="0.9"/><path d="M463.5 474.8l4.8 4.8l-4.8 4.8l-4.8 -4.8z" fill="none" stroke="#111" stroke-width="0.9"/><text x="190.6" y="482.8" font-size="8.55" fill="#1a1a1a" stroke="#1a1a1a" stroke-width="0.12">Total</text><text x="235.0" y="482.8" font-size="8.55" fill="#1a1a1a" stroke="#1a1a1a" stroke-width="0.12">Genu</text><text x="284.2" y="482.8" font-size="8.55" fill="#1a1a1a" stroke="#1a1a1a" stroke-width="0.12">Anterior Body</text><text x="358.8" y="482.8" font-size="8.55" fill="#1a1a1a" stroke="#1a1a1a" stroke-width="0.12">Splenium</text><text x="416.2" y="482.8" font-size="8.55" fill="#1a1a1a" stroke="#1a1a1a" stroke-width="0.12">Isthmus</text><text x="470.4" y="482.8" font-size="8.55" fill="#1a1a1a" stroke="#1a1a1a" stroke-width="0.12">Posterior Body</text></svg></body></html>
